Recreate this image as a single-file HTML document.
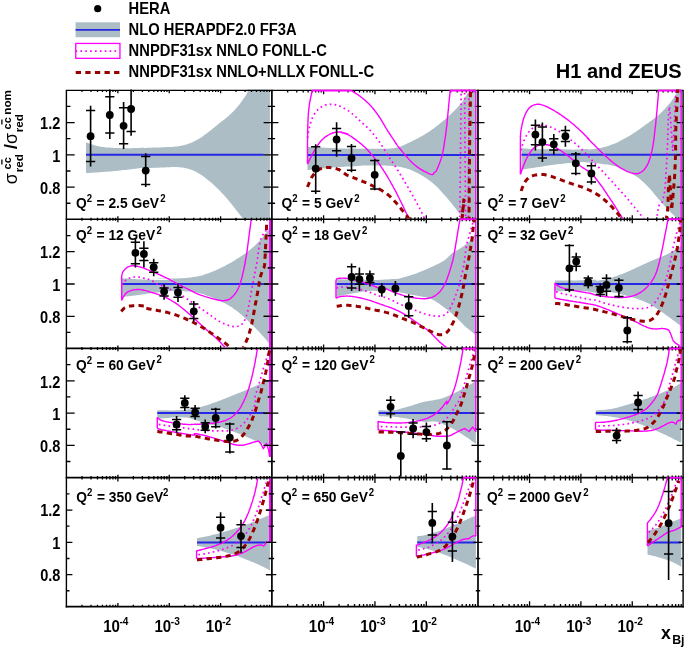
<!DOCTYPE html>
<html><head><meta charset="utf-8"><title>H1 and ZEUS</title>
<style>html,body{margin:0;padding:0;background:#fff;}svg{display:block;will-change:transform;}text{font-family:"Liberation Sans",sans-serif;font-weight:bold;fill:#000;}</style></head><body>
<svg width="685" height="649" viewBox="0 0 685 649">
<rect x="0" y="0" width="685" height="649" fill="#fff"/>
<defs>
<clipPath id="cp00"><rect x="66.4" y="89.50" width="205.5" height="128.90"/></clipPath>
<clipPath id="cp01"><rect x="271.9" y="89.50" width="206.1" height="128.90"/></clipPath>
<clipPath id="cp02"><rect x="478.0" y="89.50" width="205.1" height="128.90"/></clipPath>
<clipPath id="cp10"><rect x="66.4" y="220.10" width="205.5" height="127.45"/></clipPath>
<clipPath id="cp11"><rect x="271.9" y="218.35" width="206.1" height="129.20"/></clipPath>
<clipPath id="cp12"><rect x="478.0" y="218.35" width="205.1" height="129.20"/></clipPath>
<clipPath id="cp20"><rect x="66.4" y="349.25" width="205.5" height="127.50"/></clipPath>
<clipPath id="cp21"><rect x="271.9" y="347.50" width="206.1" height="129.25"/></clipPath>
<clipPath id="cp22"><rect x="478.0" y="347.50" width="205.1" height="129.25"/></clipPath>
<clipPath id="cp30"><rect x="66.4" y="478.45" width="205.5" height="129.15"/></clipPath>
<clipPath id="cp31"><rect x="271.9" y="476.70" width="206.1" height="130.90"/></clipPath>
<clipPath id="cp32"><rect x="478.0" y="476.70" width="205.1" height="130.90"/></clipPath>
</defs>
<g clip-path="url(#cp00)">
<path d="M86.0 142.4 L86.4 142.5 L87.0 142.8 L87.7 143.0 L88.5 143.3 L89.3 143.6 L90.2 144.0 L91.2 144.3 L92.1 144.6 L93.1 144.8 L94.0 145.1 L95.1 145.4 L96.2 145.7 L97.3 146.0 L98.4 146.3 L99.6 146.5 L100.9 146.8 L102.2 146.9 L103.5 147.1 L104.9 147.3 L106.4 147.4 L107.9 147.5 L109.4 147.6 L111.0 147.7 L112.6 147.8 L114.3 147.9 L116.1 148.0 L117.9 148.0 L119.7 148.1 L121.6 148.2 L123.5 148.2 L125.4 148.2 L127.2 148.2 L129.1 148.2 L131.2 148.2 L133.2 148.1 L135.2 148.0 L137.2 148.0 L139.0 147.9 L140.6 147.8 L141.9 147.8 L142.8 147.8 L143.4 147.8 L143.7 147.8 L143.8 147.8 L144.0 147.9 L144.3 147.9 L145.0 147.9 L146.0 147.9 L147.5 147.8 L149.3 147.8 L151.4 147.7 L153.6 147.6 L155.9 147.5 L158.2 147.4 L160.5 147.4 L162.5 147.3 L164.5 147.2 L166.4 147.1 L168.3 147.0 L170.1 147.0 L171.9 146.9 L173.7 146.7 L175.4 146.6 L177.0 146.4 L178.5 146.2 L179.8 146.0 L181.1 145.8 L182.4 145.5 L183.6 145.2 L184.8 144.9 L186.0 144.6 L187.3 144.2 L188.6 143.7 L189.9 143.3 L191.2 142.7 L192.5 142.2 L193.7 141.6 L195.0 141.0 L196.3 140.3 L197.6 139.6 L198.9 138.9 L200.2 138.0 L201.5 137.2 L202.8 136.2 L204.1 135.3 L205.4 134.3 L206.7 133.4 L207.9 132.4 L209.2 131.4 L210.5 130.4 L211.8 129.4 L213.1 128.3 L214.4 127.3 L215.7 126.2 L217.0 125.2 L218.3 124.1 L219.6 123.1 L220.9 122.1 L222.2 121.0 L223.6 120.0 L224.9 119.0 L226.2 117.9 L227.4 116.9 L228.6 115.9 L229.7 114.8 L230.9 113.8 L231.9 112.8 L233.0 111.7 L234.0 110.7 L235.0 109.7 L235.9 108.6 L236.9 107.6 L237.7 106.6 L238.6 105.5 L239.4 104.4 L240.2 103.4 L241.0 102.3 L241.7 101.3 L242.4 100.3 L243.0 99.4 L243.7 98.5 L244.2 97.7 L244.8 96.9 L245.3 96.2 L245.8 95.5 L246.3 94.7 L246.7 94.0 L247.2 93.2 L247.5 92.3 L247.5 91.3 L247.5 90.2 L247.5 89.2 L247.6 88.2 L248.1 87.3 L248.9 86.5 L250.3 85.9 L252.4 85.6 L255.3 85.4 L258.7 85.4 L262.3 85.5 L265.9 85.6 L269.3 85.8 L269.9 85.9 L269.9 85.9 L269.9 224.3 L269.9 224.3 L268.2 224.4 L264.1 224.5 L259.7 224.6 L255.3 224.7 L251.1 224.6 L247.6 224.5 L245.1 224.3 L243.6 223.9 L242.8 223.4 L242.6 222.9 L242.7 222.2 L242.9 221.5 L243.2 220.7 L243.3 219.9 L243.0 219.1 L242.5 218.2 L241.8 217.3 L241.1 216.3 L240.3 215.3 L239.5 214.2 L238.6 213.1 L237.8 212.0 L236.9 210.9 L235.9 209.7 L235.0 208.4 L234.0 207.2 L233.0 205.9 L231.9 204.6 L230.9 203.2 L229.7 201.9 L228.6 200.5 L227.4 199.1 L226.2 197.7 L224.9 196.3 L223.6 194.8 L222.2 193.3 L220.9 191.9 L219.6 190.5 L218.3 189.2 L217.0 187.9 L215.7 186.7 L214.4 185.5 L213.1 184.3 L211.8 183.1 L210.5 182.0 L209.2 180.9 L207.9 179.9 L206.7 178.9 L205.4 177.9 L204.1 176.9 L202.8 175.9 L201.5 175.1 L200.2 174.2 L198.9 173.4 L197.6 172.7 L196.3 172.0 L195.0 171.3 L193.7 170.8 L192.5 170.2 L191.2 169.7 L189.9 169.3 L188.6 168.9 L187.3 168.5 L186.0 168.2 L184.8 167.9 L183.6 167.7 L182.4 167.5 L181.1 167.4 L179.8 167.3 L178.5 167.2 L177.0 167.1 L175.4 167.0 L173.7 167.1 L171.9 167.1 L170.1 167.2 L168.3 167.2 L166.4 167.3 L164.5 167.4 L162.5 167.5 L160.5 167.6 L158.2 167.7 L155.9 167.7 L153.6 167.8 L151.4 167.9 L149.3 168.0 L147.5 168.1 L146.0 168.1 L145.0 168.1 L144.3 168.1 L144.0 168.0 L143.8 168.0 L143.7 167.9 L143.4 167.9 L142.8 167.9 L141.9 168.0 L140.6 168.1 L139.0 168.3 L137.2 168.5 L135.2 168.8 L133.2 169.0 L131.2 169.3 L129.1 169.5 L127.2 169.7 L125.4 169.9 L123.6 170.1 L121.8 170.3 L119.9 170.5 L118.1 170.7 L116.3 170.9 L114.4 171.0 L112.6 171.2 L110.8 171.4 L108.9 171.5 L107.0 171.7 L105.1 171.8 L103.3 172.0 L101.4 172.1 L99.7 172.3 L98.0 172.4 L96.3 172.5 L94.5 172.6 L92.7 172.7 L91.0 172.8 L89.5 172.9 L88.1 173.0 L86.9 173.1 L86.0 173.1 Z" fill="#acbdc6"/>
<path d="M86.0 154.8 L263.7 154.8" stroke="#2727e6" stroke-width="2.0" fill="none"/>
</g>
<g clip-path="url(#cp01)">
<path d="M307.5 146.8 L309.4 146.9 L311.8 147.1 L314.8 147.3 L318.1 147.4 L321.6 147.6 L325.3 147.8 L329.0 148.0 L332.7 148.1 L336.5 148.2 L340.5 148.4 L344.7 148.5 L348.9 148.5 L353.2 148.6 L357.4 148.7 L361.4 148.7 L365.1 148.8 L368.6 148.8 L372.1 148.8 L375.4 148.8 L378.7 148.8 L381.7 148.8 L384.6 148.8 L387.2 148.7 L389.6 148.6 L391.6 148.4 L393.2 148.2 L394.6 148.0 L395.8 147.8 L396.9 147.5 L398.0 147.2 L399.1 146.8 L400.4 146.4 L401.7 145.9 L403.1 145.4 L404.4 144.8 L405.8 144.2 L407.1 143.6 L408.4 143.0 L409.8 142.3 L411.1 141.7 L412.5 141.0 L413.8 140.3 L415.2 139.7 L416.5 139.0 L417.9 138.3 L419.2 137.6 L420.6 136.8 L421.9 136.0 L423.3 135.3 L424.6 134.5 L426.0 133.6 L427.3 132.8 L428.7 131.9 L430.0 131.0 L431.4 130.1 L432.7 129.1 L434.1 128.2 L435.4 127.1 L436.8 126.1 L438.1 125.0 L439.5 123.9 L440.8 122.8 L442.2 121.7 L443.5 120.5 L444.9 119.4 L446.2 118.2 L447.6 117.0 L449.0 115.7 L450.4 114.5 L451.7 113.3 L453.0 112.0 L454.3 110.8 L455.5 109.6 L456.6 108.4 L457.7 107.2 L458.8 106.0 L459.9 104.9 L460.9 103.6 L461.9 102.4 L462.9 101.1 L463.9 99.7 L464.8 98.1 L465.7 96.5 L466.6 94.9 L467.5 93.3 L468.5 91.9 L469.4 90.8 L470.5 89.9 L471.6 89.3 L473.0 89.1 L474.4 89.1 L475.8 89.2 L475.9 89.4 L475.9 89.6 L475.9 89.8 L475.9 89.9 L475.9 219.7 L475.9 219.8 L475.9 219.8 L474.5 219.9 L471.9 220.0 L469.4 220.1 L466.9 220.0 L464.9 220.0 L463.3 219.7 L462.4 219.4 L461.8 219.1 L461.5 218.6 L461.4 218.1 L461.4 217.6 L461.3 216.9 L461.2 216.2 L460.8 215.4 L460.2 214.6 L459.5 213.7 L458.8 212.7 L458.0 211.7 L457.2 210.5 L456.3 209.4 L455.3 208.1 L454.3 206.8 L453.1 205.4 L451.9 203.8 L450.6 202.2 L449.2 200.5 L447.7 198.7 L446.3 197.0 L444.9 195.4 L443.5 193.9 L442.2 192.4 L440.8 190.9 L439.5 189.5 L438.1 188.1 L436.8 186.8 L435.4 185.5 L434.1 184.3 L432.7 183.1 L431.4 182.0 L430.0 180.9 L428.7 179.9 L427.3 179.0 L426.0 178.1 L424.6 177.2 L423.3 176.3 L421.9 175.5 L420.6 174.7 L419.2 174.0 L417.9 173.2 L416.5 172.6 L415.2 171.9 L413.8 171.3 L412.5 170.7 L411.1 170.1 L409.8 169.6 L408.4 169.1 L407.1 168.7 L405.8 168.2 L404.4 167.9 L403.1 167.5 L401.7 167.2 L400.4 166.9 L399.1 166.7 L397.9 166.5 L396.8 166.3 L395.6 166.2 L394.4 166.1 L393.0 166.0 L391.4 165.9 L389.6 165.8 L387.3 165.7 L384.8 165.6 L381.9 165.5 L379.0 165.5 L376.0 165.4 L373.1 165.4 L370.4 165.4 L368.0 165.4 L366.0 165.4 L364.2 165.5 L362.6 165.6 L361.1 165.7 L359.7 165.8 L358.1 166.0 L356.3 166.1 L354.3 166.2 L352.0 166.4 L349.5 166.5 L346.9 166.6 L344.2 166.8 L341.4 166.9 L338.5 167.1 L335.6 167.3 L332.7 167.5 L329.6 167.8 L326.1 168.2 L322.4 168.5 L318.7 168.9 L315.3 169.3 L312.1 169.6 L309.4 169.9 L307.5 170.1 Z" fill="#acbdc6"/>
<path d="M307.5 154.9 L476.0 154.9" stroke="#2727e6" stroke-width="2.0" fill="none"/>
</g>
<g clip-path="url(#cp02)">
<path d="M521.5 148.2 L522.6 148.3 L524.2 148.4 L526.0 148.6 L528.0 148.7 L530.2 148.9 L532.5 149.0 L534.9 149.1 L537.3 149.2 L539.8 149.3 L542.5 149.3 L545.4 149.3 L548.3 149.3 L551.3 149.2 L554.1 149.2 L556.8 149.2 L559.2 149.2 L561.4 149.3 L563.4 149.3 L565.3 149.4 L567.0 149.5 L568.7 149.6 L570.4 149.6 L572.1 149.7 L573.9 149.7 L575.8 149.6 L577.9 149.5 L580.0 149.4 L582.1 149.3 L584.1 149.2 L585.9 149.0 L587.4 149.0 L588.5 148.9 L589.1 149.0 L589.1 149.1 L588.8 149.2 L588.3 149.4 L587.7 149.5 L587.4 149.7 L587.4 149.7 L588.0 149.7 L589.1 149.6 L590.6 149.4 L592.4 149.2 L594.4 148.9 L596.5 148.6 L598.6 148.3 L600.7 147.9 L602.6 147.5 L604.5 147.0 L606.3 146.5 L608.1 145.9 L610.0 145.3 L611.8 144.6 L613.6 143.9 L615.4 143.2 L617.3 142.4 L619.1 141.5 L620.9 140.6 L622.8 139.6 L624.6 138.6 L626.4 137.6 L628.3 136.5 L630.1 135.4 L631.9 134.3 L633.8 133.1 L635.6 131.9 L637.5 130.6 L639.4 129.2 L641.3 127.9 L643.1 126.6 L644.9 125.3 L646.5 124.1 L648.2 122.9 L649.7 121.8 L651.3 120.7 L652.8 119.6 L654.2 118.5 L655.6 117.4 L657.0 116.4 L658.3 115.3 L659.5 114.2 L660.7 113.0 L661.9 111.9 L663.0 110.8 L664.1 109.7 L665.1 108.6 L666.1 107.5 L667.0 106.5 L667.9 105.5 L668.7 104.6 L669.5 103.7 L670.2 102.8 L670.9 102.0 L671.6 101.1 L672.2 100.1 L672.9 99.2 L673.6 98.1 L674.2 97.0 L674.9 95.9 L675.5 94.8 L676.1 93.6 L676.6 92.5 L677.1 91.4 L677.6 90.4 L677.9 89.4 L678.0 88.3 L678.1 87.2 L678.1 86.2 L678.2 85.2 L678.4 84.4 L678.8 83.6 L679.5 83.1 L680.5 82.7 L681.3 82.6 L681.3 82.5 L681.3 82.6 L681.3 82.8 L681.3 82.9 L681.3 83.0 L681.3 83.1 L681.3 220.3 L681.3 220.3 L681.3 220.4 L681.3 220.4 L681.3 220.5 L681.3 220.5 L681.1 220.5 L679.6 220.4 L678.5 220.3 L677.7 220.1 L677.3 219.9 L677.1 219.7 L676.9 219.4 L676.8 219.0 L676.7 218.6 L676.4 218.0 L675.8 217.4 L675.0 216.6 L674.1 215.6 L673.0 214.6 L671.9 213.5 L670.7 212.3 L669.5 211.1 L668.2 209.9 L667.0 208.6 L665.8 207.3 L664.6 205.9 L663.3 204.4 L662.0 202.9 L660.7 201.4 L659.4 199.9 L658.1 198.4 L656.8 196.9 L655.5 195.4 L654.2 193.9 L653.0 192.3 L651.7 190.8 L650.4 189.3 L649.1 187.9 L647.8 186.5 L646.5 185.2 L645.3 183.9 L644.0 182.7 L642.7 181.5 L641.4 180.4 L640.1 179.3 L638.9 178.3 L637.6 177.3 L636.3 176.4 L635.0 175.5 L633.8 174.7 L632.5 173.9 L631.3 173.2 L630.0 172.5 L628.7 171.8 L627.4 171.2 L626.1 170.5 L624.7 169.9 L623.2 169.3 L621.8 168.7 L620.3 168.1 L618.8 167.6 L617.3 167.0 L615.8 166.6 L614.3 166.1 L612.9 165.7 L611.5 165.4 L610.1 165.1 L608.7 164.8 L607.2 164.6 L605.8 164.4 L604.2 164.2 L602.6 163.9 L600.9 163.7 L599.0 163.5 L597.0 163.3 L595.0 163.1 L593.0 162.9 L591.2 162.7 L589.5 162.6 L588.0 162.5 L586.8 162.4 L585.9 162.3 L585.2 162.2 L584.6 162.1 L584.0 162.1 L583.3 162.1 L582.4 162.1 L581.2 162.1 L579.7 162.2 L578.1 162.3 L576.3 162.4 L574.4 162.6 L572.4 162.7 L570.4 162.9 L568.4 163.1 L566.5 163.3 L564.7 163.5 L562.9 163.7 L561.1 163.9 L559.2 164.1 L557.4 164.3 L555.6 164.6 L553.7 164.8 L551.9 165.0 L550.1 165.3 L548.3 165.6 L546.5 165.8 L544.7 166.1 L542.8 166.4 L541.0 166.7 L539.2 166.9 L537.3 167.2 L535.2 167.5 L533.0 167.9 L530.7 168.3 L528.5 168.6 L526.3 169.0 L524.3 169.3 L522.7 169.5 L521.5 169.7 Z" fill="#acbdc6"/>
<path d="M521.5 154.8 L682.0 154.8" stroke="#2727e6" stroke-width="2.0" fill="none"/>
</g>
<g clip-path="url(#cp10)">
<path d="M121.7 278.2 L122.8 278.3 L124.2 278.4 L125.9 278.5 L127.8 278.6 L129.8 278.8 L132.0 278.9 L134.3 279.1 L136.6 279.2 L139.1 279.3 L141.8 279.4 L144.6 279.5 L147.6 279.7 L150.5 279.8 L153.4 279.8 L156.1 279.9 L158.5 279.9 L160.9 280.0 L163.5 280.0 L165.9 280.0 L168.3 279.9 L170.3 279.9 L171.9 279.8 L172.9 279.8 L173.2 279.6 L172.3 279.5 L170.3 279.3 L167.6 279.1 L164.5 278.8 L161.4 278.6 L158.8 278.4 L157.0 278.2 L156.5 278.1 L157.3 278.0 L159.0 278.1 L161.5 278.2 L164.4 278.3 L167.7 278.4 L171.0 278.5 L174.2 278.5 L177.0 278.5 L179.6 278.3 L182.3 278.2 L185.1 277.9 L187.9 277.7 L190.5 277.4 L193.1 277.1 L195.4 276.7 L197.5 276.4 L199.2 276.1 L200.8 275.8 L202.1 275.4 L203.2 275.0 L204.3 274.6 L205.4 274.2 L206.5 273.8 L207.7 273.4 L209.0 272.9 L210.3 272.4 L211.6 271.9 L212.8 271.4 L214.1 270.9 L215.4 270.4 L216.7 269.8 L218.0 269.3 L219.2 268.7 L220.5 268.1 L221.8 267.5 L223.1 266.8 L224.4 266.2 L225.7 265.5 L226.9 264.8 L228.2 264.1 L229.5 263.4 L230.8 262.7 L232.1 261.9 L233.3 261.2 L234.6 260.4 L235.9 259.6 L237.2 258.8 L238.5 258.0 L239.7 257.2 L241.0 256.3 L242.3 255.5 L243.6 254.6 L244.9 253.7 L246.1 252.8 L247.4 251.8 L248.7 250.8 L250.0 249.8 L251.3 248.7 L252.6 247.5 L254.0 246.4 L255.3 245.2 L256.5 244.0 L257.8 242.8 L259.0 241.6 L260.1 240.3 L261.3 239.0 L262.4 237.6 L263.5 236.3 L264.5 234.9 L265.5 233.6 L266.4 232.4 L267.1 231.3 L267.8 230.4 L268.3 229.5 L268.7 228.7 L269.1 228.0 L269.4 227.3 L269.6 226.6 L269.9 225.9 L269.9 225.2 L269.9 224.4 L269.9 223.5 L269.9 222.6 L269.9 221.7 L269.9 220.9 L269.9 220.2 L269.9 219.5 L269.9 219.0 L269.9 218.8 L269.9 218.6 L269.9 218.6 L269.9 218.7 L269.9 218.8 L269.9 218.9 L269.9 219.0 L269.9 219.0 L269.9 348.1 L269.9 348.2 L269.9 348.3 L269.9 348.5 L269.9 348.6 L269.9 348.7 L269.9 348.7 L269.9 348.5 L269.9 348.1 L269.9 347.6 L269.9 346.9 L269.9 346.1 L269.8 345.1 L269.2 344.1 L268.6 343.1 L267.9 342.0 L267.1 341.0 L266.3 339.9 L265.4 338.8 L264.4 337.7 L263.4 336.6 L262.3 335.4 L261.2 334.2 L260.1 333.0 L259.0 331.8 L257.8 330.5 L256.5 329.2 L255.3 327.9 L254.0 326.6 L252.6 325.3 L251.3 324.0 L250.0 322.7 L248.7 321.5 L247.4 320.3 L246.1 319.1 L244.9 317.9 L243.6 316.7 L242.3 315.5 L241.0 314.4 L239.7 313.3 L238.5 312.3 L237.2 311.3 L235.9 310.3 L234.6 309.4 L233.3 308.4 L232.1 307.6 L230.8 306.7 L229.5 305.9 L228.2 305.1 L226.9 304.4 L225.7 303.7 L224.4 303.0 L223.1 302.4 L221.8 301.7 L220.5 301.2 L219.2 300.6 L218.0 300.0 L216.7 299.4 L215.4 298.9 L214.1 298.3 L212.8 297.8 L211.6 297.3 L210.3 296.8 L209.0 296.3 L207.7 295.9 L206.5 295.5 L205.4 295.0 L204.3 294.6 L203.2 294.2 L202.1 293.9 L200.8 293.5 L199.2 293.1 L197.5 292.8 L195.4 292.5 L193.1 292.1 L190.5 291.8 L187.9 291.5 L185.1 291.2 L182.3 291.0 L179.6 290.8 L177.0 290.8 L174.2 290.9 L171.2 291.1 L168.0 291.4 L164.9 291.7 L162.0 292.1 L159.5 292.4 L157.6 292.7 L156.5 292.8 L156.4 292.8 L157.3 292.7 L158.9 292.5 L160.8 292.3 L162.8 292.0 L164.5 291.8 L165.6 291.7 L165.9 291.6 L165.2 291.7 L163.9 291.8 L162.1 292.0 L160.0 292.2 L157.8 292.4 L155.5 292.6 L153.2 292.9 L151.2 293.1 L149.4 293.4 L147.6 293.6 L145.8 293.9 L143.9 294.2 L142.1 294.5 L140.3 294.8 L138.4 295.1 L136.6 295.3 L134.6 295.5 L132.5 295.8 L130.4 296.0 L128.2 296.2 L126.2 296.4 L124.4 296.5 L122.8 296.7 L121.7 296.8 Z" fill="#acbdc6"/>
<path d="M121.7 284.1 L263.5 284.1" stroke="#2727e6" stroke-width="2.0" fill="none"/>
</g>
<g clip-path="url(#cp11)">
<path d="M336.4 279.2 L337.8 279.2 L339.5 279.3 L341.6 279.3 L344.0 279.4 L346.5 279.5 L349.1 279.5 L351.7 279.6 L354.3 279.6 L356.9 279.7 L359.6 279.8 L362.5 279.8 L365.5 279.9 L368.4 279.9 L371.2 279.9 L373.8 280.0 L376.2 279.9 L378.4 279.9 L380.5 279.8 L382.5 279.7 L384.4 279.6 L386.1 279.5 L387.8 279.4 L389.4 279.3 L390.9 279.2 L392.2 279.1 L393.3 279.1 L394.3 279.1 L395.3 279.0 L396.2 279.0 L397.2 278.9 L398.3 278.7 L399.6 278.4 L401.2 278.1 L402.9 277.6 L404.7 277.1 L406.6 276.5 L408.5 275.9 L410.5 275.3 L412.4 274.7 L414.3 274.0 L416.1 273.4 L417.9 272.7 L419.8 272.0 L421.6 271.3 L423.4 270.5 L425.3 269.8 L427.1 269.0 L428.9 268.2 L430.8 267.3 L432.7 266.4 L434.7 265.5 L436.6 264.6 L438.5 263.7 L440.3 262.7 L442.0 261.8 L443.5 260.9 L444.9 259.9 L446.0 259.0 L447.1 258.1 L448.0 257.2 L448.9 256.2 L449.8 255.3 L450.8 254.5 L451.8 253.6 L453.0 252.8 L454.2 252.1 L455.4 251.3 L456.6 250.6 L457.8 249.9 L459.0 249.2 L460.1 248.5 L461.2 247.8 L462.2 247.1 L463.2 246.4 L464.1 245.8 L465.0 245.1 L465.9 244.5 L466.7 243.8 L467.5 243.2 L468.2 242.5 L468.9 241.9 L469.6 241.2 L470.2 240.5 L470.8 239.8 L471.4 239.2 L471.9 238.5 L472.4 237.9 L472.9 237.2 L473.4 236.6 L473.7 236.1 L474.1 235.5 L474.4 234.9 L474.7 234.4 L475.1 233.8 L475.4 233.2 L475.8 232.6 L475.9 231.8 L475.9 231.0 L475.9 230.2 L475.9 229.3 L475.9 228.5 L475.9 227.8 L475.9 227.2 L475.9 226.7 L475.9 337.0 L475.9 336.6 L475.9 336.2 L475.9 335.7 L475.9 335.1 L475.4 334.5 L474.5 333.9 L473.7 333.2 L472.8 332.6 L472.0 331.9 L471.1 331.2 L470.2 330.6 L469.3 329.8 L468.3 329.1 L467.4 328.3 L466.4 327.5 L465.5 326.7 L464.6 325.9 L463.7 325.0 L462.8 324.1 L461.8 323.1 L460.9 322.2 L460.0 321.2 L459.1 320.3 L458.2 319.4 L457.3 318.5 L456.4 317.7 L455.4 316.8 L454.5 316.0 L453.6 315.2 L452.7 314.4 L451.8 313.6 L450.9 312.8 L450.0 312.0 L449.0 311.3 L448.1 310.5 L447.2 309.8 L446.3 309.1 L445.4 308.4 L444.5 307.7 L443.5 307.0 L442.6 306.3 L441.7 305.6 L440.8 304.9 L439.9 304.3 L439.0 303.6 L438.1 303.0 L437.1 302.4 L436.2 301.8 L435.4 301.3 L434.6 300.8 L433.8 300.3 L433.0 299.9 L432.2 299.4 L431.3 299.0 L430.2 298.6 L428.9 298.2 L427.4 297.8 L425.8 297.4 L424.0 297.0 L422.0 296.7 L420.1 296.3 L418.1 296.0 L416.2 295.6 L414.3 295.3 L412.4 294.9 L410.6 294.5 L408.8 294.2 L407.0 293.8 L405.1 293.4 L403.3 293.1 L401.5 292.7 L399.6 292.3 L397.7 291.9 L395.7 291.5 L393.6 291.0 L391.5 290.6 L389.5 290.2 L387.7 289.8 L386.2 289.6 L385.0 289.4 L384.3 289.4 L384.0 289.5 L384.1 289.7 L384.3 290.0 L384.5 290.3 L384.5 290.5 L384.3 290.8 L383.5 290.9 L382.3 291.0 L380.8 291.0 L379.0 290.9 L377.1 290.9 L375.0 290.8 L372.9 290.8 L370.8 290.8 L368.9 290.9 L367.1 291.1 L365.3 291.3 L363.6 291.5 L361.8 291.8 L360.0 292.1 L358.2 292.4 L356.3 292.8 L354.3 293.1 L352.1 293.5 L349.6 294.0 L347.0 294.5 L344.4 295.1 L341.9 295.6 L339.7 296.1 L337.8 296.5 L336.4 296.8 Z" fill="#acbdc6"/>
<path d="M336.4 284.0 L475.0 284.0" stroke="#2727e6" stroke-width="2.0" fill="none"/>
</g>
<g clip-path="url(#cp12)">
<path d="M555.0 280.5 L556.4 280.5 L558.4 280.5 L560.7 280.5 L563.2 280.5 L566.0 280.6 L568.8 280.5 L571.6 280.5 L574.3 280.5 L577.1 280.4 L580.1 280.3 L583.3 280.2 L586.5 280.0 L589.6 279.9 L592.3 279.8 L594.6 279.8 L596.2 279.8 L597.1 279.9 L597.2 280.1 L596.8 280.3 L596.1 280.6 L595.3 280.9 L594.7 281.1 L594.6 281.2 L595.0 281.2 L596.1 281.0 L597.5 280.8 L599.3 280.5 L601.3 280.1 L603.4 279.7 L605.5 279.3 L607.6 278.8 L609.5 278.3 L611.3 277.8 L613.1 277.2 L614.9 276.6 L616.7 276.0 L618.5 275.3 L620.3 274.6 L622.2 273.9 L624.0 273.2 L625.8 272.5 L627.6 271.7 L629.4 270.9 L631.2 270.0 L633.0 269.2 L634.8 268.4 L636.6 267.5 L638.5 266.7 L640.3 265.9 L642.1 265.0 L643.9 264.2 L645.7 263.4 L647.5 262.6 L649.3 261.8 L651.1 261.0 L652.9 260.2 L654.8 259.4 L656.6 258.7 L658.5 257.9 L660.3 257.2 L662.1 256.5 L663.9 255.8 L665.6 255.0 L667.2 254.3 L668.7 253.6 L670.1 252.8 L671.5 252.0 L672.8 251.3 L674.1 250.5 L675.3 249.8 L676.5 249.0 L677.7 248.3 L678.9 247.6 L680.1 246.8 L681.3 246.0 L681.3 245.3 L681.3 244.6 L681.3 243.9 L681.3 243.4 L681.3 243.0 L681.3 333.3 L681.3 332.9 L681.3 332.4 L681.3 331.7 L681.3 331.0 L681.3 330.3 L681.3 329.5 L681.3 328.8 L681.3 328.2 L681.3 327.7 L681.3 327.3 L681.3 326.9 L681.3 326.5 L680.8 326.1 L680.3 325.7 L679.7 325.2 L679.0 324.6 L678.1 324.0 L677.2 323.2 L676.1 322.4 L675.0 321.6 L673.9 320.7 L672.7 319.9 L671.5 319.0 L670.3 318.1 L669.1 317.2 L667.9 316.3 L666.6 315.4 L665.3 314.5 L664.0 313.6 L662.7 312.6 L661.5 311.7 L660.2 310.9 L658.9 310.0 L657.7 309.2 L656.4 308.3 L655.2 307.5 L653.9 306.7 L652.7 305.9 L651.4 305.1 L650.0 304.3 L648.7 303.6 L647.3 303.0 L645.9 302.3 L644.5 301.7 L643.1 301.1 L641.6 300.5 L640.1 299.9 L638.5 299.3 L636.8 298.7 L635.0 298.1 L633.2 297.5 L631.4 297.0 L629.5 296.4 L627.7 295.9 L625.8 295.4 L624.0 294.9 L622.1 294.5 L620.2 294.0 L618.3 293.5 L616.3 293.1 L614.5 292.7 L612.7 292.4 L611.0 292.2 L609.5 292.0 L608.2 292.0 L607.1 292.2 L606.2 292.4 L605.3 292.8 L604.5 293.1 L603.5 293.3 L602.4 293.5 L601.1 293.5 L599.5 293.4 L597.7 293.2 L595.9 292.9 L593.9 292.5 L591.8 292.2 L589.8 291.8 L587.7 291.5 L585.8 291.3 L583.8 291.2 L581.9 291.0 L580.0 291.0 L578.1 290.9 L576.2 290.9 L574.3 290.9 L572.4 290.9 L570.4 290.9 L568.4 290.9 L566.2 291.0 L564.0 291.1 L561.8 291.2 L559.7 291.3 L557.9 291.4 L556.3 291.4 L555.1 291.5 Z" fill="#acbdc6"/>
<path d="M555.0 284.0 L681.0 284.0" stroke="#2727e6" stroke-width="2.0" fill="none"/>
</g>
<g clip-path="url(#cp20)">
<path d="M157.3 410.3 L159.1 410.3 L161.4 410.3 L164.3 410.3 L167.4 410.3 L170.6 410.4 L173.8 410.4 L176.7 410.3 L179.3 410.3 L181.5 410.1 L183.8 410.0 L185.9 409.8 L187.9 409.5 L189.7 409.3 L191.4 409.1 L192.8 408.9 L193.9 408.8 L194.6 408.7 L194.9 408.7 L194.8 408.8 L194.6 408.9 L194.4 408.9 L194.2 408.9 L194.4 408.8 L195.0 408.7 L196.0 408.4 L197.3 408.0 L198.8 407.5 L200.5 407.0 L202.3 406.5 L204.1 406.0 L205.8 405.4 L207.5 404.9 L209.0 404.4 L210.6 403.9 L212.2 403.3 L213.7 402.8 L215.3 402.3 L216.8 401.7 L218.4 401.1 L220.0 400.5 L221.5 399.9 L223.1 399.3 L224.6 398.7 L226.2 398.1 L227.8 397.4 L229.3 396.8 L230.9 396.2 L232.4 395.5 L234.0 394.9 L235.6 394.3 L237.2 393.6 L238.8 393.0 L240.4 392.4 L242.0 391.8 L243.5 391.2 L244.9 390.6 L246.3 390.0 L247.7 389.4 L249.0 388.8 L250.2 388.3 L251.5 387.7 L252.6 387.2 L253.8 386.7 L254.9 386.2 L256.0 385.7 L257.0 385.3 L258.0 384.9 L258.9 384.5 L259.8 384.1 L260.7 383.8 L261.5 383.4 L262.4 383.1 L263.2 382.7 L264.0 382.4 L264.8 382.1 L265.6 381.8 L266.4 381.5 L267.1 381.2 L267.9 380.9 L268.6 380.6 L269.5 380.2 L269.9 379.8 L269.9 379.4 L269.9 379.0 L269.9 378.6 L269.9 378.2 L269.9 377.9 L269.9 377.7 L269.9 448.9 L269.9 448.8 L269.9 448.6 L269.9 448.4 L269.9 448.1 L269.9 447.9 L269.9 447.6 L269.9 447.3 L269.9 446.9 L269.1 446.6 L268.2 446.2 L267.3 445.8 L266.3 445.4 L265.3 444.9 L264.3 444.5 L263.4 444.1 L262.4 443.7 L261.5 443.3 L260.6 442.9 L259.7 442.6 L258.8 442.2 L257.9 441.8 L257.0 441.4 L256.0 441.0 L254.9 440.6 L253.8 440.1 L252.6 439.6 L251.5 439.0 L250.2 438.5 L249.0 437.9 L247.7 437.4 L246.3 436.8 L244.9 436.2 L243.5 435.6 L242.0 435.0 L240.4 434.3 L238.8 433.7 L237.2 433.1 L235.6 432.4 L234.0 431.8 L232.4 431.2 L230.9 430.6 L229.3 430.0 L227.8 429.5 L226.2 428.9 L224.6 428.4 L223.1 427.8 L221.5 427.3 L220.0 426.8 L218.4 426.4 L216.8 426.0 L215.3 425.6 L213.7 425.2 L212.2 424.9 L210.6 424.5 L209.0 424.1 L207.5 423.7 L205.9 423.3 L204.3 422.8 L202.6 422.3 L201.0 421.8 L199.4 421.3 L197.8 420.8 L196.4 420.4 L195.0 420.0 L193.8 419.6 L192.8 419.2 L191.8 418.9 L190.9 418.5 L190.0 418.2 L189.0 418.0 L187.9 417.7 L186.6 417.6 L185.1 417.4 L183.4 417.4 L181.6 417.3 L179.7 417.3 L177.7 417.4 L175.8 417.4 L173.8 417.5 L172.0 417.6 L170.0 417.7 L168.0 417.9 L165.8 418.1 L163.7 418.3 L161.7 418.5 L159.9 418.7 L158.4 418.9 L157.3 419.0 Z" fill="#acbdc6"/>
<path d="M157.3 413.1 L264.3 413.1" stroke="#2727e6" stroke-width="2.0" fill="none"/>
</g>
<g clip-path="url(#cp21)">
<path d="M378.6 410.1 L379.8 410.2 L381.4 410.2 L383.3 410.3 L385.4 410.4 L387.6 410.4 L389.8 410.4 L392.0 410.3 L394.0 410.1 L395.8 409.9 L397.7 409.5 L399.5 409.1 L401.3 408.6 L403.1 408.1 L405.0 407.5 L406.8 407.0 L408.6 406.5 L410.4 405.9 L412.2 405.4 L414.0 404.8 L415.7 404.3 L417.5 403.7 L419.4 403.1 L421.3 402.6 L423.2 402.1 L425.3 401.6 L427.6 401.2 L429.9 400.8 L432.3 400.4 L434.6 400.0 L436.9 399.6 L438.9 399.2 L440.8 398.8 L442.4 398.3 L443.9 397.8 L445.2 397.3 L446.4 396.8 L447.6 396.3 L448.7 395.7 L449.9 395.2 L451.1 394.6 L452.4 394.0 L453.8 393.4 L455.1 392.7 L456.5 392.0 L457.8 391.4 L459.1 390.7 L460.3 390.1 L461.5 389.5 L462.5 388.9 L463.5 388.3 L464.5 387.8 L465.4 387.3 L466.3 386.8 L467.1 386.3 L467.9 385.8 L468.7 385.3 L469.4 384.9 L470.2 384.5 L470.9 384.0 L471.5 383.7 L472.2 383.3 L472.8 382.9 L473.3 382.6 L473.8 382.2 L474.3 381.9 L474.7 381.7 L475.1 381.4 L475.4 381.2 L475.7 381.0 L475.9 380.7 L475.9 380.5 L475.9 380.2 L475.9 379.8 L475.9 379.4 L475.9 378.9 L475.9 378.5 L475.9 378.0 L475.9 377.7 L475.9 377.3 L475.9 377.1 L475.9 449.0 L475.9 448.7 L475.9 448.2 L475.9 447.6 L475.9 447.0 L475.9 446.3 L475.9 445.6 L475.9 445.0 L475.9 444.4 L475.7 443.8 L474.9 443.2 L474.1 442.6 L473.3 442.0 L472.5 441.4 L471.7 440.8 L470.8 440.2 L469.9 439.5 L468.9 438.8 L467.9 438.1 L466.8 437.4 L465.7 436.7 L464.6 435.9 L463.5 435.2 L462.3 434.4 L461.1 433.7 L459.9 432.9 L458.8 432.2 L457.6 431.5 L456.4 430.8 L455.1 430.0 L453.8 429.3 L452.4 428.6 L450.9 427.8 L449.2 427.0 L447.5 426.1 L445.6 425.2 L443.7 424.4 L441.8 423.5 L439.9 422.8 L438.0 422.1 L436.2 421.7 L434.5 421.4 L432.9 421.3 L431.3 421.4 L429.7 421.5 L428.2 421.7 L426.6 421.9 L424.9 421.9 L423.2 421.8 L421.5 421.6 L419.7 421.3 L417.9 420.9 L416.0 420.5 L414.2 420.1 L412.3 419.7 L410.4 419.3 L408.6 418.9 L406.8 418.6 L405.0 418.3 L403.1 418.0 L401.3 417.7 L399.5 417.4 L397.7 417.1 L395.8 416.9 L394.0 416.7 L392.0 416.6 L389.8 416.5 L387.6 416.4 L385.4 416.4 L383.3 416.3 L381.4 416.3 L379.8 416.3 L378.6 416.3 Z" fill="#acbdc6"/>
<path d="M378.6 413.1 L476.0 413.1" stroke="#2727e6" stroke-width="2.0" fill="none"/>
</g>
<g clip-path="url(#cp22)">
<path d="M595.8 410.4 L597.0 410.3 L598.5 410.2 L600.4 410.0 L602.4 409.9 L604.6 409.7 L606.8 409.5 L608.9 409.3 L610.8 409.0 L612.6 408.7 L614.3 408.3 L616.1 407.9 L617.8 407.4 L619.5 407.0 L621.2 406.5 L622.9 406.0 L624.7 405.5 L626.4 405.0 L628.1 404.5 L629.9 404.0 L631.6 403.5 L633.3 403.0 L635.1 402.5 L636.8 401.9 L638.5 401.4 L640.3 400.8 L642.0 400.2 L643.7 399.6 L645.5 399.0 L647.2 398.4 L648.9 397.8 L650.7 397.1 L652.4 396.5 L654.2 395.8 L656.0 395.1 L657.8 394.4 L659.6 393.7 L661.4 393.0 L663.1 392.3 L664.7 391.6 L666.3 391.0 L667.7 390.3 L669.1 389.7 L670.4 389.0 L671.7 388.4 L672.8 387.8 L674.0 387.2 L675.0 386.6 L676.0 386.1 L676.9 385.6 L677.7 385.1 L678.4 384.7 L679.0 384.3 L679.6 383.9 L680.3 383.5 L680.9 383.1 L681.3 382.6 L681.3 382.2 L681.3 381.7 L681.3 381.2 L681.3 380.7 L681.3 380.2 L681.3 379.8 L681.3 379.4 L681.3 379.2 L681.3 445.7 L681.3 445.5 L681.3 445.2 L681.3 444.9 L681.3 444.5 L681.3 444.1 L681.3 443.7 L681.3 443.3 L681.3 443.0 L680.9 442.6 L680.3 442.3 L679.6 442.0 L679.0 441.7 L678.4 441.4 L677.7 441.0 L676.9 440.6 L676.0 440.2 L675.0 439.7 L674.0 439.2 L672.8 438.6 L671.7 438.0 L670.4 437.3 L669.1 436.7 L667.7 436.0 L666.3 435.3 L664.7 434.6 L663.1 433.9 L661.4 433.1 L659.6 432.3 L657.8 431.4 L656.0 430.6 L654.2 429.8 L652.4 429.1 L650.7 428.4 L648.9 427.6 L647.2 426.9 L645.5 426.2 L643.7 425.5 L642.0 424.8 L640.3 424.2 L638.5 423.5 L636.8 422.9 L635.1 422.4 L633.3 421.8 L631.6 421.3 L629.9 420.8 L628.1 420.3 L626.4 419.8 L624.7 419.4 L622.9 419.0 L621.2 418.6 L619.5 418.2 L617.8 417.8 L616.1 417.5 L614.3 417.2 L612.6 416.9 L610.8 416.6 L608.9 416.4 L606.8 416.1 L604.6 415.9 L602.4 415.7 L600.4 415.6 L598.5 415.4 L597.0 415.3 L595.8 415.2 Z" fill="#acbdc6"/>
<path d="M595.8 413.0 L681.3 413.0" stroke="#2727e6" stroke-width="2.0" fill="none"/>
</g>
<g clip-path="url(#cp30)">
<path d="M197.0 538.1 L197.9 538.0 L199.1 537.8 L200.5 537.5 L202.0 537.3 L203.7 537.0 L205.4 536.6 L207.2 536.3 L208.8 535.9 L210.4 535.5 L212.1 535.1 L213.9 534.6 L215.6 534.2 L217.4 533.7 L219.2 533.2 L220.9 532.7 L222.7 532.2 L224.4 531.7 L226.1 531.2 L227.9 530.7 L229.6 530.2 L231.3 529.6 L233.1 529.1 L234.8 528.6 L236.5 528.0 L238.3 527.4 L240.1 526.8 L241.9 526.2 L243.7 525.6 L245.5 525.0 L247.2 524.3 L248.9 523.7 L250.4 523.2 L251.8 522.6 L253.2 522.1 L254.4 521.5 L255.6 521.0 L256.8 520.5 L257.9 520.0 L259.0 519.5 L260.1 519.0 L261.3 518.5 L262.4 518.0 L263.6 517.6 L264.7 517.1 L265.7 516.6 L266.7 516.2 L267.6 515.9 L268.4 515.5 L269.1 515.3 L269.6 515.1 L269.9 514.9 L269.9 514.7 L269.9 514.6 L269.9 514.5 L269.9 514.3 L269.9 514.1 L269.9 513.9 L269.9 513.6 L269.9 513.3 L269.9 513.0 L269.9 512.7 L269.9 512.5 L269.9 512.2 L269.9 512.1 L269.9 573.7 L269.9 573.4 L269.9 573.1 L269.9 572.7 L269.9 572.3 L269.9 571.8 L269.9 571.3 L269.9 570.7 L269.8 570.2 L268.7 569.7 L267.6 569.1 L266.4 568.5 L265.1 567.8 L263.9 567.2 L262.6 566.6 L261.4 566.0 L260.1 565.4 L258.9 564.8 L257.8 564.3 L256.7 563.8 L255.5 563.3 L254.4 562.8 L253.1 562.3 L251.8 561.8 L250.4 561.2 L248.9 560.6 L247.2 559.9 L245.5 559.2 L243.7 558.4 L241.9 557.7 L240.1 557.0 L238.3 556.3 L236.5 555.7 L234.8 555.1 L233.1 554.5 L231.3 554.0 L229.6 553.4 L227.9 552.9 L226.1 552.5 L224.4 552.0 L222.7 551.5 L220.9 551.0 L219.2 550.5 L217.4 550.1 L215.6 549.6 L213.9 549.2 L212.1 548.8 L210.4 548.4 L208.8 548.0 L207.2 547.7 L205.4 547.4 L203.7 547.1 L202.0 546.8 L200.5 546.5 L199.1 546.3 L197.9 546.1 L197.0 546.0 Z" fill="#acbdc6"/>
<path d="M197.0 542.5 L265.7 542.5" stroke="#2727e6" stroke-width="2.0" fill="none"/>
</g>
<g clip-path="url(#cp31)">
<path d="M417.2 536.3 L417.8 536.2 L418.6 536.1 L419.6 536.0 L420.6 535.9 L421.8 535.7 L423.1 535.5 L424.4 535.3 L425.8 534.9 L427.3 534.6 L428.9 534.1 L430.6 533.6 L432.4 533.1 L434.2 532.6 L436.1 532.0 L437.9 531.4 L439.7 530.8 L441.4 530.2 L443.2 529.5 L445.0 528.8 L446.8 528.1 L448.5 527.3 L450.3 526.6 L451.9 525.9 L453.5 525.2 L455.1 524.6 L456.6 523.9 L458.1 523.3 L459.5 522.7 L460.9 522.0 L462.2 521.5 L463.5 520.9 L464.6 520.4 L465.7 519.9 L466.7 519.5 L467.7 519.1 L468.5 518.7 L469.4 518.3 L470.1 518.0 L470.9 517.6 L471.6 517.3 L472.2 517.1 L472.7 516.8 L473.2 516.6 L473.7 516.4 L474.1 516.2 L474.6 516.0 L475.1 515.8 L475.7 515.5 L475.9 515.2 L475.9 514.8 L475.9 514.4 L475.9 514.0 L475.9 513.6 L475.9 513.3 L475.9 513.0 L475.9 512.8 L475.9 571.6 L475.9 571.4 L475.9 571.1 L475.9 570.8 L475.9 570.4 L475.9 570.0 L475.9 569.5 L475.9 569.1 L475.7 568.6 L474.5 568.0 L473.3 567.4 L471.9 566.7 L470.4 566.0 L469.0 565.3 L467.5 564.6 L466.1 563.9 L464.6 563.3 L463.3 562.7 L461.9 562.1 L460.6 561.5 L459.3 560.9 L457.9 560.3 L456.5 559.7 L455.1 559.1 L453.5 558.4 L451.9 557.8 L450.3 557.1 L448.5 556.3 L446.8 555.6 L445.0 554.9 L443.2 554.2 L441.4 553.5 L439.7 552.9 L437.9 552.3 L436.1 551.7 L434.2 551.1 L432.4 550.6 L430.6 550.1 L428.9 549.6 L427.3 549.1 L425.8 548.7 L424.4 548.4 L423.1 548.0 L421.8 547.7 L420.6 547.4 L419.6 547.2 L418.6 547.0 L417.8 546.8 L417.2 546.6 Z" fill="#acbdc6"/>
<path d="M417.2 542.5 L475.7 542.5" stroke="#2727e6" stroke-width="2.0" fill="none"/>
</g>
<g clip-path="url(#cp32)">
<path d="M647.5 530.8 L648.4 530.5 L649.6 530.2 L650.9 529.8 L652.5 529.4 L654.1 528.9 L655.8 528.4 L657.4 527.9 L658.9 527.4 L660.4 526.8 L661.9 526.2 L663.4 525.6 L664.9 524.9 L666.4 524.2 L667.9 523.5 L669.4 522.9 L670.8 522.3 L672.1 521.7 L673.5 521.2 L674.9 520.7 L676.3 520.2 L677.6 519.7 L678.8 519.2 L679.9 518.8 L680.9 518.4 L681.3 518.0 L681.3 517.7 L681.3 517.4 L681.3 517.1 L681.3 516.9 L681.3 516.7 L681.3 516.5 L681.3 516.4 L681.3 568.9 L681.3 568.7 L681.3 568.5 L681.3 568.3 L681.3 568.0 L681.3 567.6 L681.3 567.2 L681.3 566.8 L680.9 566.4 L679.9 565.9 L678.8 565.3 L677.6 564.6 L676.3 563.9 L674.9 563.2 L673.5 562.5 L672.1 561.9 L670.8 561.3 L669.4 560.7 L667.9 560.2 L666.4 559.7 L664.9 559.2 L663.4 558.7 L661.9 558.3 L660.4 557.8 L658.9 557.4 L657.4 557.0 L655.8 556.5 L654.1 556.1 L652.5 555.7 L650.9 555.3 L649.6 555.0 L648.4 554.7 L647.5 554.5 Z" fill="#acbdc6"/>
<path d="M647.5 542.4 L680.9 542.4" stroke="#2727e6" stroke-width="2.0" fill="none"/>
</g>
<path d="M66.40 203.27 h4.10 M271.90 203.27 h-4.10 M66.40 187.13 h8.30 M271.90 187.13 h-8.30 M66.40 170.99 h4.10 M271.90 170.99 h-4.10 M66.40 154.85 h8.30 M271.90 154.85 h-8.30 M66.40 138.71 h4.10 M271.90 138.71 h-4.10 M66.40 122.57 h8.30 M271.90 122.57 h-8.30 M66.40 106.43 h4.10 M271.90 106.43 h-4.10 M82.01 90.40 v1.50 M82.01 219.25 v-1.50 M91.05 90.40 v1.50 M91.05 219.25 v-1.50 M97.47 90.40 v1.50 M97.47 219.25 v-1.50 M102.44 90.40 v1.50 M102.44 219.25 v-1.50 M106.51 90.40 v1.50 M106.51 219.25 v-1.50 M109.95 90.40 v1.50 M109.95 219.25 v-1.50 M112.92 90.40 v1.50 M112.92 219.25 v-1.50 M115.55 90.40 v1.50 M115.55 219.25 v-1.50 M117.90 90.40 v2.90 M117.90 219.25 v-2.90 M133.36 90.40 v1.50 M133.36 219.25 v-1.50 M142.40 90.40 v1.50 M142.40 219.25 v-1.50 M148.82 90.40 v1.50 M148.82 219.25 v-1.50 M153.79 90.40 v1.50 M153.79 219.25 v-1.50 M157.86 90.40 v1.50 M157.86 219.25 v-1.50 M161.30 90.40 v1.50 M161.30 219.25 v-1.50 M164.27 90.40 v1.50 M164.27 219.25 v-1.50 M166.90 90.40 v1.50 M166.90 219.25 v-1.50 M169.25 90.40 v2.90 M169.25 219.25 v-2.90 M184.71 90.40 v1.50 M184.71 219.25 v-1.50 M193.75 90.40 v1.50 M193.75 219.25 v-1.50 M200.17 90.40 v1.50 M200.17 219.25 v-1.50 M205.14 90.40 v1.50 M205.14 219.25 v-1.50 M209.21 90.40 v1.50 M209.21 219.25 v-1.50 M212.65 90.40 v1.50 M212.65 219.25 v-1.50 M215.62 90.40 v1.50 M215.62 219.25 v-1.50 M218.25 90.40 v1.50 M218.25 219.25 v-1.50 M220.60 90.40 v2.90 M220.60 219.25 v-2.90 M236.06 90.40 v1.50 M236.06 219.25 v-1.50 M245.10 90.40 v1.50 M245.10 219.25 v-1.50 M251.52 90.40 v1.50 M251.52 219.25 v-1.50 M256.49 90.40 v1.50 M256.49 219.25 v-1.50 M260.56 90.40 v1.50 M260.56 219.25 v-1.50 M264.00 90.40 v1.50 M264.00 219.25 v-1.50 M266.97 90.40 v1.50 M266.97 219.25 v-1.50 M269.60 90.40 v1.50 M269.60 219.25 v-1.50 M271.90 203.27 h3.20 M478.00 203.27 h-3.20 M271.90 187.13 h6.50 M478.00 187.13 h-6.50 M271.90 170.99 h3.20 M478.00 170.99 h-3.20 M271.90 154.85 h6.50 M478.00 154.85 h-6.50 M271.90 138.71 h3.20 M478.00 138.71 h-3.20 M271.90 122.57 h6.50 M478.00 122.57 h-6.50 M271.90 106.43 h3.20 M478.00 106.43 h-3.20 M287.71 90.40 v2.10 M287.71 219.25 v-2.10 M296.75 90.40 v2.10 M296.75 219.25 v-2.10 M303.17 90.40 v2.10 M303.17 219.25 v-2.10 M308.14 90.40 v2.10 M308.14 219.25 v-2.10 M312.21 90.40 v2.10 M312.21 219.25 v-2.10 M315.65 90.40 v2.10 M315.65 219.25 v-2.10 M318.62 90.40 v2.10 M318.62 219.25 v-2.10 M321.25 90.40 v2.10 M321.25 219.25 v-2.10 M323.60 90.40 v3.90 M323.60 219.25 v-3.90 M339.06 90.40 v2.10 M339.06 219.25 v-2.10 M348.10 90.40 v2.10 M348.10 219.25 v-2.10 M354.52 90.40 v2.10 M354.52 219.25 v-2.10 M359.49 90.40 v2.10 M359.49 219.25 v-2.10 M363.56 90.40 v2.10 M363.56 219.25 v-2.10 M367.00 90.40 v2.10 M367.00 219.25 v-2.10 M369.97 90.40 v2.10 M369.97 219.25 v-2.10 M372.60 90.40 v2.10 M372.60 219.25 v-2.10 M374.95 90.40 v3.90 M374.95 219.25 v-3.90 M390.41 90.40 v2.10 M390.41 219.25 v-2.10 M399.45 90.40 v2.10 M399.45 219.25 v-2.10 M405.87 90.40 v2.10 M405.87 219.25 v-2.10 M410.84 90.40 v2.10 M410.84 219.25 v-2.10 M414.91 90.40 v2.10 M414.91 219.25 v-2.10 M418.35 90.40 v2.10 M418.35 219.25 v-2.10 M421.32 90.40 v2.10 M421.32 219.25 v-2.10 M423.95 90.40 v2.10 M423.95 219.25 v-2.10 M426.30 90.40 v3.90 M426.30 219.25 v-3.90 M441.76 90.40 v2.10 M441.76 219.25 v-2.10 M450.80 90.40 v2.10 M450.80 219.25 v-2.10 M457.22 90.40 v2.10 M457.22 219.25 v-2.10 M462.19 90.40 v2.10 M462.19 219.25 v-2.10 M466.26 90.40 v2.10 M466.26 219.25 v-2.10 M469.70 90.40 v2.10 M469.70 219.25 v-2.10 M472.67 90.40 v2.10 M472.67 219.25 v-2.10 M475.30 90.40 v2.10 M475.30 219.25 v-2.10 M478.00 203.27 h3.20 M683.10 203.27 h-3.20 M478.00 187.13 h6.50 M683.10 187.13 h-6.50 M478.00 170.99 h3.20 M683.10 170.99 h-3.20 M478.00 154.85 h6.50 M683.10 154.85 h-6.50 M478.00 138.71 h3.20 M683.10 138.71 h-3.20 M478.00 122.57 h6.50 M683.10 122.57 h-6.50 M478.00 106.43 h3.20 M683.10 106.43 h-3.20 M493.66 90.40 v2.10 M493.66 219.25 v-2.10 M502.70 90.40 v2.10 M502.70 219.25 v-2.10 M509.12 90.40 v2.10 M509.12 219.25 v-2.10 M514.09 90.40 v2.10 M514.09 219.25 v-2.10 M518.16 90.40 v2.10 M518.16 219.25 v-2.10 M521.60 90.40 v2.10 M521.60 219.25 v-2.10 M524.57 90.40 v2.10 M524.57 219.25 v-2.10 M527.20 90.40 v2.10 M527.20 219.25 v-2.10 M529.55 90.40 v3.90 M529.55 219.25 v-3.90 M545.01 90.40 v2.10 M545.01 219.25 v-2.10 M554.05 90.40 v2.10 M554.05 219.25 v-2.10 M560.47 90.40 v2.10 M560.47 219.25 v-2.10 M565.44 90.40 v2.10 M565.44 219.25 v-2.10 M569.51 90.40 v2.10 M569.51 219.25 v-2.10 M572.95 90.40 v2.10 M572.95 219.25 v-2.10 M575.92 90.40 v2.10 M575.92 219.25 v-2.10 M578.55 90.40 v2.10 M578.55 219.25 v-2.10 M580.90 90.40 v3.90 M580.90 219.25 v-3.90 M596.36 90.40 v2.10 M596.36 219.25 v-2.10 M605.40 90.40 v2.10 M605.40 219.25 v-2.10 M611.82 90.40 v2.10 M611.82 219.25 v-2.10 M616.79 90.40 v2.10 M616.79 219.25 v-2.10 M620.86 90.40 v2.10 M620.86 219.25 v-2.10 M624.30 90.40 v2.10 M624.30 219.25 v-2.10 M627.27 90.40 v2.10 M627.27 219.25 v-2.10 M629.90 90.40 v2.10 M629.90 219.25 v-2.10 M632.25 90.40 v3.90 M632.25 219.25 v-3.90 M647.71 90.40 v2.10 M647.71 219.25 v-2.10 M656.75 90.40 v2.10 M656.75 219.25 v-2.10 M663.17 90.40 v2.10 M663.17 219.25 v-2.10 M668.14 90.40 v2.10 M668.14 219.25 v-2.10 M672.21 90.40 v2.10 M672.21 219.25 v-2.10 M675.65 90.40 v2.10 M675.65 219.25 v-2.10 M678.62 90.40 v2.10 M678.62 219.25 v-2.10 M681.25 90.40 v2.10 M681.25 219.25 v-2.10 M66.40 332.42 h4.10 M271.90 332.42 h-4.10 M66.40 316.28 h8.30 M271.90 316.28 h-8.30 M66.40 300.14 h4.10 M271.90 300.14 h-4.10 M66.40 284.00 h8.30 M271.90 284.00 h-8.30 M66.40 267.86 h4.10 M271.90 267.86 h-4.10 M66.40 251.72 h8.30 M271.90 251.72 h-8.30 M66.40 235.58 h4.10 M271.90 235.58 h-4.10 M82.01 219.25 v1.50 M82.01 348.40 v-1.50 M91.05 219.25 v1.50 M91.05 348.40 v-1.50 M97.47 219.25 v1.50 M97.47 348.40 v-1.50 M102.44 219.25 v1.50 M102.44 348.40 v-1.50 M106.51 219.25 v1.50 M106.51 348.40 v-1.50 M109.95 219.25 v1.50 M109.95 348.40 v-1.50 M112.92 219.25 v1.50 M112.92 348.40 v-1.50 M115.55 219.25 v1.50 M115.55 348.40 v-1.50 M117.90 219.25 v2.90 M117.90 348.40 v-2.90 M133.36 219.25 v1.50 M133.36 348.40 v-1.50 M142.40 219.25 v1.50 M142.40 348.40 v-1.50 M148.82 219.25 v1.50 M148.82 348.40 v-1.50 M153.79 219.25 v1.50 M153.79 348.40 v-1.50 M157.86 219.25 v1.50 M157.86 348.40 v-1.50 M161.30 219.25 v1.50 M161.30 348.40 v-1.50 M164.27 219.25 v1.50 M164.27 348.40 v-1.50 M166.90 219.25 v1.50 M166.90 348.40 v-1.50 M169.25 219.25 v2.90 M169.25 348.40 v-2.90 M184.71 219.25 v1.50 M184.71 348.40 v-1.50 M193.75 219.25 v1.50 M193.75 348.40 v-1.50 M200.17 219.25 v1.50 M200.17 348.40 v-1.50 M205.14 219.25 v1.50 M205.14 348.40 v-1.50 M209.21 219.25 v1.50 M209.21 348.40 v-1.50 M212.65 219.25 v1.50 M212.65 348.40 v-1.50 M215.62 219.25 v1.50 M215.62 348.40 v-1.50 M218.25 219.25 v1.50 M218.25 348.40 v-1.50 M220.60 219.25 v2.90 M220.60 348.40 v-2.90 M236.06 219.25 v1.50 M236.06 348.40 v-1.50 M245.10 219.25 v1.50 M245.10 348.40 v-1.50 M251.52 219.25 v1.50 M251.52 348.40 v-1.50 M256.49 219.25 v1.50 M256.49 348.40 v-1.50 M260.56 219.25 v1.50 M260.56 348.40 v-1.50 M264.00 219.25 v1.50 M264.00 348.40 v-1.50 M266.97 219.25 v1.50 M266.97 348.40 v-1.50 M269.60 219.25 v1.50 M269.60 348.40 v-1.50 M271.90 332.42 h3.20 M478.00 332.42 h-3.20 M271.90 316.28 h6.50 M478.00 316.28 h-6.50 M271.90 300.14 h3.20 M478.00 300.14 h-3.20 M271.90 284.00 h6.50 M478.00 284.00 h-6.50 M271.90 267.86 h3.20 M478.00 267.86 h-3.20 M271.90 251.72 h6.50 M478.00 251.72 h-6.50 M271.90 235.58 h3.20 M478.00 235.58 h-3.20 M287.71 219.25 v2.10 M287.71 348.40 v-2.10 M296.75 219.25 v2.10 M296.75 348.40 v-2.10 M303.17 219.25 v2.10 M303.17 348.40 v-2.10 M308.14 219.25 v2.10 M308.14 348.40 v-2.10 M312.21 219.25 v2.10 M312.21 348.40 v-2.10 M315.65 219.25 v2.10 M315.65 348.40 v-2.10 M318.62 219.25 v2.10 M318.62 348.40 v-2.10 M321.25 219.25 v2.10 M321.25 348.40 v-2.10 M323.60 219.25 v3.90 M323.60 348.40 v-3.90 M339.06 219.25 v2.10 M339.06 348.40 v-2.10 M348.10 219.25 v2.10 M348.10 348.40 v-2.10 M354.52 219.25 v2.10 M354.52 348.40 v-2.10 M359.49 219.25 v2.10 M359.49 348.40 v-2.10 M363.56 219.25 v2.10 M363.56 348.40 v-2.10 M367.00 219.25 v2.10 M367.00 348.40 v-2.10 M369.97 219.25 v2.10 M369.97 348.40 v-2.10 M372.60 219.25 v2.10 M372.60 348.40 v-2.10 M374.95 219.25 v3.90 M374.95 348.40 v-3.90 M390.41 219.25 v2.10 M390.41 348.40 v-2.10 M399.45 219.25 v2.10 M399.45 348.40 v-2.10 M405.87 219.25 v2.10 M405.87 348.40 v-2.10 M410.84 219.25 v2.10 M410.84 348.40 v-2.10 M414.91 219.25 v2.10 M414.91 348.40 v-2.10 M418.35 219.25 v2.10 M418.35 348.40 v-2.10 M421.32 219.25 v2.10 M421.32 348.40 v-2.10 M423.95 219.25 v2.10 M423.95 348.40 v-2.10 M426.30 219.25 v3.90 M426.30 348.40 v-3.90 M441.76 219.25 v2.10 M441.76 348.40 v-2.10 M450.80 219.25 v2.10 M450.80 348.40 v-2.10 M457.22 219.25 v2.10 M457.22 348.40 v-2.10 M462.19 219.25 v2.10 M462.19 348.40 v-2.10 M466.26 219.25 v2.10 M466.26 348.40 v-2.10 M469.70 219.25 v2.10 M469.70 348.40 v-2.10 M472.67 219.25 v2.10 M472.67 348.40 v-2.10 M475.30 219.25 v2.10 M475.30 348.40 v-2.10 M478.00 332.42 h3.20 M683.10 332.42 h-3.20 M478.00 316.28 h6.50 M683.10 316.28 h-6.50 M478.00 300.14 h3.20 M683.10 300.14 h-3.20 M478.00 284.00 h6.50 M683.10 284.00 h-6.50 M478.00 267.86 h3.20 M683.10 267.86 h-3.20 M478.00 251.72 h6.50 M683.10 251.72 h-6.50 M478.00 235.58 h3.20 M683.10 235.58 h-3.20 M493.66 219.25 v2.10 M493.66 348.40 v-2.10 M502.70 219.25 v2.10 M502.70 348.40 v-2.10 M509.12 219.25 v2.10 M509.12 348.40 v-2.10 M514.09 219.25 v2.10 M514.09 348.40 v-2.10 M518.16 219.25 v2.10 M518.16 348.40 v-2.10 M521.60 219.25 v2.10 M521.60 348.40 v-2.10 M524.57 219.25 v2.10 M524.57 348.40 v-2.10 M527.20 219.25 v2.10 M527.20 348.40 v-2.10 M529.55 219.25 v3.90 M529.55 348.40 v-3.90 M545.01 219.25 v2.10 M545.01 348.40 v-2.10 M554.05 219.25 v2.10 M554.05 348.40 v-2.10 M560.47 219.25 v2.10 M560.47 348.40 v-2.10 M565.44 219.25 v2.10 M565.44 348.40 v-2.10 M569.51 219.25 v2.10 M569.51 348.40 v-2.10 M572.95 219.25 v2.10 M572.95 348.40 v-2.10 M575.92 219.25 v2.10 M575.92 348.40 v-2.10 M578.55 219.25 v2.10 M578.55 348.40 v-2.10 M580.90 219.25 v3.90 M580.90 348.40 v-3.90 M596.36 219.25 v2.10 M596.36 348.40 v-2.10 M605.40 219.25 v2.10 M605.40 348.40 v-2.10 M611.82 219.25 v2.10 M611.82 348.40 v-2.10 M616.79 219.25 v2.10 M616.79 348.40 v-2.10 M620.86 219.25 v2.10 M620.86 348.40 v-2.10 M624.30 219.25 v2.10 M624.30 348.40 v-2.10 M627.27 219.25 v2.10 M627.27 348.40 v-2.10 M629.90 219.25 v2.10 M629.90 348.40 v-2.10 M632.25 219.25 v3.90 M632.25 348.40 v-3.90 M647.71 219.25 v2.10 M647.71 348.40 v-2.10 M656.75 219.25 v2.10 M656.75 348.40 v-2.10 M663.17 219.25 v2.10 M663.17 348.40 v-2.10 M668.14 219.25 v2.10 M668.14 348.40 v-2.10 M672.21 219.25 v2.10 M672.21 348.40 v-2.10 M675.65 219.25 v2.10 M675.65 348.40 v-2.10 M678.62 219.25 v2.10 M678.62 348.40 v-2.10 M681.25 219.25 v2.10 M681.25 348.40 v-2.10 M66.40 461.52 h4.10 M271.90 461.52 h-4.10 M66.40 445.38 h8.30 M271.90 445.38 h-8.30 M66.40 429.24 h4.10 M271.90 429.24 h-4.10 M66.40 413.10 h8.30 M271.90 413.10 h-8.30 M66.40 396.96 h4.10 M271.90 396.96 h-4.10 M66.40 380.82 h8.30 M271.90 380.82 h-8.30 M66.40 364.68 h4.10 M271.90 364.68 h-4.10 M82.01 348.40 v1.50 M82.01 477.60 v-1.50 M91.05 348.40 v1.50 M91.05 477.60 v-1.50 M97.47 348.40 v1.50 M97.47 477.60 v-1.50 M102.44 348.40 v1.50 M102.44 477.60 v-1.50 M106.51 348.40 v1.50 M106.51 477.60 v-1.50 M109.95 348.40 v1.50 M109.95 477.60 v-1.50 M112.92 348.40 v1.50 M112.92 477.60 v-1.50 M115.55 348.40 v1.50 M115.55 477.60 v-1.50 M117.90 348.40 v2.90 M117.90 477.60 v-2.90 M133.36 348.40 v1.50 M133.36 477.60 v-1.50 M142.40 348.40 v1.50 M142.40 477.60 v-1.50 M148.82 348.40 v1.50 M148.82 477.60 v-1.50 M153.79 348.40 v1.50 M153.79 477.60 v-1.50 M157.86 348.40 v1.50 M157.86 477.60 v-1.50 M161.30 348.40 v1.50 M161.30 477.60 v-1.50 M164.27 348.40 v1.50 M164.27 477.60 v-1.50 M166.90 348.40 v1.50 M166.90 477.60 v-1.50 M169.25 348.40 v2.90 M169.25 477.60 v-2.90 M184.71 348.40 v1.50 M184.71 477.60 v-1.50 M193.75 348.40 v1.50 M193.75 477.60 v-1.50 M200.17 348.40 v1.50 M200.17 477.60 v-1.50 M205.14 348.40 v1.50 M205.14 477.60 v-1.50 M209.21 348.40 v1.50 M209.21 477.60 v-1.50 M212.65 348.40 v1.50 M212.65 477.60 v-1.50 M215.62 348.40 v1.50 M215.62 477.60 v-1.50 M218.25 348.40 v1.50 M218.25 477.60 v-1.50 M220.60 348.40 v2.90 M220.60 477.60 v-2.90 M236.06 348.40 v1.50 M236.06 477.60 v-1.50 M245.10 348.40 v1.50 M245.10 477.60 v-1.50 M251.52 348.40 v1.50 M251.52 477.60 v-1.50 M256.49 348.40 v1.50 M256.49 477.60 v-1.50 M260.56 348.40 v1.50 M260.56 477.60 v-1.50 M264.00 348.40 v1.50 M264.00 477.60 v-1.50 M266.97 348.40 v1.50 M266.97 477.60 v-1.50 M269.60 348.40 v1.50 M269.60 477.60 v-1.50 M271.90 461.52 h3.20 M478.00 461.52 h-3.20 M271.90 445.38 h6.50 M478.00 445.38 h-6.50 M271.90 429.24 h3.20 M478.00 429.24 h-3.20 M271.90 413.10 h6.50 M478.00 413.10 h-6.50 M271.90 396.96 h3.20 M478.00 396.96 h-3.20 M271.90 380.82 h6.50 M478.00 380.82 h-6.50 M271.90 364.68 h3.20 M478.00 364.68 h-3.20 M287.71 348.40 v2.10 M287.71 477.60 v-2.10 M296.75 348.40 v2.10 M296.75 477.60 v-2.10 M303.17 348.40 v2.10 M303.17 477.60 v-2.10 M308.14 348.40 v2.10 M308.14 477.60 v-2.10 M312.21 348.40 v2.10 M312.21 477.60 v-2.10 M315.65 348.40 v2.10 M315.65 477.60 v-2.10 M318.62 348.40 v2.10 M318.62 477.60 v-2.10 M321.25 348.40 v2.10 M321.25 477.60 v-2.10 M323.60 348.40 v3.90 M323.60 477.60 v-3.90 M339.06 348.40 v2.10 M339.06 477.60 v-2.10 M348.10 348.40 v2.10 M348.10 477.60 v-2.10 M354.52 348.40 v2.10 M354.52 477.60 v-2.10 M359.49 348.40 v2.10 M359.49 477.60 v-2.10 M363.56 348.40 v2.10 M363.56 477.60 v-2.10 M367.00 348.40 v2.10 M367.00 477.60 v-2.10 M369.97 348.40 v2.10 M369.97 477.60 v-2.10 M372.60 348.40 v2.10 M372.60 477.60 v-2.10 M374.95 348.40 v3.90 M374.95 477.60 v-3.90 M390.41 348.40 v2.10 M390.41 477.60 v-2.10 M399.45 348.40 v2.10 M399.45 477.60 v-2.10 M405.87 348.40 v2.10 M405.87 477.60 v-2.10 M410.84 348.40 v2.10 M410.84 477.60 v-2.10 M414.91 348.40 v2.10 M414.91 477.60 v-2.10 M418.35 348.40 v2.10 M418.35 477.60 v-2.10 M421.32 348.40 v2.10 M421.32 477.60 v-2.10 M423.95 348.40 v2.10 M423.95 477.60 v-2.10 M426.30 348.40 v3.90 M426.30 477.60 v-3.90 M441.76 348.40 v2.10 M441.76 477.60 v-2.10 M450.80 348.40 v2.10 M450.80 477.60 v-2.10 M457.22 348.40 v2.10 M457.22 477.60 v-2.10 M462.19 348.40 v2.10 M462.19 477.60 v-2.10 M466.26 348.40 v2.10 M466.26 477.60 v-2.10 M469.70 348.40 v2.10 M469.70 477.60 v-2.10 M472.67 348.40 v2.10 M472.67 477.60 v-2.10 M475.30 348.40 v2.10 M475.30 477.60 v-2.10 M478.00 461.52 h3.20 M683.10 461.52 h-3.20 M478.00 445.38 h6.50 M683.10 445.38 h-6.50 M478.00 429.24 h3.20 M683.10 429.24 h-3.20 M478.00 413.10 h6.50 M683.10 413.10 h-6.50 M478.00 396.96 h3.20 M683.10 396.96 h-3.20 M478.00 380.82 h6.50 M683.10 380.82 h-6.50 M478.00 364.68 h3.20 M683.10 364.68 h-3.20 M493.66 348.40 v2.10 M493.66 477.60 v-2.10 M502.70 348.40 v2.10 M502.70 477.60 v-2.10 M509.12 348.40 v2.10 M509.12 477.60 v-2.10 M514.09 348.40 v2.10 M514.09 477.60 v-2.10 M518.16 348.40 v2.10 M518.16 477.60 v-2.10 M521.60 348.40 v2.10 M521.60 477.60 v-2.10 M524.57 348.40 v2.10 M524.57 477.60 v-2.10 M527.20 348.40 v2.10 M527.20 477.60 v-2.10 M529.55 348.40 v3.90 M529.55 477.60 v-3.90 M545.01 348.40 v2.10 M545.01 477.60 v-2.10 M554.05 348.40 v2.10 M554.05 477.60 v-2.10 M560.47 348.40 v2.10 M560.47 477.60 v-2.10 M565.44 348.40 v2.10 M565.44 477.60 v-2.10 M569.51 348.40 v2.10 M569.51 477.60 v-2.10 M572.95 348.40 v2.10 M572.95 477.60 v-2.10 M575.92 348.40 v2.10 M575.92 477.60 v-2.10 M578.55 348.40 v2.10 M578.55 477.60 v-2.10 M580.90 348.40 v3.90 M580.90 477.60 v-3.90 M596.36 348.40 v2.10 M596.36 477.60 v-2.10 M605.40 348.40 v2.10 M605.40 477.60 v-2.10 M611.82 348.40 v2.10 M611.82 477.60 v-2.10 M616.79 348.40 v2.10 M616.79 477.60 v-2.10 M620.86 348.40 v2.10 M620.86 477.60 v-2.10 M624.30 348.40 v2.10 M624.30 477.60 v-2.10 M627.27 348.40 v2.10 M627.27 477.60 v-2.10 M629.90 348.40 v2.10 M629.90 477.60 v-2.10 M632.25 348.40 v3.90 M632.25 477.60 v-3.90 M647.71 348.40 v2.10 M647.71 477.60 v-2.10 M656.75 348.40 v2.10 M656.75 477.60 v-2.10 M663.17 348.40 v2.10 M663.17 477.60 v-2.10 M668.14 348.40 v2.10 M668.14 477.60 v-2.10 M672.21 348.40 v2.10 M672.21 477.60 v-2.10 M675.65 348.40 v2.10 M675.65 477.60 v-2.10 M678.62 348.40 v2.10 M678.62 477.60 v-2.10 M681.25 348.40 v2.10 M681.25 477.60 v-2.10 M66.40 590.77 h3.10 M271.90 590.77 h-3.10 M66.40 574.63 h6.00 M271.90 574.63 h-6.00 M66.40 558.49 h3.10 M271.90 558.49 h-3.10 M66.40 542.35 h6.00 M271.90 542.35 h-6.00 M66.40 526.21 h3.10 M271.90 526.21 h-3.10 M66.40 510.07 h6.00 M271.90 510.07 h-6.00 M66.40 493.93 h3.10 M271.90 493.93 h-3.10 M82.01 477.60 v2.00 M82.01 606.70 v-2.00 M91.05 477.60 v2.00 M91.05 606.70 v-2.00 M97.47 477.60 v2.00 M97.47 606.70 v-2.00 M102.44 477.60 v2.00 M102.44 606.70 v-2.00 M106.51 477.60 v2.00 M106.51 606.70 v-2.00 M109.95 477.60 v2.00 M109.95 606.70 v-2.00 M112.92 477.60 v2.00 M112.92 606.70 v-2.00 M115.55 477.60 v2.00 M115.55 606.70 v-2.00 M117.90 477.60 v3.80 M117.90 606.70 v-3.80 M133.36 477.60 v2.00 M133.36 606.70 v-2.00 M142.40 477.60 v2.00 M142.40 606.70 v-2.00 M148.82 477.60 v2.00 M148.82 606.70 v-2.00 M153.79 477.60 v2.00 M153.79 606.70 v-2.00 M157.86 477.60 v2.00 M157.86 606.70 v-2.00 M161.30 477.60 v2.00 M161.30 606.70 v-2.00 M164.27 477.60 v2.00 M164.27 606.70 v-2.00 M166.90 477.60 v2.00 M166.90 606.70 v-2.00 M169.25 477.60 v3.80 M169.25 606.70 v-3.80 M184.71 477.60 v2.00 M184.71 606.70 v-2.00 M193.75 477.60 v2.00 M193.75 606.70 v-2.00 M200.17 477.60 v2.00 M200.17 606.70 v-2.00 M205.14 477.60 v2.00 M205.14 606.70 v-2.00 M209.21 477.60 v2.00 M209.21 606.70 v-2.00 M212.65 477.60 v2.00 M212.65 606.70 v-2.00 M215.62 477.60 v2.00 M215.62 606.70 v-2.00 M218.25 477.60 v2.00 M218.25 606.70 v-2.00 M220.60 477.60 v3.80 M220.60 606.70 v-3.80 M236.06 477.60 v2.00 M236.06 606.70 v-2.00 M245.10 477.60 v2.00 M245.10 606.70 v-2.00 M251.52 477.60 v2.00 M251.52 606.70 v-2.00 M256.49 477.60 v2.00 M256.49 606.70 v-2.00 M260.56 477.60 v2.00 M260.56 606.70 v-2.00 M264.00 477.60 v2.00 M264.00 606.70 v-2.00 M266.97 477.60 v2.00 M266.97 606.70 v-2.00 M269.60 477.60 v2.00 M269.60 606.70 v-2.00 M271.90 590.77 h2.20 M478.00 590.77 h-2.20 M271.90 574.63 h4.40 M478.00 574.63 h-4.40 M271.90 558.49 h2.20 M478.00 558.49 h-2.20 M271.90 542.35 h4.40 M478.00 542.35 h-4.40 M271.90 526.21 h2.20 M478.00 526.21 h-2.20 M271.90 510.07 h4.40 M478.00 510.07 h-4.40 M271.90 493.93 h2.20 M478.00 493.93 h-2.20 M287.71 477.60 v2.80 M287.71 606.70 v-2.80 M296.75 477.60 v2.80 M296.75 606.70 v-2.80 M303.17 477.60 v2.80 M303.17 606.70 v-2.80 M308.14 477.60 v2.80 M308.14 606.70 v-2.80 M312.21 477.60 v2.80 M312.21 606.70 v-2.80 M315.65 477.60 v2.80 M315.65 606.70 v-2.80 M318.62 477.60 v2.80 M318.62 606.70 v-2.80 M321.25 477.60 v2.80 M321.25 606.70 v-2.80 M323.60 477.60 v5.40 M323.60 606.70 v-5.40 M339.06 477.60 v2.80 M339.06 606.70 v-2.80 M348.10 477.60 v2.80 M348.10 606.70 v-2.80 M354.52 477.60 v2.80 M354.52 606.70 v-2.80 M359.49 477.60 v2.80 M359.49 606.70 v-2.80 M363.56 477.60 v2.80 M363.56 606.70 v-2.80 M367.00 477.60 v2.80 M367.00 606.70 v-2.80 M369.97 477.60 v2.80 M369.97 606.70 v-2.80 M372.60 477.60 v2.80 M372.60 606.70 v-2.80 M374.95 477.60 v5.40 M374.95 606.70 v-5.40 M390.41 477.60 v2.80 M390.41 606.70 v-2.80 M399.45 477.60 v2.80 M399.45 606.70 v-2.80 M405.87 477.60 v2.80 M405.87 606.70 v-2.80 M410.84 477.60 v2.80 M410.84 606.70 v-2.80 M414.91 477.60 v2.80 M414.91 606.70 v-2.80 M418.35 477.60 v2.80 M418.35 606.70 v-2.80 M421.32 477.60 v2.80 M421.32 606.70 v-2.80 M423.95 477.60 v2.80 M423.95 606.70 v-2.80 M426.30 477.60 v5.40 M426.30 606.70 v-5.40 M441.76 477.60 v2.80 M441.76 606.70 v-2.80 M450.80 477.60 v2.80 M450.80 606.70 v-2.80 M457.22 477.60 v2.80 M457.22 606.70 v-2.80 M462.19 477.60 v2.80 M462.19 606.70 v-2.80 M466.26 477.60 v2.80 M466.26 606.70 v-2.80 M469.70 477.60 v2.80 M469.70 606.70 v-2.80 M472.67 477.60 v2.80 M472.67 606.70 v-2.80 M475.30 477.60 v2.80 M475.30 606.70 v-2.80 M478.00 590.77 h2.20 M683.10 590.77 h-2.20 M478.00 574.63 h4.40 M683.10 574.63 h-4.40 M478.00 558.49 h2.20 M683.10 558.49 h-2.20 M478.00 542.35 h4.40 M683.10 542.35 h-4.40 M478.00 526.21 h2.20 M683.10 526.21 h-2.20 M478.00 510.07 h4.40 M683.10 510.07 h-4.40 M478.00 493.93 h2.20 M683.10 493.93 h-2.20 M493.66 477.60 v2.80 M493.66 606.70 v-2.80 M502.70 477.60 v2.80 M502.70 606.70 v-2.80 M509.12 477.60 v2.80 M509.12 606.70 v-2.80 M514.09 477.60 v2.80 M514.09 606.70 v-2.80 M518.16 477.60 v2.80 M518.16 606.70 v-2.80 M521.60 477.60 v2.80 M521.60 606.70 v-2.80 M524.57 477.60 v2.80 M524.57 606.70 v-2.80 M527.20 477.60 v2.80 M527.20 606.70 v-2.80 M529.55 477.60 v5.40 M529.55 606.70 v-5.40 M545.01 477.60 v2.80 M545.01 606.70 v-2.80 M554.05 477.60 v2.80 M554.05 606.70 v-2.80 M560.47 477.60 v2.80 M560.47 606.70 v-2.80 M565.44 477.60 v2.80 M565.44 606.70 v-2.80 M569.51 477.60 v2.80 M569.51 606.70 v-2.80 M572.95 477.60 v2.80 M572.95 606.70 v-2.80 M575.92 477.60 v2.80 M575.92 606.70 v-2.80 M578.55 477.60 v2.80 M578.55 606.70 v-2.80 M580.90 477.60 v5.40 M580.90 606.70 v-5.40 M596.36 477.60 v2.80 M596.36 606.70 v-2.80 M605.40 477.60 v2.80 M605.40 606.70 v-2.80 M611.82 477.60 v2.80 M611.82 606.70 v-2.80 M616.79 477.60 v2.80 M616.79 606.70 v-2.80 M620.86 477.60 v2.80 M620.86 606.70 v-2.80 M624.30 477.60 v2.80 M624.30 606.70 v-2.80 M627.27 477.60 v2.80 M627.27 606.70 v-2.80 M629.90 477.60 v2.80 M629.90 606.70 v-2.80 M632.25 477.60 v5.40 M632.25 606.70 v-5.40 M647.71 477.60 v2.80 M647.71 606.70 v-2.80 M656.75 477.60 v2.80 M656.75 606.70 v-2.80 M663.17 477.60 v2.80 M663.17 606.70 v-2.80 M668.14 477.60 v2.80 M668.14 606.70 v-2.80 M672.21 477.60 v2.80 M672.21 606.70 v-2.80 M675.65 477.60 v2.80 M675.65 606.70 v-2.80 M678.62 477.60 v2.80 M678.62 606.70 v-2.80 M681.25 477.60 v2.80 M681.25 606.70 v-2.80" stroke="#000" stroke-width="1.3" fill="none"/>
<path d="M66.40 89.70 V607.55 M683.10 89.70 V607.55 M65.70 90.40 H683.80" stroke="#000" stroke-width="1.4" fill="none"/>
<path d="M271.90 89.70 V607.55 M478.00 89.70 V607.55 M65.70 219.25 H683.80 M65.70 348.40 H683.80 M65.70 477.60 H683.80 M65.70 606.70 H683.80" stroke="#000" stroke-width="1.7" fill="none"/>
<g clip-path="url(#cp00)">
<path d="M90.6 105.8 L90.6 166.5" stroke="#000" stroke-width="1.6" fill="none"/>
<path d="M86.0 110.6 L95.2 110.6" stroke="#000" stroke-width="1.5" fill="none"/>
<path d="M86.0 161.4 L95.2 161.4" stroke="#000" stroke-width="1.5" fill="none"/>
<circle cx="90.6" cy="136.2" r="3.9" fill="#000"/>
<path d="M109.8 86.0 L109.8 139.0" stroke="#000" stroke-width="1.6" fill="none"/>
<path d="M105.2 96.7 L114.4 96.7" stroke="#000" stroke-width="1.5" fill="none"/>
<path d="M105.2 132.9 L114.4 132.9" stroke="#000" stroke-width="1.5" fill="none"/>
<circle cx="109.8" cy="115.0" r="3.9" fill="#000"/>
<path d="M123.6 102.1 L123.6 149.0" stroke="#000" stroke-width="1.6" fill="none"/>
<path d="M119.0 107.7 L128.2 107.7" stroke="#000" stroke-width="1.5" fill="none"/>
<path d="M119.0 143.8 L128.2 143.8" stroke="#000" stroke-width="1.5" fill="none"/>
<circle cx="123.6" cy="125.8" r="3.9" fill="#000"/>
<path d="M131.1 86.0 L131.1 135.8" stroke="#000" stroke-width="1.6" fill="none"/>
<path d="M126.5 131.4 L135.7 131.4" stroke="#000" stroke-width="1.5" fill="none"/>
<circle cx="131.1" cy="109.0" r="3.9" fill="#000"/>
<path d="M145.7 153.3 L145.7 187.0" stroke="#000" stroke-width="1.6" fill="none"/>
<path d="M141.1 156.6 L150.3 156.6" stroke="#000" stroke-width="1.5" fill="none"/>
<path d="M141.1 184.4 L150.3 184.4" stroke="#000" stroke-width="1.5" fill="none"/>
<circle cx="145.7" cy="170.6" r="3.9" fill="#000"/>
</g>
<g clip-path="url(#cp01)">
<path d="M307.5 164.1 L307.5 161.3 L307.5 157.5 L307.5 153.0 L307.5 148.0 L307.5 142.8 L307.6 137.8 L307.6 133.1 L307.7 129.1 L307.8 125.8 L307.9 122.7 L308.0 119.9 L308.2 117.3 L308.3 114.8 L308.5 112.3 L308.7 110.0 L309.0 107.6 L309.3 105.1 L309.7 102.5 L310.2 100.0 L310.7 97.6 L311.2 95.3 L311.6 93.3 L312.0 91.6 L312.2 90.3 L312.3 90.4 L351.0 90.4 L351.0 90.4 L351.7 90.8 L352.6 91.4 L353.7 92.1 L354.9 92.8 L356.2 93.6 L357.5 94.5 L358.8 95.4 L360.0 96.3 L361.2 97.2 L362.5 98.2 L363.7 99.2 L365.0 100.3 L366.3 101.4 L367.5 102.6 L368.8 103.8 L370.0 105.0 L371.2 106.3 L372.3 107.6 L373.5 109.0 L374.6 110.5 L375.7 111.9 L376.8 113.4 L377.9 114.9 L379.0 116.5 L380.1 118.1 L381.2 119.9 L382.2 121.6 L383.3 123.4 L384.3 125.2 L385.3 126.9 L386.3 128.5 L387.2 130.0 L388.0 131.3 L388.7 132.4 L389.4 133.5 L390.1 134.5 L390.7 135.4 L391.4 136.4 L392.0 137.3 L392.7 138.3 L393.4 139.4 L394.1 140.4 L394.7 141.4 L395.4 142.5 L396.1 143.5 L396.8 144.6 L397.5 145.6 L398.3 146.6 L399.1 147.7 L399.9 148.7 L400.8 149.8 L401.6 150.8 L402.5 151.9 L403.4 152.9 L404.3 154.0 L405.2 155.0 L406.0 156.0 L406.9 157.0 L407.7 157.9 L408.6 158.9 L409.5 159.9 L410.3 160.8 L411.2 161.7 L412.1 162.6 L413.0 163.4 L414.0 164.3 L414.9 165.1 L415.8 165.8 L416.8 166.6 L417.8 167.4 L418.9 168.1 L420.0 168.8 L421.3 169.6 L422.8 170.5 L424.4 171.3 L426.0 172.1 L427.5 172.9 L428.9 173.6 L430.2 174.1 L431.2 174.4 L432.0 174.6 L432.5 174.5 L432.9 174.4 L433.2 174.1 L433.4 173.8 L433.6 173.4 L433.8 173.0 L434.0 172.7 L434.4 172.5 L434.7 172.3 L435.0 172.2 L435.2 172.0 L435.5 171.7 L435.9 171.4 L436.2 170.9 L436.6 170.1 L437.1 169.2 L437.6 168.0 L438.2 166.6 L438.8 165.1 L439.4 163.6 L440.0 162.1 L440.5 160.6 L440.9 159.3 L441.3 158.3 L441.6 157.3 L441.9 156.5 L442.1 155.7 L442.3 154.8 L442.5 153.7 L442.8 152.4 L443.1 150.7 L443.5 148.6 L443.9 146.2 L444.3 143.6 L444.7 140.7 L445.2 137.8 L445.6 134.8 L446.0 131.9 L446.3 129.1 L446.7 126.4 L447.0 123.6 L447.2 120.9 L447.5 118.1 L447.8 115.3 L448.0 112.7 L448.3 110.1 L448.5 107.6 L448.7 105.1 L449.0 102.5 L449.2 100.0 L449.5 97.6 L449.7 95.3 L449.9 93.3 L450.1 91.6 L450.2 90.3 L450.2 90.4 L475.8 90.4 L475.8 224.2 L408.0 224.2 L408.0 216.7 L407.5 215.8 L407.0 214.6 L406.3 213.2 L405.6 211.7 L404.8 210.0 L404.0 208.3 L403.2 206.5 L402.4 204.9 L401.6 203.3 L400.8 201.5 L399.9 199.8 L399.0 198.0 L398.1 196.2 L397.2 194.4 L396.4 192.7 L395.5 191.0 L394.6 189.4 L393.7 187.8 L392.9 186.2 L392.0 184.6 L391.1 183.1 L390.3 181.5 L389.4 180.0 L388.5 178.5 L387.7 177.1 L386.8 175.6 L385.9 174.1 L385.0 172.7 L384.1 171.3 L383.2 169.9 L382.4 168.7 L381.6 167.4 L380.8 166.3 L380.1 165.2 L379.4 164.2 L378.7 163.2 L378.0 162.3 L377.3 161.5 L376.7 160.6 L376.1 159.8 L375.5 159.1 L375.0 158.5 L374.5 157.9 L374.1 157.4 L373.6 156.9 L373.1 156.3 L372.5 155.7 L371.9 155.0 L371.2 154.1 L370.4 153.2 L369.6 152.3 L368.7 151.3 L367.8 150.3 L366.9 149.3 L365.9 148.3 L365.0 147.3 L364.0 146.4 L363.0 145.5 L361.9 144.6 L360.9 143.7 L359.8 142.9 L358.8 142.0 L357.7 141.2 L356.6 140.4 L355.6 139.6 L354.6 138.9 L353.5 138.1 L352.5 137.4 L351.4 136.7 L350.4 136.0 L349.4 135.4 L348.3 134.9 L347.2 134.3 L345.9 133.9 L344.5 133.4 L343.2 133.0 L341.9 132.7 L340.9 132.4 L340.3 132.2 L340.0 132.1 L340.3 132.1 L341.2 132.3 L342.5 132.6 L343.9 132.9 L345.4 133.3 L346.6 133.6 L347.5 133.8 L347.8 133.9 L347.5 133.8 L346.8 133.6 L345.8 133.3 L344.5 132.9 L343.1 132.6 L341.7 132.2 L340.4 132.0 L339.2 131.9 L338.1 132.0 L337.0 132.1 L336.0 132.2 L334.9 132.4 L333.8 132.7 L332.7 133.0 L331.6 133.4 L330.6 133.9 L329.5 134.4 L328.4 135.0 L327.3 135.6 L326.2 136.4 L325.1 137.1 L324.0 138.0 L323.0 138.9 L321.9 139.9 L320.9 141.0 L320.0 142.2 L319.0 143.5 L318.0 144.9 L317.1 146.3 L316.2 147.7 L315.3 149.2 L314.4 150.7 L313.4 152.4 L312.4 154.2 L311.4 156.1 L310.5 158.1 L309.5 159.9 L308.7 161.6 L308.0 163.0 L307.5 164.1" stroke="#ff00ff" stroke-width="1.4" fill="none" stroke-linejoin="round"/>
<path d="M312.3 90.40 H351.0" stroke="#ff00ff" stroke-width="2.0" fill="none"/>
<path d="M450.2 90.40 H475.8" stroke="#ff00ff" stroke-width="2.0" fill="none"/>
<path d="M307.5 137.8 L307.7 136.8 L307.9 135.4 L308.2 133.8 L308.5 132.0 L308.9 130.1 L309.2 128.2 L309.6 126.4 L310.1 124.8 L310.5 123.4 L310.9 121.9 L311.4 120.5 L311.9 119.1 L312.4 117.8 L313.0 116.5 L313.7 115.2 L314.4 114.0 L315.2 112.9 L316.0 111.8 L316.9 110.7 L317.9 109.7 L318.9 108.8 L319.9 107.9 L320.9 107.2 L321.9 106.5 L323.0 105.9 L324.0 105.5 L325.1 105.1 L326.2 104.8 L327.3 104.6 L328.4 104.5 L329.5 104.4 L330.6 104.3 L331.6 104.3 L332.7 104.3 L333.7 104.4 L334.7 104.6 L335.8 104.8 L336.9 105.1 L338.0 105.4 L339.2 105.8 L340.4 106.4 L341.7 107.0 L343.1 107.6 L344.4 108.4 L345.8 109.2 L347.2 110.0 L348.6 110.9 L350.0 111.9 L351.3 112.9 L352.7 114.1 L354.1 115.3 L355.5 116.6 L356.8 117.9 L358.2 119.2 L359.5 120.4 L360.8 121.6 L362.0 122.7 L363.2 123.8 L364.4 124.9 L365.6 125.9 L366.7 127.0 L367.8 128.0 L368.8 129.0 L369.8 130.0 L370.7 131.0 L371.6 132.0 L372.4 132.9 L373.2 133.9 L373.9 134.8 L374.6 135.7 L375.3 136.7 L376.1 137.6 L376.8 138.6 L377.5 139.5 L378.1 140.3 L378.8 141.2 L379.5 142.1 L380.1 143.1 L380.9 144.1 L381.6 145.3 L382.4 146.5 L383.2 147.8 L384.1 149.2 L385.0 150.6 L385.9 152.1 L386.8 153.5 L387.7 155.0 L388.5 156.4 L389.4 157.7 L390.3 159.0 L391.1 160.3 L392.0 161.6 L392.9 162.8 L393.7 164.1 L394.6 165.4 L395.5 166.8 L396.3 168.1 L397.2 169.5 L398.1 170.8 L398.9 172.2 L399.8 173.6 L400.7 175.0 L401.5 176.4 L402.4 177.9 L403.3 179.3 L404.1 180.7 L405.0 182.2 L405.9 183.7 L406.7 185.1 L407.6 186.6 L408.5 188.1 L409.3 189.6 L410.2 191.2 L411.2 192.8 L412.1 194.5 L413.0 196.2 L413.9 197.8 L414.8 199.4 L415.6 200.8 L416.3 202.1 L416.9 203.2 L417.4 204.2 L417.9 205.0 L418.3 205.8 L418.7 206.5 L419.1 207.3 L419.5 208.1 L420.0 209.1 L420.6 210.2 L421.2 211.5 L421.9 212.9 L422.6 214.3 L423.2 215.7 L423.8 217.0 L424.2 218.0 L424.6 218.8" stroke="#ff00ff" stroke-width="1.7" fill="none" stroke-dasharray="1.7 3.17"/>
<path d="M459.8 222.0 L461.2 88.0" stroke="#ff00ff" stroke-width="1.7" fill="none" stroke-dasharray="1.7 3.17"/>
<path d="M464.6 88.0 L465.6 222.0" stroke="#ff00ff" stroke-width="1.7" fill="none" stroke-dasharray="1.7 3.17"/>
<path d="M468.4 222.0 L469.0 88.0" stroke="#ff00ff" stroke-width="1.7" fill="none" stroke-dasharray="1.7 3.17"/>
<path d="M307.5 187.0 L307.8 186.1 L308.3 185.0 L308.8 183.7 L309.4 182.2 L310.1 180.7 L310.8 179.2 L311.5 177.8 L312.2 176.6 L312.9 175.5 L313.7 174.5 L314.5 173.6 L315.3 172.6 L316.1 171.8 L317.0 171.0 L317.8 170.3 L318.7 169.7 L319.6 169.2 L320.5 168.8 L321.4 168.4 L322.3 168.1 L323.3 167.9 L324.3 167.8 L325.2 167.6 L326.2 167.5 L327.3 167.5 L328.4 167.5 L329.6 167.6 L330.7 167.7 L331.8 167.9 L332.9 168.1 L334.0 168.2 L334.9 168.4 L335.7 168.6 L336.4 168.7 L337.0 168.9 L337.5 169.1 L338.1 169.3 L338.7 169.5 L339.3 169.8 L340.0 170.2 L340.8 170.7 L341.6 171.3 L342.5 171.9 L343.4 172.6 L344.3 173.3 L345.2 173.9 L346.1 174.5 L346.9 175.1 L347.8 175.5 L348.7 175.9 L349.5 176.3 L350.4 176.6 L351.3 176.9 L352.1 177.2 L353.0 177.5 L353.9 177.9 L354.7 178.2 L355.6 178.5 L356.5 178.9 L357.3 179.2 L358.2 179.6 L359.1 179.9 L359.9 180.3 L360.8 180.6 L361.7 181.0 L362.5 181.3 L363.4 181.6 L364.3 182.0 L365.1 182.3 L366.0 182.7 L366.9 183.0 L367.7 183.4 L368.6 183.8 L369.5 184.2 L370.3 184.6 L371.2 185.1 L372.1 185.5 L372.9 186.0 L373.8 186.4 L374.7 186.9 L375.5 187.3 L376.4 187.7 L377.3 188.1 L378.1 188.5 L379.0 188.9 L379.9 189.4 L380.7 189.8 L381.6 190.3 L382.5 190.9 L383.3 191.4 L384.2 192.0 L385.1 192.5 L385.9 193.2 L386.8 193.8 L387.7 194.5 L388.5 195.2 L389.4 195.9 L390.3 196.7 L391.1 197.6 L392.0 198.4 L392.9 199.3 L393.7 200.2 L394.6 201.2 L395.5 202.1 L396.4 203.1 L397.2 204.1 L398.1 205.2 L399.0 206.3 L399.9 207.4 L400.8 208.4 L401.6 209.5 L402.4 210.4 L403.2 211.4 L403.9 212.3 L404.7 213.1 L405.4 214.0 L406.0 214.8 L406.7 215.7 L407.3 216.5 L408.0 217.4 L408.6 218.3 L409.2 219.3 L409.8 220.3 L410.4 221.3 L410.9 222.2 L411.4 223.1 L411.8 223.8 L412.1 224.3" stroke="#990000" stroke-width="3.0" fill="none" stroke-dasharray="5.3 4.3"/>
<path d="M461.6 222.0 L461.8 220.3 L462.0 217.8 L462.3 214.9 L462.6 211.8 L462.9 208.6 L463.2 205.7 L463.4 203.2 L463.6 201.5 L463.7 200.4 L463.8 199.6 L463.9 199.1 L464.0 198.9 L464.0 199.1 L463.9 199.6 L463.9 200.4 L463.8 201.5 L463.6 203.2 L463.4 205.7 L463.1 208.6 L462.8 211.8 L462.5 214.9 L462.2 217.8 L462.0 220.3 L461.8 222.0" stroke="#990000" stroke-width="3.0" fill="none" stroke-dasharray="5.3 4.3"/>
<path d="M469.0 222.0 L469.0 216.4 L469.1 208.8 L469.2 199.8 L469.2 189.9 L469.3 179.4 L469.4 169.0 L469.5 159.0 L469.6 150.0 L469.7 141.3 L469.8 132.3 L470.0 123.3 L470.1 114.5 L470.3 106.3 L470.4 98.9 L470.5 92.7 L470.6 88.0" stroke="#990000" stroke-width="3.0" fill="none" stroke-dasharray="5.3 4.3"/>
<path d="M315.7 144.2 L315.7 193.9" stroke="#000" stroke-width="1.6" fill="none"/>
<path d="M311.1 146.8 L320.3 146.8" stroke="#000" stroke-width="1.5" fill="none"/>
<path d="M311.1 191.3 L320.3 191.3" stroke="#000" stroke-width="1.5" fill="none"/>
<circle cx="315.7" cy="168.6" r="3.9" fill="#000"/>
<path d="M336.6 122.2 L336.6 156.8" stroke="#000" stroke-width="1.6" fill="none"/>
<path d="M332.0 128.5 L341.2 128.5" stroke="#000" stroke-width="1.5" fill="none"/>
<path d="M332.0 150.7 L341.2 150.7" stroke="#000" stroke-width="1.5" fill="none"/>
<circle cx="336.6" cy="139.5" r="3.9" fill="#000"/>
<path d="M351.5 143.9 L351.5 172.3" stroke="#000" stroke-width="1.6" fill="none"/>
<path d="M346.9 146.6 L356.1 146.6" stroke="#000" stroke-width="1.5" fill="none"/>
<path d="M346.9 170.2 L356.1 170.2" stroke="#000" stroke-width="1.5" fill="none"/>
<circle cx="351.5" cy="158.2" r="3.9" fill="#000"/>
<path d="M374.7 159.1 L374.7 190.3" stroke="#000" stroke-width="1.6" fill="none"/>
<path d="M370.1 160.5 L379.3 160.5" stroke="#000" stroke-width="1.5" fill="none"/>
<path d="M370.1 188.9 L379.3 188.9" stroke="#000" stroke-width="1.5" fill="none"/>
<circle cx="374.7" cy="174.8" r="3.9" fill="#000"/>
</g>
<g clip-path="url(#cp02)">
<path d="M520.4 174.6 L520.4 172.1 L520.4 168.7 L520.4 164.6 L520.4 160.2 L520.4 155.7 L520.4 151.4 L520.4 147.6 L520.4 144.5 L520.4 142.3 L520.4 140.6 L520.4 139.2 L520.4 138.1 L520.4 137.2 L520.5 136.3 L520.5 135.4 L520.6 134.3 L520.7 133.1 L520.8 132.0 L520.9 131.0 L521.1 129.9 L521.2 128.9 L521.4 127.8 L521.7 126.7 L521.9 125.5 L522.2 124.3 L522.5 123.0 L522.8 121.7 L523.1 120.4 L523.5 119.0 L523.9 117.7 L524.4 116.5 L524.8 115.3 L525.4 114.1 L525.9 113.0 L526.5 111.9 L527.1 110.8 L527.8 109.8 L528.5 108.8 L529.2 108.0 L530.0 107.2 L530.8 106.6 L531.6 106.0 L532.5 105.6 L533.5 105.2 L534.4 104.8 L535.4 104.6 L536.3 104.4 L537.3 104.3 L538.2 104.3 L539.1 104.3 L540.0 104.4 L540.9 104.6 L541.8 104.9 L542.8 105.1 L543.7 105.4 L544.6 105.8 L545.5 106.1 L546.4 106.5 L547.3 106.9 L548.3 107.4 L549.2 107.9 L550.1 108.4 L551.0 108.9 L551.9 109.4 L552.8 109.9 L553.7 110.4 L554.7 111.0 L555.6 111.5 L556.5 112.1 L557.4 112.6 L558.3 113.2 L559.2 113.8 L560.1 114.4 L561.1 115.0 L562.0 115.6 L562.9 116.3 L563.8 116.9 L564.7 117.6 L565.6 118.3 L566.5 118.9 L567.5 119.6 L568.4 120.3 L569.3 121.0 L570.2 121.8 L571.1 122.5 L572.0 123.3 L573.0 124.0 L573.9 124.8 L574.8 125.6 L575.7 126.4 L576.6 127.2 L577.5 128.0 L578.4 128.8 L579.4 129.7 L580.3 130.5 L581.2 131.4 L582.2 132.3 L583.2 133.3 L584.3 134.4 L585.3 135.4 L586.3 136.5 L587.2 137.4 L588.0 138.1 L588.5 138.7 L588.8 139.0 L588.7 139.0 L588.5 138.9 L588.3 138.7 L588.0 138.5 L587.8 138.4 L587.7 138.4 L588.0 138.7 L588.5 139.3 L589.3 140.0 L590.2 140.9 L591.2 141.9 L592.2 142.9 L593.3 144.0 L594.4 145.0 L595.3 146.0 L596.2 146.9 L597.1 147.9 L598.1 148.8 L599.0 149.7 L599.9 150.6 L600.8 151.6 L601.7 152.5 L602.6 153.3 L603.6 154.2 L604.5 155.0 L605.4 155.9 L606.3 156.7 L607.2 157.5 L608.1 158.3 L609.0 159.1 L610.0 159.9 L610.9 160.7 L611.8 161.5 L612.7 162.2 L613.6 163.0 L614.5 163.7 L615.4 164.4 L616.4 165.1 L617.3 165.8 L618.2 166.4 L619.1 167.0 L620.0 167.6 L620.9 168.2 L621.8 168.7 L622.8 169.2 L623.7 169.7 L624.6 170.2 L625.5 170.6 L626.5 171.1 L627.4 171.5 L628.3 171.9 L629.3 172.2 L630.2 172.6 L631.1 172.9 L631.9 173.1 L632.7 173.3 L633.5 173.5 L634.2 173.6 L634.9 173.7 L635.6 173.8 L636.3 173.7 L637.0 173.7 L637.8 173.5 L638.5 173.3 L639.3 173.0 L640.0 172.7 L640.8 172.3 L641.5 171.8 L642.3 171.3 L643.0 170.8 L643.6 170.2 L644.2 169.5 L644.9 168.8 L645.4 168.0 L646.0 167.2 L646.5 166.3 L647.1 165.5 L647.5 164.5 L648.0 163.6 L648.5 162.6 L648.9 161.6 L649.2 160.5 L649.6 159.4 L650.0 158.3 L650.3 157.1 L650.6 156.0 L650.9 154.8 L651.2 153.6 L651.5 152.5 L651.8 151.4 L652.1 150.2 L652.3 149.0 L652.6 147.7 L652.9 146.2 L653.1 144.5 L653.4 142.7 L653.7 140.6 L654.0 138.4 L654.3 136.0 L654.6 133.7 L654.8 131.3 L655.1 129.1 L655.3 127.0 L655.6 125.0 L655.8 123.1 L655.9 121.2 L656.1 119.4 L656.3 117.6 L656.5 115.8 L656.6 114.1 L656.8 112.3 L657.0 110.6 L657.1 108.8 L657.3 107.1 L657.4 105.4 L657.6 103.7 L657.7 102.1 L657.8 100.6 L658.0 99.2 L658.1 97.8 L658.2 96.5 L658.3 95.2 L658.3 94.0 L658.4 92.8 L658.5 91.9 L658.5 91.0 L658.6 90.4 L658.5 90.4 L681.2 90.4 L681.2 224.2 L622.0 224.2 L623.2 219.7 L622.9 219.1 L622.5 218.4 L622.0 217.6 L621.4 216.6 L620.8 215.6 L620.1 214.5 L619.5 213.5 L618.9 212.5 L618.4 211.6 L617.8 210.7 L617.2 209.7 L616.6 208.8 L616.0 207.8 L615.4 206.9 L614.8 205.9 L614.2 204.9 L613.5 203.9 L612.8 202.8 L612.1 201.7 L611.4 200.7 L610.6 199.6 L609.9 198.5 L609.2 197.4 L608.4 196.3 L607.7 195.2 L607.0 194.1 L606.3 193.0 L605.6 191.9 L604.8 190.9 L604.1 189.8 L603.4 188.7 L602.7 187.7 L602.0 186.7 L601.3 185.7 L600.5 184.7 L599.8 183.8 L599.1 182.8 L598.4 181.9 L597.7 181.0 L597.0 180.1 L596.3 179.2 L595.6 178.3 L595.0 177.5 L594.4 176.7 L593.7 175.9 L593.0 175.0 L592.2 174.2 L591.2 173.4 L590.2 172.5 L589.0 171.6 L587.7 170.8 L586.3 169.9 L584.9 169.0 L583.6 168.2 L582.3 167.3 L581.2 166.5 L580.1 165.7 L579.2 165.0 L578.2 164.2 L577.4 163.5 L576.5 162.8 L575.6 162.1 L574.8 161.4 L573.9 160.6 L573.0 159.9 L572.0 159.2 L571.1 158.4 L570.2 157.7 L569.3 156.9 L568.4 156.2 L567.5 155.5 L566.5 154.8 L565.6 154.1 L564.7 153.4 L563.8 152.8 L562.9 152.1 L562.0 151.5 L561.1 150.8 L560.1 150.2 L559.2 149.7 L558.3 149.1 L557.4 148.6 L556.5 148.1 L555.6 147.6 L554.7 147.2 L553.7 146.7 L552.8 146.4 L551.9 146.0 L551.0 145.7 L550.0 145.4 L549.1 145.2 L548.2 145.0 L547.2 144.8 L546.3 144.7 L545.4 144.6 L544.6 144.5 L543.8 144.5 L543.0 144.5 L542.3 144.5 L541.6 144.6 L540.9 144.7 L540.2 144.8 L539.5 145.0 L538.7 145.3 L538.0 145.6 L537.3 145.9 L536.5 146.2 L535.8 146.6 L535.1 147.1 L534.3 147.6 L533.6 148.2 L532.9 148.9 L532.1 149.8 L531.4 150.7 L530.6 151.8 L529.9 152.9 L529.1 154.1 L528.4 155.3 L527.7 156.5 L527.0 157.7 L526.4 159.0 L525.8 160.3 L525.2 161.6 L524.6 163.0 L524.1 164.3 L523.5 165.6 L523.1 166.9 L522.6 168.0 L522.2 169.0 L521.9 170.0 L521.6 171.0 L521.3 171.9 L521.0 172.7 L520.8 173.5 L520.6 174.1 L520.4 174.6" stroke="#ff00ff" stroke-width="1.4" fill="none" stroke-linejoin="round"/>
<path d="M658.5 90.40 H681.2" stroke="#ff00ff" stroke-width="2.0" fill="none"/>
<path d="M520.9 150.4 L521.0 150.0 L521.2 149.4 L521.4 148.7 L521.6 147.9 L521.8 147.1 L522.1 146.3 L522.3 145.4 L522.6 144.5 L522.9 143.7 L523.3 142.8 L523.6 141.9 L523.9 140.9 L524.3 140.0 L524.7 139.0 L525.1 138.1 L525.6 137.2 L526.0 136.4 L526.5 135.5 L527.0 134.6 L527.6 133.8 L528.1 132.9 L528.7 132.1 L529.3 131.4 L530.0 130.6 L530.6 130.0 L531.3 129.3 L532.0 128.7 L532.7 128.1 L533.4 127.6 L534.2 127.1 L535.0 126.6 L535.8 126.3 L536.7 125.9 L537.5 125.7 L538.4 125.5 L539.4 125.4 L540.3 125.3 L541.3 125.2 L542.2 125.2 L543.1 125.2 L544.0 125.3 L544.9 125.4 L545.8 125.6 L546.7 125.8 L547.6 126.0 L548.5 126.3 L549.5 126.6 L550.4 127.0 L551.5 127.4 L552.6 127.9 L553.7 128.4 L554.8 129.0 L556.0 129.6 L557.1 130.2 L558.2 130.8 L559.2 131.4 L560.2 132.0 L561.2 132.6 L562.1 133.2 L563.0 133.8 L563.9 134.5 L564.8 135.1 L565.6 135.8 L566.5 136.5 L567.5 137.2 L568.4 137.9 L569.3 138.6 L570.2 139.3 L571.1 140.1 L572.0 140.8 L573.0 141.6 L573.9 142.4 L574.8 143.1 L575.7 143.9 L576.6 144.8 L577.6 145.6 L578.5 146.4 L579.4 147.3 L580.3 148.1 L581.2 148.9 L582.1 149.8 L582.9 150.6 L583.8 151.5 L584.6 152.3 L585.4 153.2 L586.3 154.1 L587.1 155.0 L588.0 155.9 L588.9 156.8 L589.8 157.8 L590.7 158.9 L591.6 159.9 L592.6 160.9 L593.5 161.9 L594.4 163.0 L595.3 163.9 L596.2 164.9 L597.1 165.8 L598.1 166.7 L599.0 167.6 L599.9 168.5 L600.8 169.4 L601.7 170.3 L602.6 171.3 L603.6 172.2 L604.5 173.2 L605.4 174.2 L606.3 175.2 L607.2 176.3 L608.1 177.3 L609.0 178.3 L610.0 179.3 L610.9 180.3 L611.8 181.3 L612.7 182.3 L613.6 183.3 L614.5 184.3 L615.4 185.3 L616.4 186.3 L617.3 187.4 L618.2 188.4 L619.1 189.3 L620.0 190.3 L620.9 191.3 L621.8 192.3 L622.8 193.3 L623.7 194.4 L624.6 195.4 L625.5 196.5 L626.4 197.5 L627.3 198.6 L628.3 199.7 L629.2 200.9 L630.1 202.0 L631.0 203.1 L631.9 204.2 L632.8 205.3 L633.8 206.4 L634.7 207.5 L635.7 208.7 L636.6 209.8 L637.5 210.9 L638.4 211.9 L639.2 213.0 L640.1 214.0 L640.9 215.1 L641.8 216.1 L642.6 217.2 L643.4 218.1 L644.1 219.0 L644.6 219.7 L645.1 220.3" stroke="#ff00ff" stroke-width="1.7" fill="none" stroke-dasharray="1.7 3.17"/>
<path d="M655.6 220.3 L655.7 220.1 L655.8 220.0 L655.9 219.8 L656.1 219.6 L656.2 219.2 L656.4 218.8 L656.6 218.2 L656.8 217.4 L657.0 216.3 L657.3 214.8 L657.5 213.2 L657.8 211.5 L658.1 209.8 L658.4 208.2 L658.7 206.8 L659.0 205.6 L659.3 204.9 L659.7 204.5 L660.0 204.4 L660.4 204.3 L660.8 204.2 L661.2 204.0 L661.5 203.5 L661.9 202.7 L662.3 201.7 L662.7 200.5 L663.1 199.2 L663.4 197.8 L663.8 196.1 L664.2 194.2 L664.5 192.0 L664.8 189.5 L665.1 186.6 L665.4 183.2 L665.7 179.5 L665.9 175.5 L666.1 171.5 L666.4 167.5 L666.6 163.7 L666.7 160.3 L666.9 157.1 L667.1 154.0 L667.2 151.1 L667.3 148.3 L667.4 145.5 L667.6 142.8 L667.7 140.0 L667.8 137.2 L667.9 134.3 L668.0 131.3 L668.1 128.3 L668.1 125.3 L668.2 122.4 L668.3 119.8 L668.4 117.3 L668.5 115.3 L668.6 113.5 L668.8 112.1 L668.9 110.9 L669.1 109.9 L669.2 109.0 L669.3 108.3 L669.4 107.7 L669.5 107.2" stroke="#ff00ff" stroke-width="1.7" fill="none" stroke-dasharray="1.7 3.17"/>
<path d="M669.5 107.2 L669.6 108.4 L669.8 109.9 L669.9 111.7 L670.1 113.7 L670.3 115.9 L670.5 118.1 L670.7 120.4 L670.8 122.6 L671.0 124.9 L671.2 127.3 L671.3 129.9 L671.5 132.5 L671.6 135.0 L671.8 137.4 L671.9 139.7 L672.0 141.6 L672.1 143.3 L672.2 144.9 L672.4 146.3 L672.5 147.6 L672.5 148.7 L672.6 149.6 L672.7 150.5 L672.7 151.1" stroke="#ff00ff" stroke-width="1.7" fill="none" stroke-dasharray="1.7 3.17"/>
<path d="M672.7 151.1 L672.9 148.9 L673.0 145.9 L673.3 142.2 L673.5 138.2 L673.7 134.1 L673.9 129.9 L674.2 126.0 L674.4 122.6 L674.5 119.5 L674.7 116.4 L674.9 113.4 L675.0 110.6 L675.2 107.8 L675.3 105.3 L675.4 102.8 L675.5 100.6 L675.6 98.6 L675.7 96.7 L675.8 95.0 L675.8 93.4 L675.9 92.0 L675.9 90.8 L675.9 89.8 L676.0 88.9" stroke="#ff00ff" stroke-width="1.7" fill="none" stroke-dasharray="1.7 3.17"/>
<path d="M521.2 191.0 L521.3 190.6 L521.5 190.0 L521.8 189.2 L522.0 188.5 L522.3 187.6 L522.7 186.8 L523.0 185.9 L523.4 185.2 L523.7 184.4 L524.1 183.6 L524.5 182.9 L525.0 182.1 L525.4 181.3 L525.9 180.6 L526.5 179.9 L527.0 179.3 L527.6 178.7 L528.3 178.2 L528.9 177.7 L529.6 177.2 L530.4 176.7 L531.2 176.3 L532.0 176.0 L532.9 175.6 L533.8 175.4 L534.9 175.1 L536.0 174.9 L537.1 174.7 L538.2 174.6 L539.4 174.5 L540.5 174.5 L541.7 174.5 L542.8 174.5 L543.9 174.6 L545.0 174.8 L546.1 175.0 L547.2 175.2 L548.3 175.5 L549.3 175.8 L550.4 176.1 L551.5 176.4 L552.6 176.8 L553.7 177.2 L554.7 177.6 L555.8 178.0 L556.9 178.4 L558.1 178.9 L559.2 179.3 L560.4 179.7 L561.7 180.2 L563.0 180.7 L564.3 181.1 L565.6 181.6 L566.9 182.1 L568.2 182.5 L569.5 183.0 L570.8 183.4 L572.1 183.8 L573.4 184.3 L574.7 184.7 L576.0 185.1 L577.3 185.5 L578.5 185.9 L579.7 186.3 L580.9 186.7 L582.0 187.1 L583.0 187.5 L584.0 187.9 L585.1 188.3 L586.0 188.7 L587.0 189.1 L588.0 189.5 L589.0 190.0 L589.9 190.4 L590.8 190.8 L591.7 191.3 L592.6 191.7 L593.5 192.2 L594.4 192.7 L595.3 193.2 L596.2 193.8 L597.1 194.4 L598.1 195.0 L599.0 195.6 L599.9 196.2 L600.8 196.9 L601.7 197.6 L602.6 198.3 L603.6 199.1 L604.5 199.8 L605.4 200.6 L606.3 201.4 L607.2 202.3 L608.1 203.1 L609.0 204.0 L610.0 204.9 L610.9 205.9 L611.8 206.8 L612.8 207.8 L613.7 208.9 L614.6 209.9 L615.5 210.9 L616.4 212.0 L617.3 213.0 L618.1 214.0 L619.0 215.2 L619.8 216.3 L620.7 217.5 L621.4 218.6 L622.1 219.6 L622.7 220.4 L623.1 221.0" stroke="#990000" stroke-width="3.0" fill="none" stroke-dasharray="5.3 4.3"/>
<path d="M666.0 221.0 L666.2 220.0 L666.4 218.7 L666.6 217.1 L666.8 215.3 L667.1 213.4 L667.4 211.4 L667.6 209.3 L667.8 207.1 L667.9 204.8 L668.0 202.2 L668.1 199.5 L668.2 196.7 L668.3 193.9 L668.3 191.2 L668.4 188.8 L668.5 186.6 L668.6 184.7 L668.8 182.9 L668.9 181.3 L669.1 179.9 L669.2 178.5 L669.3 177.4 L669.4 176.4 L669.5 175.6" stroke="#990000" stroke-width="3.0" fill="none" stroke-dasharray="5.3 4.3"/>
<path d="M669.5 175.6 L669.6 176.7 L669.7 178.0 L669.8 179.6 L669.9 181.5 L670.0 183.4 L670.1 185.4 L670.3 187.5 L670.4 189.5 L670.6 191.7 L670.7 194.2 L670.9 196.9 L671.1 199.6 L671.3 202.1 L671.5 204.5 L671.6 206.4 L671.7 207.8" stroke="#990000" stroke-width="3.0" fill="none" stroke-dasharray="5.3 4.3"/>
<path d="M671.7 207.8 L671.8 207.1 L671.9 206.1 L672.1 205.0 L672.2 203.7 L672.4 202.3 L672.5 200.6 L672.7 198.8 L672.9 196.9 L673.1 194.6 L673.3 192.1 L673.5 189.4 L673.8 186.6 L674.0 183.6 L674.3 180.7 L674.5 177.7 L674.7 174.9 L674.8 172.2 L674.9 169.4 L675.1 166.7 L675.2 164.0 L675.3 161.3 L675.4 158.5 L675.5 155.8 L675.5 153.0 L675.6 150.1 L675.6 147.2 L675.6 144.3 L675.7 141.4 L675.7 138.5 L675.7 135.6 L675.8 132.7 L675.8 129.9 L675.9 127.1 L676.0 124.3 L676.2 121.5 L676.3 118.7 L676.5 115.9 L676.6 113.2 L676.7 110.6 L676.8 108.0 L677.0 105.3 L677.1 102.5 L677.2 99.8 L677.3 97.1 L677.4 94.5 L677.5 92.3 L677.5 90.4 L677.6 88.9" stroke="#990000" stroke-width="3.0" fill="none" stroke-dasharray="5.3 4.3"/>
<path d="M535.4 119.4 L535.4 150.4" stroke="#000" stroke-width="1.6" fill="none"/>
<path d="M530.8 125.2 L540.0 125.2" stroke="#000" stroke-width="1.5" fill="none"/>
<path d="M530.8 144.8 L540.0 144.8" stroke="#000" stroke-width="1.5" fill="none"/>
<circle cx="535.4" cy="134.6" r="3.9" fill="#000"/>
<path d="M542.4 122.6 L542.4 162.1" stroke="#000" stroke-width="1.6" fill="none"/>
<path d="M537.8 127.0 L547.0 127.0" stroke="#000" stroke-width="1.5" fill="none"/>
<path d="M537.8 158.0 L547.0 158.0" stroke="#000" stroke-width="1.5" fill="none"/>
<circle cx="542.4" cy="142.1" r="3.9" fill="#000"/>
<path d="M553.8 134.0 L553.8 154.8" stroke="#000" stroke-width="1.6" fill="none"/>
<path d="M549.2 138.7 L558.4 138.7" stroke="#000" stroke-width="1.5" fill="none"/>
<path d="M549.2 150.1 L558.4 150.1" stroke="#000" stroke-width="1.5" fill="none"/>
<circle cx="553.8" cy="144.3" r="3.9" fill="#000"/>
<path d="M565.4 125.8 L565.4 146.7" stroke="#000" stroke-width="1.6" fill="none"/>
<path d="M560.8 130.6 L570.0 130.6" stroke="#000" stroke-width="1.5" fill="none"/>
<path d="M560.8 141.6 L570.0 141.6" stroke="#000" stroke-width="1.5" fill="none"/>
<circle cx="565.4" cy="136.2" r="3.9" fill="#000"/>
<path d="M575.8 151.9 L575.8 175.3" stroke="#000" stroke-width="1.6" fill="none"/>
<path d="M571.2 154.1 L580.4 154.1" stroke="#000" stroke-width="1.5" fill="none"/>
<path d="M571.2 173.4 L580.4 173.4" stroke="#000" stroke-width="1.5" fill="none"/>
<circle cx="575.8" cy="163.3" r="3.9" fill="#000"/>
<path d="M591.4 162.5 L591.4 184.4" stroke="#000" stroke-width="1.6" fill="none"/>
<path d="M586.8 165.7 L596.0 165.7" stroke="#000" stroke-width="1.5" fill="none"/>
<path d="M586.8 181.9 L596.0 181.9" stroke="#000" stroke-width="1.5" fill="none"/>
<circle cx="591.4" cy="173.4" r="3.9" fill="#000"/>
</g>
<g clip-path="url(#cp10)">
<path d="M121.7 300.4 L121.7 299.0 L121.7 297.0 L121.7 294.7 L121.7 292.1 L121.7 289.5 L121.7 286.9 L121.7 284.7 L121.7 282.9 L121.7 281.4 L121.7 280.2 L121.6 279.2 L121.6 278.4 L121.6 277.6 L121.7 276.9 L121.7 276.3 L121.8 275.5 L121.9 274.9 L122.1 274.2 L122.2 273.7 L122.4 273.1 L122.6 272.6 L122.8 272.1 L123.1 271.7 L123.4 271.2 L123.8 270.7 L124.2 270.1 L124.6 269.6 L125.0 269.2 L125.5 268.7 L126.0 268.3 L126.5 267.9 L127.1 267.5 L127.6 267.2 L128.2 266.9 L128.9 266.6 L129.5 266.3 L130.2 266.1 L130.8 266.0 L131.5 265.8 L132.2 265.7 L132.9 265.7 L133.6 265.7 L134.3 265.8 L135.1 265.9 L135.8 266.0 L136.6 266.2 L137.3 266.3 L138.1 266.5 L138.8 266.6 L139.5 266.8 L140.2 267.0 L140.9 267.2 L141.6 267.4 L142.3 267.7 L143.1 267.9 L143.9 268.2 L144.8 268.5 L145.7 268.9 L146.6 269.3 L147.6 269.7 L148.6 270.1 L149.5 270.4 L150.4 270.8 L151.2 271.2 L152.0 271.4 L152.6 271.7 L153.1 271.9 L153.7 272.1 L154.2 272.4 L154.9 272.6 L155.6 273.0 L156.5 273.4 L157.5 273.8 L158.7 274.3 L160.0 274.9 L161.3 275.5 L162.7 276.1 L164.1 276.8 L165.4 277.4 L166.7 278.1 L168.0 278.7 L169.3 279.4 L170.6 280.1 L171.9 280.8 L173.1 281.5 L174.4 282.2 L175.7 282.9 L177.0 283.6 L178.3 284.3 L179.5 284.9 L180.8 285.5 L182.1 286.2 L183.4 286.8 L184.7 287.5 L185.9 288.1 L187.2 288.7 L188.5 289.4 L189.8 290.0 L191.1 290.7 L192.4 291.4 L193.6 292.0 L194.9 292.7 L196.2 293.3 L197.5 293.8 L198.8 294.4 L200.0 294.8 L201.3 295.3 L202.6 295.7 L203.9 296.2 L205.2 296.6 L206.4 296.9 L207.7 297.3 L209.0 297.7 L210.4 298.1 L211.7 298.5 L213.1 298.8 L214.4 299.2 L215.7 299.5 L216.9 299.8 L218.0 300.0 L218.9 300.2 L219.8 300.4 L220.6 300.5 L221.3 300.6 L222.0 300.7 L222.7 300.7 L223.4 300.7 L224.1 300.6 L224.9 300.5 L225.7 300.4 L226.4 300.2 L227.2 300.0 L228.0 299.8 L228.7 299.5 L229.5 299.1 L230.3 298.6 L231.0 298.0 L231.8 297.3 L232.7 296.5 L233.5 295.6 L234.3 294.7 L235.0 293.8 L235.7 292.8 L236.4 291.8 L237.0 290.8 L237.6 289.7 L238.1 288.7 L238.7 287.5 L239.1 286.4 L239.6 285.2 L240.1 283.9 L240.5 282.6 L240.9 281.2 L241.3 279.8 L241.7 278.4 L242.1 276.9 L242.5 275.3 L242.8 273.7 L243.2 272.0 L243.6 270.3 L244.0 268.4 L244.4 266.5 L244.8 264.5 L245.2 262.5 L245.5 260.4 L245.9 258.2 L246.3 256.1 L246.7 253.9 L247.0 251.7 L247.3 249.4 L247.6 247.0 L247.9 244.6 L248.2 242.3 L248.5 239.9 L248.8 237.6 L249.1 235.4 L249.4 233.2 L249.7 230.9 L250.0 228.6 L250.3 226.3 L250.6 224.2 L250.8 222.3 L251.0 220.7 L251.2 219.5 L251.2 215.2 L270.1 215.2 L270.1 353.4 L227.2 353.4 L227.2 349.8 L226.5 349.0 L225.6 348.0 L224.5 346.8 L223.2 345.4 L221.9 344.0 L220.6 342.6 L219.2 341.2 L218.0 340.0 L216.7 338.8 L215.5 337.6 L214.2 336.4 L212.9 335.3 L211.6 334.2 L210.3 333.0 L209.0 331.9 L207.7 330.7 L206.4 329.6 L205.2 328.4 L203.9 327.3 L202.6 326.1 L201.3 325.0 L200.0 323.8 L198.8 322.7 L197.5 321.5 L196.2 320.3 L194.9 319.2 L193.6 318.0 L192.4 316.8 L191.1 315.7 L189.8 314.5 L188.5 313.4 L187.2 312.3 L185.9 311.2 L184.7 310.1 L183.4 309.0 L182.1 308.0 L180.8 307.0 L179.5 306.0 L178.3 305.0 L177.0 304.1 L175.7 303.2 L174.4 302.4 L173.1 301.5 L171.9 300.8 L170.6 300.0 L169.3 299.3 L168.0 298.6 L166.7 297.9 L165.4 297.3 L164.1 296.7 L162.7 296.1 L161.3 295.6 L160.0 295.1 L158.7 294.6 L157.5 294.2 L156.5 293.8 L155.6 293.5 L154.9 293.3 L154.2 293.1 L153.7 293.0 L153.1 292.9 L152.6 292.7 L152.0 292.6 L151.2 292.4 L150.4 292.1 L149.5 291.8 L148.6 291.5 L147.6 291.2 L146.6 290.9 L145.7 290.6 L144.8 290.4 L143.9 290.2 L143.1 290.0 L142.3 289.9 L141.6 289.7 L140.9 289.6 L140.2 289.6 L139.5 289.5 L138.8 289.5 L138.1 289.5 L137.3 289.5 L136.6 289.5 L135.8 289.6 L135.1 289.6 L134.3 289.7 L133.6 289.9 L132.9 290.0 L132.2 290.2 L131.5 290.4 L130.8 290.6 L130.2 290.8 L129.5 291.1 L128.9 291.3 L128.2 291.6 L127.6 292.0 L127.1 292.4 L126.5 292.8 L126.0 293.3 L125.5 293.9 L125.0 294.5 L124.6 295.1 L124.2 295.7 L123.8 296.2 L123.4 296.8 L123.1 297.3 L122.8 297.8 L122.5 298.4 L122.3 298.9 L122.1 299.4 L121.9 299.8 L121.8 300.2 L121.7 300.4" stroke="#ff00ff" stroke-width="1.4" fill="none" stroke-linejoin="round"/>
<path d="M270.15 215.2 V353.4" stroke="#ff00ff" stroke-width="1.9" fill="none"/>
<path d="M122.0 285.1 L122.1 284.9 L122.2 284.7 L122.3 284.5 L122.5 284.2 L122.6 283.9 L122.9 283.6 L123.1 283.2 L123.4 282.9 L123.8 282.5 L124.1 282.0 L124.6 281.5 L125.0 281.0 L125.5 280.5 L126.0 280.0 L126.5 279.6 L127.1 279.2 L127.6 278.9 L128.2 278.6 L128.9 278.3 L129.5 278.0 L130.2 277.8 L130.8 277.6 L131.5 277.5 L132.2 277.3 L132.9 277.2 L133.6 277.1 L134.3 277.0 L135.1 277.0 L135.8 276.9 L136.6 276.9 L137.3 277.0 L138.1 277.0 L138.8 277.1 L139.5 277.2 L140.2 277.3 L140.9 277.5 L141.6 277.6 L142.3 277.8 L143.1 278.0 L143.9 278.2 L144.8 278.4 L145.7 278.6 L146.6 278.8 L147.6 279.1 L148.6 279.3 L149.5 279.6 L150.4 279.9 L151.2 280.2 L152.0 280.6 L152.6 281.0 L153.1 281.4 L153.7 281.8 L154.2 282.2 L154.9 282.7 L155.6 283.1 L156.5 283.6 L157.5 284.1 L158.7 284.5 L160.0 285.0 L161.3 285.5 L162.7 286.1 L164.1 286.6 L165.4 287.1 L166.7 287.7 L168.0 288.3 L169.3 288.9 L170.6 289.5 L171.9 290.1 L173.1 290.8 L174.4 291.4 L175.7 292.1 L177.0 292.8 L178.3 293.5 L179.5 294.3 L180.8 295.0 L182.1 295.8 L183.4 296.5 L184.7 297.3 L185.9 298.1 L187.2 299.0 L188.5 299.8 L189.8 300.7 L191.1 301.6 L192.4 302.5 L193.6 303.4 L194.9 304.3 L196.2 305.2 L197.5 306.1 L198.8 307.0 L200.0 307.9 L201.3 308.8 L202.6 309.7 L203.9 310.6 L205.2 311.5 L206.4 312.4 L207.7 313.3 L209.0 314.2 L210.3 315.2 L211.7 316.1 L213.0 317.1 L214.3 318.0 L215.5 318.9 L216.8 319.7 L218.0 320.5 L219.1 321.2 L220.2 321.8 L221.2 322.3 L222.2 322.9 L223.2 323.3 L224.2 323.8 L225.2 324.2 L226.2 324.6 L227.2 325.0 L228.3 325.3 L229.3 325.7 L230.4 326.0 L231.4 326.2 L232.5 326.4 L233.4 326.6 L234.4 326.6 L235.2 326.6 L236.1 326.6 L236.9 326.5 L237.7 326.3 L238.4 326.1 L239.2 325.9 L239.9 325.6 L240.5 325.2 L241.1 324.8 L241.7 324.4 L242.2 323.9 L242.7 323.3 L243.2 322.7 L243.7 322.1 L244.2 321.3 L244.6 320.5 L245.0 319.6 L245.4 318.7 L245.8 317.7 L246.2 316.6 L246.6 315.4 L246.9 314.2 L247.3 312.8 L247.7 311.3 L248.1 309.6 L248.4 307.7 L248.8 305.6 L249.2 303.5 L249.6 301.3 L250.0 299.1 L250.4 297.0 L250.8 294.9 L251.1 292.8 L251.5 290.8 L251.9 288.7 L252.3 286.7 L252.7 284.6 L253.1 282.6 L253.4 280.5 L253.8 278.5 L254.2 276.4 L254.6 274.3 L255.0 272.2 L255.4 270.2 L255.8 268.1 L256.2 266.0 L256.6 264.0 L256.9 262.1 L257.2 260.2 L257.5 258.2 L257.7 256.3 L258.0 254.5 L258.2 252.7 L258.5 250.9 L258.7 249.3 L259.0 247.7 L259.2 246.3 L259.4 245.0 L259.7 243.7 L259.9 242.6 L260.2 241.5 L260.4 240.4 L260.7 239.5 L261.0 238.5 L261.3 237.6 L261.7 236.9 L262.0 236.1 L262.4 235.5 L262.8 234.8 L263.2 234.2 L263.6 233.6 L264.1 233.0 L264.6 232.3 L265.1 231.6 L265.7 230.9 L266.3 230.3 L266.9 229.7 L267.4 229.1 L267.8 228.6 L268.2 228.3" stroke="#ff00ff" stroke-width="1.7" fill="none" stroke-dasharray="1.7 3.17"/>
<path d="M121.2 311.4 L121.5 311.1 L121.8 310.7 L122.2 310.2 L122.7 309.7 L123.2 309.1 L123.7 308.6 L124.3 308.1 L124.9 307.7 L125.5 307.4 L126.2 307.1 L126.9 306.9 L127.6 306.7 L128.3 306.5 L129.1 306.3 L129.9 306.1 L130.7 306.0 L131.6 305.9 L132.5 305.8 L133.4 305.7 L134.3 305.6 L135.2 305.6 L136.2 305.6 L137.1 305.5 L138.1 305.6 L139.0 305.6 L140.0 305.6 L141.1 305.7 L142.1 305.8 L143.1 305.9 L144.0 306.0 L144.8 306.1 L145.4 306.3 L145.7 306.5 L145.8 306.7 L145.8 306.9 L145.6 307.2 L145.5 307.4 L145.5 307.7 L145.7 307.9 L146.2 308.2 L147.1 308.4 L148.1 308.7 L149.4 308.9 L150.8 309.2 L152.2 309.5 L153.7 309.7 L155.1 310.0 L156.5 310.2 L157.8 310.5 L159.1 310.7 L160.3 311.0 L161.6 311.2 L162.9 311.4 L164.2 311.7 L165.5 312.0 L166.7 312.3 L168.0 312.6 L169.3 313.0 L170.6 313.3 L171.9 313.7 L173.1 314.1 L174.4 314.5 L175.7 314.9 L177.0 315.4 L178.3 315.8 L179.5 316.3 L180.8 316.8 L182.1 317.3 L183.4 317.8 L184.7 318.3 L185.9 318.9 L187.2 319.5 L188.5 320.0 L189.8 320.6 L191.1 321.3 L192.4 321.9 L193.6 322.5 L194.9 323.2 L196.2 323.9 L197.5 324.6 L198.8 325.3 L200.0 326.0 L201.3 326.8 L202.6 327.5 L203.9 328.3 L205.2 329.1 L206.4 329.9 L207.7 330.7 L209.0 331.6 L210.3 332.5 L211.7 333.4 L213.0 334.3 L214.3 335.2 L215.5 336.2 L216.8 337.0 L218.0 337.9 L219.1 338.7 L220.2 339.5 L221.2 340.2 L222.3 341.0 L223.3 341.7 L224.2 342.5 L225.2 343.2 L226.2 344.0 L227.2 344.9 L228.2 345.9 L229.2 347.0 L230.3 348.0 L231.2 349.0 L232.1 349.9 L232.8 350.7 L233.3 351.2" stroke="#990000" stroke-width="3.0" fill="none" stroke-dasharray="5.3 4.3"/>
<path d="M241.5 351.2 L242.0 350.2 L242.7 348.9 L243.5 347.2 L244.4 345.5 L245.3 343.6 L246.1 341.6 L247.0 339.7 L247.7 337.9 L248.3 336.2 L248.9 334.4 L249.4 332.7 L249.9 330.9 L250.4 329.1 L250.9 327.3 L251.3 325.5 L251.8 323.6 L252.2 321.6 L252.6 319.6 L253.0 317.6 L253.4 315.5 L253.7 313.4 L254.1 311.3 L254.5 309.2 L254.9 307.2 L255.2 305.1 L255.6 303.0 L256.1 300.8 L256.5 298.7 L256.8 296.6 L257.2 294.6 L257.6 292.6 L257.9 290.8 L258.2 289.0 L258.5 287.3 L258.8 285.7 L259.0 284.1 L259.2 282.6 L259.5 281.1 L259.7 279.8 L260.0 278.5 L260.3 277.3 L260.6 276.2 L260.9 275.1 L261.2 274.2 L261.5 273.2 L261.8 272.4 L262.1 271.5 L262.4 270.7 L262.7 270.0 L263.0 269.4 L263.3 269.0 L263.5 268.5 L263.8 268.0 L264.1 267.3 L264.3 266.4 L264.5 265.2 L264.7 263.6 L264.8 261.8 L264.9 259.8 L265.0 257.6 L265.2 255.3 L265.3 252.9 L265.4 250.3 L265.5 247.7 L265.7 244.8 L265.8 241.5 L266.0 238.0 L266.2 234.4 L266.4 230.9 L266.5 227.7 L266.6 225.1 L266.7 223.1" stroke="#990000" stroke-width="3.0" fill="none" stroke-dasharray="5.3 4.3"/>
<path d="M135.4 239.0 L135.4 267.5" stroke="#000" stroke-width="1.6" fill="none"/>
<path d="M130.8 242.2 L140.0 242.2" stroke="#000" stroke-width="1.5" fill="none"/>
<path d="M130.8 263.8 L140.0 263.8" stroke="#000" stroke-width="1.5" fill="none"/>
<circle cx="135.4" cy="252.9" r="3.9" fill="#000"/>
<path d="M143.9 241.2 L143.9 267.5" stroke="#000" stroke-width="1.6" fill="none"/>
<path d="M139.3 248.2 L148.5 248.2" stroke="#000" stroke-width="1.5" fill="none"/>
<path d="M139.3 260.5 L148.5 260.5" stroke="#000" stroke-width="1.5" fill="none"/>
<circle cx="143.9" cy="254.0" r="3.9" fill="#000"/>
<path d="M153.7 258.7 L153.7 276.3" stroke="#000" stroke-width="1.6" fill="none"/>
<path d="M149.1 262.8 L158.3 262.8" stroke="#000" stroke-width="1.5" fill="none"/>
<path d="M149.1 272.3 L158.3 272.3" stroke="#000" stroke-width="1.5" fill="none"/>
<circle cx="153.7" cy="267.2" r="3.9" fill="#000"/>
<path d="M164.1 284.3 L164.1 299.7" stroke="#000" stroke-width="1.6" fill="none"/>
<path d="M159.5 288.0 L168.7 288.0" stroke="#000" stroke-width="1.5" fill="none"/>
<path d="M159.5 296.0 L168.7 296.0" stroke="#000" stroke-width="1.5" fill="none"/>
<circle cx="164.1" cy="291.6" r="3.9" fill="#000"/>
<path d="M178.0 283.6 L178.0 301.9" stroke="#000" stroke-width="1.6" fill="none"/>
<path d="M173.4 287.6 L182.6 287.6" stroke="#000" stroke-width="1.5" fill="none"/>
<path d="M173.4 297.2 L182.6 297.2" stroke="#000" stroke-width="1.5" fill="none"/>
<circle cx="178.0" cy="292.4" r="3.9" fill="#000"/>
<path d="M193.8 301.0 L193.8 321.5" stroke="#000" stroke-width="1.6" fill="none"/>
<path d="M189.2 304.1 L198.4 304.1" stroke="#000" stroke-width="1.5" fill="none"/>
<path d="M189.2 318.4 L198.4 318.4" stroke="#000" stroke-width="1.5" fill="none"/>
<circle cx="193.8" cy="311.3" r="3.9" fill="#000"/>
</g>
<g clip-path="url(#cp11)">
<path d="M336.0 298.2 L336.0 297.4 L336.0 296.2 L336.0 294.7 L336.0 293.2 L336.0 291.6 L336.0 290.0 L336.0 288.5 L336.0 287.3 L336.0 286.2 L336.0 285.1 L335.9 284.1 L335.9 283.2 L335.9 282.3 L336.0 281.5 L336.0 280.8 L336.1 280.2 L336.3 279.8 L336.4 279.4 L336.6 279.1 L336.8 278.9 L337.0 278.8 L337.3 278.7 L337.7 278.6 L338.2 278.5 L338.7 278.4 L339.3 278.3 L340.0 278.2 L340.8 278.2 L341.6 278.1 L342.4 278.1 L343.2 278.1 L344.0 278.2 L344.9 278.2 L345.8 278.3 L346.7 278.4 L347.6 278.6 L348.5 278.7 L349.5 278.9 L350.4 279.0 L351.3 279.2 L352.3 279.4 L353.2 279.6 L354.1 279.9 L355.0 280.1 L355.9 280.3 L356.8 280.6 L357.8 280.9 L358.7 281.1 L359.6 281.4 L360.5 281.6 L361.4 281.8 L362.3 282.1 L363.2 282.3 L364.2 282.6 L365.1 282.9 L366.0 283.2 L366.9 283.5 L367.8 283.8 L368.7 284.1 L369.6 284.4 L370.6 284.8 L371.5 285.1 L372.4 285.4 L373.3 285.8 L374.2 286.2 L375.2 286.6 L376.2 287.0 L377.1 287.4 L378.1 287.9 L379.0 288.2 L379.8 288.5 L380.6 288.7 L381.3 288.8 L381.9 288.8 L382.3 288.7 L382.8 288.5 L383.3 288.4 L383.8 288.3 L384.3 288.3 L385.0 288.4 L385.8 288.6 L386.6 288.9 L387.5 289.3 L388.5 289.8 L389.4 290.3 L390.4 290.7 L391.4 291.2 L392.3 291.6 L393.2 292.0 L394.1 292.3 L395.1 292.6 L396.0 293.0 L396.9 293.3 L397.8 293.6 L398.7 293.9 L399.6 294.2 L400.6 294.5 L401.5 294.8 L402.4 295.1 L403.3 295.4 L404.2 295.7 L405.1 295.9 L406.0 296.2 L407.0 296.4 L407.9 296.6 L408.8 296.9 L409.7 297.1 L410.6 297.2 L411.5 297.4 L412.4 297.6 L413.4 297.7 L414.3 297.9 L415.2 298.0 L416.1 298.1 L417.1 298.3 L418.0 298.4 L419.0 298.4 L419.9 298.5 L420.7 298.6 L421.6 298.6 L422.4 298.7 L423.2 298.7 L423.9 298.7 L424.6 298.7 L425.3 298.7 L426.0 298.6 L426.7 298.6 L427.4 298.5 L428.2 298.3 L428.9 298.2 L429.6 298.0 L430.4 297.9 L431.1 297.6 L431.8 297.4 L432.6 297.1 L433.3 296.7 L434.0 296.3 L434.8 295.8 L435.6 295.3 L436.3 294.8 L437.1 294.2 L437.8 293.6 L438.5 293.0 L439.2 292.3 L439.8 291.7 L440.4 291.0 L440.9 290.3 L441.5 289.6 L442.0 288.9 L442.5 288.1 L443.0 287.3 L443.5 286.5 L444.0 285.6 L444.5 284.8 L444.9 284.0 L445.3 283.1 L445.8 282.2 L446.2 281.1 L446.7 279.8 L447.2 278.4 L447.8 276.7 L448.5 274.8 L449.2 272.6 L449.9 270.4 L450.6 268.1 L451.3 265.8 L451.9 263.7 L452.4 261.8 L452.9 260.2 L453.2 258.6 L453.5 257.2 L453.8 255.8 L454.0 254.5 L454.2 253.1 L454.5 251.7 L454.8 250.1 L455.1 248.5 L455.4 246.7 L455.7 244.9 L456.0 243.0 L456.3 241.2 L456.6 239.4 L456.8 237.7 L457.1 236.1 L457.4 234.6 L457.6 233.1 L457.8 231.7 L458.1 230.3 L458.3 229.0 L458.5 227.8 L458.7 226.6 L458.9 225.5 L459.0 224.5 L459.2 223.6 L459.4 222.7 L459.6 221.8 L459.7 221.1 L459.8 220.4 L459.9 219.9 L460.0 219.4 L460.0 219.2 L475.8 219.2 L475.8 353.4 L448.0 353.4 L447.9 348.7 L447.4 348.2 L446.6 347.6 L445.7 346.9 L444.6 346.1 L443.6 345.3 L442.5 344.4 L441.5 343.6 L440.6 342.8 L439.8 342.1 L439.1 341.4 L438.3 340.6 L437.6 339.9 L436.9 339.2 L436.2 338.4 L435.5 337.7 L434.8 337.0 L434.0 336.2 L433.3 335.5 L432.6 334.7 L431.9 334.0 L431.2 333.3 L430.5 332.5 L429.7 331.8 L428.9 331.1 L428.1 330.4 L427.2 329.8 L426.3 329.1 L425.3 328.5 L424.4 327.9 L423.5 327.3 L422.5 326.6 L421.6 326.0 L420.7 325.3 L419.8 324.7 L418.8 324.1 L417.9 323.4 L417.0 322.8 L416.1 322.1 L415.2 321.5 L414.3 320.9 L413.4 320.2 L412.4 319.6 L411.5 318.9 L410.6 318.2 L409.7 317.6 L408.8 317.0 L407.9 316.3 L407.0 315.7 L406.0 315.2 L405.1 314.6 L404.2 314.1 L403.3 313.6 L402.4 313.1 L401.5 312.6 L400.6 312.1 L399.6 311.6 L398.7 311.2 L397.8 310.7 L396.9 310.3 L396.0 309.9 L395.1 309.4 L394.1 309.0 L393.2 308.7 L392.3 308.3 L391.4 307.9 L390.5 307.6 L389.6 307.3 L388.8 307.0 L387.9 306.7 L386.9 306.4 L386.0 306.1 L385.0 305.8 L384.0 305.4 L382.9 305.0 L381.8 304.6 L380.6 304.2 L379.5 303.8 L378.4 303.4 L377.3 303.0 L376.2 302.6 L375.2 302.3 L374.3 301.9 L373.4 301.6 L372.5 301.3 L371.6 301.0 L370.7 300.7 L369.8 300.4 L368.9 300.1 L368.0 299.9 L367.1 299.6 L366.2 299.4 L365.3 299.1 L364.3 298.9 L363.4 298.7 L362.5 298.4 L361.6 298.2 L360.7 298.0 L359.8 297.8 L358.8 297.6 L357.9 297.4 L357.0 297.2 L356.1 297.1 L355.2 296.9 L354.3 296.8 L353.4 296.6 L352.4 296.5 L351.5 296.4 L350.6 296.3 L349.7 296.2 L348.8 296.1 L347.9 296.1 L347.0 296.0 L346.0 296.1 L345.0 296.1 L344.1 296.2 L343.1 296.3 L342.1 296.4 L341.2 296.5 L340.4 296.6 L339.6 296.8 L339.0 296.9 L338.4 297.1 L337.8 297.3 L337.3 297.5 L336.9 297.8 L336.5 298.0 L336.2 298.1 L336.0 298.2" stroke="#ff00ff" stroke-width="1.4" fill="none" stroke-linejoin="round"/>
<path d="M460.0 219.25 H475.8" stroke="#ff00ff" stroke-width="2.0" fill="none"/>
<path d="M336.4 288.0 L336.9 287.9 L337.5 287.8 L338.2 287.6 L339.0 287.5 L339.9 287.3 L340.8 287.2 L341.7 287.0 L342.6 287.0 L343.4 286.9 L344.3 286.9 L345.2 286.9 L346.2 287.0 L347.1 287.0 L348.0 287.1 L349.0 287.2 L349.9 287.3 L350.8 287.4 L351.7 287.5 L352.6 287.7 L353.5 287.9 L354.5 288.1 L355.4 288.3 L356.3 288.5 L357.2 288.7 L358.1 288.9 L359.0 289.2 L359.9 289.4 L360.9 289.6 L361.8 289.8 L362.7 290.1 L363.6 290.4 L364.5 290.6 L365.4 290.9 L366.3 291.2 L367.3 291.5 L368.2 291.8 L369.1 292.1 L370.0 292.4 L370.9 292.8 L371.8 293.1 L372.8 293.5 L373.7 293.8 L374.6 294.2 L375.6 294.6 L376.5 295.0 L377.4 295.4 L378.3 295.7 L379.2 296.0 L379.9 296.3 L380.7 296.5 L381.4 296.6 L382.1 296.7 L382.8 296.9 L383.5 297.0 L384.2 297.2 L385.0 297.4 L385.8 297.7 L386.7 298.1 L387.6 298.4 L388.6 298.8 L389.5 299.2 L390.5 299.6 L391.4 300.0 L392.3 300.4 L393.2 300.8 L394.1 301.3 L395.1 301.7 L396.0 302.2 L396.9 302.7 L397.8 303.2 L398.7 303.6 L399.6 304.0 L400.6 304.4 L401.5 304.8 L402.4 305.2 L403.3 305.5 L404.2 305.9 L405.1 306.2 L406.0 306.6 L407.0 307.0 L407.9 307.3 L408.8 307.7 L409.7 308.1 L410.6 308.4 L411.5 308.8 L412.4 309.2 L413.4 309.5 L414.3 309.9 L415.2 310.3 L416.1 310.6 L417.0 311.0 L417.9 311.4 L418.8 311.8 L419.8 312.1 L420.7 312.5 L421.6 312.8 L422.5 313.1 L423.4 313.4 L424.3 313.7 L425.3 314.0 L426.2 314.3 L427.1 314.6 L428.0 314.8 L428.9 315.0 L429.8 315.2 L430.8 315.4 L431.7 315.6 L432.7 315.8 L433.6 315.9 L434.5 316.0 L435.4 316.1 L436.2 316.2 L437.0 316.2 L437.8 316.2 L438.6 316.2 L439.3 316.2 L440.1 316.1 L440.8 316.0 L441.4 315.9 L442.1 315.7 L442.7 315.6 L443.3 315.4 L443.9 315.2 L444.4 314.9 L444.9 314.7 L445.5 314.3 L446.0 314.0 L446.5 313.5 L447.0 313.1 L447.5 312.5 L447.9 311.9 L448.4 311.3 L448.8 310.6 L449.3 309.9 L449.7 309.2 L450.1 308.4 L450.5 307.7 L450.9 306.9 L451.3 306.1 L451.6 305.3 L452.0 304.4 L452.3 303.6 L452.7 302.7 L453.1 301.8 L453.4 301.0 L453.8 300.1 L454.2 299.2 L454.5 298.3 L454.9 297.4 L455.3 296.5 L455.6 295.5 L456.0 294.5 L456.3 293.6 L456.7 292.7 L457.0 291.8 L457.3 290.9 L457.7 289.9 L458.1 288.7 L458.5 287.3 L458.9 285.7 L459.4 283.8 L460.0 281.5 L460.7 279.0 L461.3 276.4 L461.9 273.7 L462.6 271.1 L463.1 268.7 L463.5 266.5 L463.9 264.6 L464.2 262.8 L464.4 261.1 L464.6 259.5 L464.8 258.0 L464.9 256.5 L465.1 255.1 L465.3 253.6 L465.5 252.2 L465.7 250.8 L465.9 249.4 L466.1 248.1 L466.4 246.8 L466.6 245.5 L466.8 244.3 L467.1 243.1 L467.3 242.0 L467.6 240.9 L467.9 239.9 L468.2 238.9 L468.5 237.9 L468.8 236.9 L469.1 235.9 L469.4 234.9 L469.7 233.9 L470.0 232.8 L470.3 231.7 L470.6 230.7 L470.9 229.6 L471.2 228.6 L471.5 227.6 L471.7 226.7 L472.0 225.8 L472.3 224.9 L472.5 224.1 L472.8 223.3 L473.0 222.5 L473.2 221.9 L473.4 221.3 L473.5 220.9" stroke="#ff00ff" stroke-width="1.7" fill="none" stroke-dasharray="1.7 3.17"/>
<path d="M336.7 306.3 L337.3 306.2 L338.0 306.1 L338.9 305.9 L339.9 305.8 L341.0 305.6 L342.0 305.4 L343.1 305.3 L344.0 305.3 L344.9 305.2 L345.9 305.2 L346.8 305.2 L347.7 305.3 L348.6 305.3 L349.5 305.4 L350.4 305.5 L351.3 305.6 L352.3 305.6 L353.2 305.7 L354.1 305.9 L355.0 306.0 L355.9 306.1 L356.8 306.3 L357.8 306.4 L358.7 306.6 L359.6 306.7 L360.5 306.9 L361.4 307.1 L362.3 307.3 L363.2 307.5 L364.2 307.7 L365.1 307.8 L366.0 308.0 L366.9 308.2 L367.7 308.4 L368.5 308.6 L369.4 308.8 L370.2 309.0 L371.2 309.2 L372.2 309.4 L373.3 309.7 L374.6 309.9 L376.0 310.2 L377.6 310.5 L379.2 310.8 L380.7 311.2 L382.3 311.5 L383.7 311.8 L385.0 312.1 L386.1 312.4 L387.1 312.6 L388.1 312.9 L388.9 313.2 L389.8 313.4 L390.6 313.7 L391.4 314.0 L392.3 314.3 L393.2 314.6 L394.1 315.0 L395.1 315.3 L396.0 315.7 L396.9 316.1 L397.8 316.5 L398.7 316.8 L399.6 317.2 L400.6 317.6 L401.5 317.9 L402.4 318.3 L403.3 318.7 L404.2 319.0 L405.1 319.4 L406.0 319.8 L407.0 320.1 L407.9 320.5 L408.8 320.8 L409.7 321.2 L410.6 321.6 L411.5 321.9 L412.4 322.3 L413.4 322.7 L414.3 323.1 L415.2 323.5 L416.1 323.9 L417.0 324.4 L417.9 324.8 L418.8 325.3 L419.8 325.8 L420.7 326.3 L421.6 326.7 L422.5 327.2 L423.5 327.7 L424.4 328.1 L425.3 328.6 L426.3 329.1 L427.2 329.5 L428.1 330.0 L428.9 330.4 L429.7 330.8 L430.5 331.2 L431.2 331.6 L431.9 332.0 L432.6 332.3 L433.3 332.7 L434.0 333.0 L434.8 333.3 L435.5 333.6 L436.2 333.9 L437.0 334.1 L437.7 334.4 L438.4 334.6 L439.2 334.7 L439.9 334.8 L440.6 334.8 L441.4 334.7 L442.1 334.6 L442.9 334.4 L443.6 334.1 L444.4 333.8 L445.1 333.5 L445.8 333.1 L446.5 332.6 L447.1 332.0 L447.7 331.4 L448.3 330.7 L448.8 330.0 L449.3 329.2 L449.9 328.4 L450.4 327.5 L450.9 326.7 L451.4 325.9 L451.8 325.0 L452.3 324.1 L452.8 323.2 L453.2 322.3 L453.7 321.4 L454.1 320.4 L454.5 319.4 L454.9 318.4 L455.3 317.3 L455.7 316.3 L456.0 315.2 L456.4 314.1 L456.7 313.0 L457.1 311.8 L457.5 310.6 L457.8 309.4 L458.2 308.2 L458.6 307.0 L458.9 305.8 L459.3 304.5 L459.6 303.2 L460.0 301.8 L460.4 300.4 L460.8 298.9 L461.1 297.2 L461.5 295.6 L461.9 293.9 L462.3 292.1 L462.6 290.4 L463.0 288.8 L463.3 287.2 L463.6 285.7 L463.9 284.3 L464.1 282.8 L464.3 281.5 L464.6 280.1 L464.8 278.7 L465.0 277.3 L465.3 275.9 L465.6 274.5 L465.9 273.0 L466.2 271.6 L466.5 270.1 L466.8 268.7 L467.1 267.2 L467.4 265.7 L467.6 264.2 L467.9 262.6 L468.2 261.0 L468.6 259.3 L468.9 257.7 L469.2 256.0 L469.4 254.4 L469.7 252.8 L470.0 251.3 L470.2 249.9 L470.5 248.5 L470.7 247.2 L470.9 245.9 L471.2 244.6 L471.4 243.3 L471.6 242.1 L471.7 240.8 L471.9 239.4 L472.1 238.1 L472.2 236.8 L472.4 235.5 L472.5 234.2 L472.6 232.9 L472.8 231.5 L472.9 230.2 L473.1 228.8 L473.3 227.3 L473.5 225.8 L473.7 224.3 L473.9 222.9 L474.1 221.6 L474.2 220.5 L474.3 219.7" stroke="#990000" stroke-width="3.0" fill="none" stroke-dasharray="5.3 4.3"/>
<path d="M351.6 263.5 L351.6 290.9" stroke="#000" stroke-width="1.6" fill="none"/>
<path d="M347.0 266.8 L356.2 266.8" stroke="#000" stroke-width="1.5" fill="none"/>
<path d="M347.0 288.0 L356.2 288.0" stroke="#000" stroke-width="1.5" fill="none"/>
<circle cx="351.6" cy="277.0" r="3.9" fill="#000"/>
<path d="M359.4 267.5 L359.4 290.9" stroke="#000" stroke-width="1.6" fill="none"/>
<path d="M354.8 274.1 L364.0 274.1" stroke="#000" stroke-width="1.5" fill="none"/>
<path d="M354.8 284.3 L364.0 284.3" stroke="#000" stroke-width="1.5" fill="none"/>
<circle cx="359.4" cy="279.2" r="3.9" fill="#000"/>
<path d="M369.9 270.4 L369.9 286.5" stroke="#000" stroke-width="1.6" fill="none"/>
<path d="M365.3 274.1 L374.5 274.1" stroke="#000" stroke-width="1.5" fill="none"/>
<path d="M365.3 282.4 L374.5 282.4" stroke="#000" stroke-width="1.5" fill="none"/>
<circle cx="369.9" cy="278.2" r="3.9" fill="#000"/>
<path d="M381.8 282.9 L381.8 296.8" stroke="#000" stroke-width="1.6" fill="none"/>
<circle cx="381.8" cy="289.5" r="3.9" fill="#000"/>
<path d="M395.4 281.1 L395.4 295.7" stroke="#000" stroke-width="1.6" fill="none"/>
<circle cx="395.4" cy="288.4" r="3.9" fill="#000"/>
<path d="M408.7 294.2 L408.7 317.9" stroke="#000" stroke-width="1.6" fill="none"/>
<path d="M404.1 296.7 L413.3 296.7" stroke="#000" stroke-width="1.5" fill="none"/>
<path d="M404.1 315.7 L413.3 315.7" stroke="#000" stroke-width="1.5" fill="none"/>
<circle cx="408.7" cy="305.9" r="3.9" fill="#000"/>
</g>
<g clip-path="url(#cp12)">
<path d="M554.9 298.1 L554.9 283.3 L555.1 283.5 L555.4 283.8 L555.8 284.1 L556.2 284.5 L556.7 284.8 L557.2 285.2 L557.7 285.6 L558.2 285.9 L558.7 286.2 L559.3 286.5 L559.9 286.8 L560.5 287.1 L561.1 287.3 L561.8 287.6 L562.5 287.9 L563.3 288.1 L564.1 288.4 L564.9 288.6 L565.7 288.8 L566.5 289.0 L567.4 289.2 L568.4 289.3 L569.4 289.6 L570.4 289.8 L571.6 290.0 L572.8 290.2 L574.0 290.5 L575.4 290.7 L576.7 291.0 L578.0 291.2 L579.4 291.5 L580.7 291.7 L582.0 291.9 L583.4 292.2 L584.8 292.4 L586.1 292.7 L587.5 292.9 L588.7 293.1 L589.9 293.3 L590.9 293.5 L591.7 293.7 L592.2 293.9 L592.7 294.1 L593.0 294.3 L593.4 294.4 L593.8 294.6 L594.3 294.8 L595.0 294.9 L595.9 295.1 L596.8 295.3 L597.9 295.5 L599.0 295.7 L600.1 295.9 L601.3 296.1 L602.5 296.2 L603.7 296.4 L604.9 296.5 L606.1 296.7 L607.4 296.8 L608.7 297.0 L610.0 297.1 L611.3 297.2 L612.6 297.3 L613.8 297.4 L615.1 297.5 L616.4 297.5 L617.7 297.5 L619.0 297.6 L620.3 297.5 L621.5 297.5 L622.8 297.5 L624.0 297.4 L625.1 297.3 L626.3 297.2 L627.4 297.0 L628.5 296.9 L629.6 296.7 L630.6 296.5 L631.7 296.2 L632.7 295.9 L633.6 295.6 L634.6 295.3 L635.5 294.9 L636.5 294.5 L637.4 294.1 L638.2 293.7 L639.1 293.2 L639.9 292.8 L640.7 292.3 L641.5 291.8 L642.2 291.3 L642.9 290.8 L643.6 290.2 L644.3 289.6 L645.0 289.0 L645.7 288.4 L646.4 287.8 L647.0 287.1 L647.7 286.4 L648.4 285.6 L649.0 284.9 L649.6 284.1 L650.2 283.4 L650.8 282.6 L651.3 281.9 L651.8 281.2 L652.3 280.5 L652.7 279.8 L653.1 279.1 L653.6 278.4 L654.0 277.6 L654.4 276.8 L654.8 276.0 L655.2 275.2 L655.5 274.4 L655.9 273.5 L656.2 272.6 L656.6 271.7 L656.9 270.7 L657.3 269.6 L657.6 268.4 L658.0 267.2 L658.4 265.8 L658.7 264.5 L659.1 263.0 L659.4 261.6 L659.8 260.1 L660.1 258.7 L660.5 257.2 L660.8 255.7 L661.2 254.1 L661.5 252.6 L661.8 251.0 L662.2 249.4 L662.5 247.9 L662.8 246.4 L663.1 244.9 L663.4 243.4 L663.7 241.9 L663.9 240.5 L664.2 239.0 L664.5 237.6 L664.7 236.3 L665.0 235.0 L665.2 233.7 L665.5 232.5 L665.7 231.4 L665.9 230.3 L666.1 229.2 L666.4 228.2 L666.6 227.2 L666.7 226.2 L666.9 225.2 L667.1 224.2 L667.3 223.2 L667.4 222.2 L667.6 221.3 L667.7 220.5 L667.8 219.8 L667.9 219.3 L667.9 219.2 L681.2 219.2 L681.2 353.4 L679.0 353.4 L681.5 350.7 L681.3 350.3 L681.0 349.7 L680.7 349.0 L680.4 348.3 L680.1 347.5 L679.7 346.8 L679.4 346.2 L679.0 345.6 L678.7 345.2 L678.3 344.9 L678.0 344.6 L677.6 344.4 L677.2 344.2 L676.8 344.0 L676.5 343.7 L676.1 343.5 L675.7 343.2 L675.4 342.9 L675.0 342.6 L674.6 342.2 L674.2 341.9 L673.9 341.5 L673.5 341.1 L673.2 340.6 L672.9 340.0 L672.6 339.3 L672.3 338.5 L672.1 337.8 L671.8 337.0 L671.6 336.2 L671.3 335.4 L671.0 334.8 L670.8 334.1 L670.5 333.5 L670.3 332.9 L670.0 332.3 L669.7 331.8 L669.5 331.3 L669.2 330.8 L668.9 330.4 L668.6 330.1 L668.2 329.8 L667.9 329.6 L667.6 329.5 L667.2 329.3 L666.8 329.2 L666.4 329.1 L666.0 329.0 L665.5 328.9 L665.0 328.8 L664.5 328.7 L664.0 328.6 L663.4 328.6 L662.9 328.6 L662.3 328.5 L661.6 328.5 L661.0 328.6 L660.3 328.6 L659.6 328.7 L658.8 328.8 L658.1 328.9 L657.3 328.9 L656.6 329.0 L655.8 329.0 L655.1 328.9 L654.4 328.9 L653.7 328.9 L652.9 328.8 L652.2 328.7 L651.5 328.6 L650.8 328.4 L650.0 328.2 L649.3 328.1 L648.6 327.8 L647.9 327.6 L647.1 327.3 L646.4 327.0 L645.7 326.7 L645.0 326.4 L644.2 326.1 L643.5 325.8 L642.9 325.4 L642.2 325.1 L641.5 324.8 L640.8 324.4 L640.1 324.0 L639.3 323.6 L638.5 323.2 L637.5 322.7 L636.5 322.2 L635.4 321.6 L634.3 321.1 L633.1 320.5 L632.0 319.9 L630.9 319.4 L629.8 318.8 L628.7 318.3 L627.6 317.9 L626.5 317.4 L625.4 317.0 L624.3 316.5 L623.2 316.1 L622.2 315.7 L621.1 315.2 L620.0 314.8 L618.9 314.3 L617.8 313.9 L616.7 313.4 L615.6 313.0 L614.6 312.5 L613.5 312.0 L612.4 311.6 L611.3 311.1 L610.2 310.7 L609.1 310.2 L608.0 309.7 L606.9 309.3 L605.9 308.8 L604.8 308.4 L603.7 308.0 L602.6 307.6 L601.4 307.1 L600.2 306.7 L599.1 306.3 L597.9 306.0 L596.9 305.6 L595.9 305.3 L595.0 305.1 L594.3 304.9 L593.8 304.7 L593.4 304.7 L593.0 304.6 L592.7 304.6 L592.2 304.5 L591.7 304.4 L590.9 304.3 L589.9 304.1 L588.7 303.9 L587.5 303.7 L586.1 303.5 L584.8 303.2 L583.4 303.0 L582.0 302.8 L580.7 302.5 L579.4 302.3 L578.1 302.1 L576.8 302.0 L575.5 301.8 L574.3 301.6 L573.0 301.4 L571.7 301.2 L570.4 301.0 L569.1 300.8 L567.8 300.5 L566.4 300.3 L565.0 300.1 L563.7 299.8 L562.4 299.6 L561.3 299.4 L560.2 299.2 L559.3 299.0 L558.4 298.8 L557.6 298.7 L556.9 298.5 L556.3 298.4 L555.7 298.3 L555.3 298.2 L554.9 298.1" stroke="#ff00ff" stroke-width="1.4" fill="none" stroke-linejoin="round"/>
<path d="M667.9 219.25 H681.2" stroke="#ff00ff" stroke-width="2.0" fill="none"/>
<path d="M556.1 291.7 L556.4 291.8 L556.7 291.9 L557.1 292.1 L557.5 292.2 L558.1 292.4 L558.7 292.6 L559.4 292.8 L560.2 293.0 L561.2 293.3 L562.3 293.6 L563.6 293.8 L564.9 294.2 L566.3 294.5 L567.7 294.8 L569.1 295.1 L570.4 295.4 L571.7 295.7 L573.0 296.0 L574.3 296.2 L575.5 296.5 L576.8 296.8 L578.1 297.1 L579.4 297.4 L580.7 297.6 L582.0 297.9 L583.4 298.2 L584.8 298.5 L586.1 298.8 L587.5 299.0 L588.7 299.3 L589.9 299.5 L590.9 299.7 L591.7 299.8 L592.2 299.8 L592.7 299.8 L593.0 299.8 L593.4 299.8 L593.8 299.8 L594.3 299.9 L595.0 300.0 L595.9 300.2 L596.9 300.6 L597.9 300.9 L599.1 301.3 L600.2 301.8 L601.4 302.2 L602.6 302.6 L603.7 302.9 L604.8 303.2 L605.9 303.5 L606.9 303.8 L608.0 304.1 L609.1 304.3 L610.2 304.6 L611.3 304.8 L612.4 305.1 L613.5 305.3 L614.6 305.6 L615.6 305.8 L616.7 306.1 L617.8 306.3 L618.9 306.5 L620.0 306.8 L621.1 307.0 L622.2 307.2 L623.2 307.3 L624.3 307.5 L625.4 307.7 L626.5 307.9 L627.6 308.0 L628.7 308.1 L629.8 308.3 L630.9 308.4 L632.0 308.5 L633.1 308.5 L634.2 308.6 L635.3 308.7 L636.4 308.7 L637.4 308.7 L638.5 308.7 L639.4 308.7 L640.4 308.6 L641.3 308.6 L642.3 308.5 L643.1 308.4 L644.0 308.3 L644.9 308.1 L645.7 308.0 L646.5 307.8 L647.3 307.6 L648.0 307.4 L648.8 307.1 L649.5 306.8 L650.2 306.5 L650.8 306.2 L651.5 305.8 L652.1 305.4 L652.7 304.9 L653.2 304.5 L653.8 303.9 L654.3 303.4 L654.8 302.8 L655.3 302.1 L655.8 301.5 L656.4 300.7 L656.9 299.9 L657.5 299.0 L658.1 298.1 L658.6 297.2 L659.1 296.2 L659.7 295.2 L660.2 294.2 L660.7 293.2 L661.2 292.1 L661.6 291.1 L662.1 290.0 L662.5 288.8 L663.0 287.7 L663.4 286.6 L663.8 285.5 L664.2 284.4 L664.6 283.3 L665.0 282.3 L665.3 281.2 L665.7 280.1 L666.0 279.0 L666.4 277.9 L666.7 276.8 L667.0 275.7 L667.3 274.6 L667.6 273.5 L667.9 272.4 L668.1 271.3 L668.4 270.2 L668.6 269.2 L668.9 268.1 L669.1 267.1 L669.4 266.2 L669.6 265.3 L669.8 264.4 L670.0 263.4 L670.3 262.5 L670.5 261.5 L670.7 260.5 L670.9 259.3 L671.1 258.1 L671.4 256.9 L671.6 255.6 L671.8 254.4 L672.0 253.1 L672.2 251.9 L672.5 250.8 L672.7 249.7 L672.9 248.7 L673.1 247.7 L673.3 246.7 L673.6 245.7 L673.8 244.8 L674.0 243.8 L674.2 242.9 L674.4 242.0 L674.6 241.0 L674.9 240.1 L675.1 239.3 L675.3 238.4 L675.5 237.5 L675.7 236.7 L676.0 235.8 L676.2 235.0 L676.4 234.2 L676.6 233.4 L676.8 232.7 L677.1 231.9 L677.3 231.2 L677.5 230.4 L677.7 229.7 L677.9 229.0 L678.2 228.3 L678.4 227.6 L678.6 226.9 L678.8 226.3 L679.1 225.7 L679.3 225.0 L679.5 224.4 L679.7 223.8 L679.9 223.2 L680.1 222.5 L680.3 221.9 L680.5 221.3 L680.6 220.8 L680.8 220.4 L680.9 220.0" stroke="#ff00ff" stroke-width="1.7" fill="none" stroke-dasharray="1.7 3.17"/>
<path d="M555.1 303.3 L555.9 303.4 L556.9 303.5 L558.2 303.6 L559.6 303.8 L561.0 304.0 L562.5 304.2 L564.0 304.4 L565.3 304.6 L566.6 304.8 L567.9 305.0 L569.2 305.2 L570.4 305.4 L571.7 305.7 L573.0 305.9 L574.3 306.1 L575.5 306.3 L576.8 306.5 L578.1 306.7 L579.4 306.9 L580.7 307.1 L582.0 307.3 L583.3 307.5 L584.5 307.7 L585.8 307.9 L587.0 308.0 L588.2 308.2 L589.3 308.4 L590.5 308.6 L591.6 308.8 L592.8 309.0 L593.9 309.2 L595.0 309.4 L596.1 309.7 L597.2 309.9 L598.3 310.2 L599.4 310.5 L600.5 310.8 L601.5 311.0 L602.6 311.3 L603.7 311.6 L604.8 311.9 L605.9 312.1 L606.9 312.4 L608.0 312.7 L609.1 312.9 L610.2 313.2 L611.3 313.5 L612.4 313.8 L613.5 314.1 L614.6 314.4 L615.6 314.7 L616.7 315.0 L617.8 315.3 L618.9 315.6 L620.0 315.9 L621.1 316.2 L622.2 316.6 L623.2 316.9 L624.3 317.2 L625.4 317.6 L626.5 317.9 L627.6 318.2 L628.7 318.5 L629.8 318.8 L630.9 319.1 L632.0 319.4 L633.1 319.6 L634.3 319.8 L635.4 320.0 L636.5 320.2 L637.5 320.4 L638.5 320.6 L639.3 320.7 L640.1 320.9 L640.8 321.0 L641.5 321.1 L642.2 321.2 L642.9 321.3 L643.5 321.3 L644.2 321.3 L645.0 321.3 L645.7 321.2 L646.4 321.2 L647.1 321.1 L647.9 321.0 L648.6 320.8 L649.3 320.6 L650.0 320.3 L650.8 319.9 L651.5 319.5 L652.3 319.0 L653.0 318.5 L653.8 317.9 L654.5 317.3 L655.2 316.6 L655.8 315.9 L656.5 315.2 L657.0 314.4 L657.6 313.5 L658.1 312.6 L658.7 311.6 L659.2 310.7 L659.7 309.7 L660.2 308.7 L660.7 307.7 L661.1 306.7 L661.6 305.7 L662.0 304.6 L662.5 303.5 L662.9 302.4 L663.4 301.2 L663.8 300.0 L664.3 298.7 L664.7 297.3 L665.2 295.9 L665.7 294.4 L666.1 292.9 L666.6 291.4 L667.0 289.9 L667.4 288.4 L667.8 287.0 L668.2 285.5 L668.6 284.0 L668.9 282.5 L669.3 281.0 L669.6 279.6 L670.0 278.2 L670.3 276.8 L670.7 275.6 L671.0 274.3 L671.3 273.1 L671.6 272.0 L672.0 270.8 L672.3 269.7 L672.6 268.6 L672.9 267.5 L673.2 266.4 L673.5 265.3 L673.7 264.2 L674.0 263.2 L674.3 262.1 L674.5 261.0 L674.8 259.9 L675.1 258.7 L675.4 257.5 L675.7 256.2 L675.9 254.8 L676.2 253.5 L676.5 252.1 L676.8 250.8 L677.0 249.4 L677.3 248.1 L677.5 246.9 L677.7 245.7 L677.9 244.4 L678.1 243.2 L678.3 242.0 L678.4 240.8 L678.6 239.6 L678.8 238.5 L678.9 237.3 L679.1 236.2 L679.3 235.2 L679.4 234.1 L679.5 233.0 L679.7 231.9 L679.8 230.8 L679.9 229.7 L680.0 228.5 L680.1 227.1 L680.2 225.7 L680.3 224.3 L680.4 223.0 L680.5 221.8 L680.6 220.8 L680.6 220.0" stroke="#990000" stroke-width="3.0" fill="none" stroke-dasharray="5.3 4.3"/>
<path d="M569.4 244.3 L569.4 292.2" stroke="#000" stroke-width="1.6" fill="none"/>
<path d="M564.8 245.4 L574.0 245.4" stroke="#000" stroke-width="1.5" fill="none"/>
<path d="M564.8 290.0 L574.0 290.0" stroke="#000" stroke-width="1.5" fill="none"/>
<circle cx="569.4" cy="268.3" r="3.9" fill="#000"/>
<path d="M576.2 252.7 L576.2 271.3" stroke="#000" stroke-width="1.6" fill="none"/>
<path d="M571.6 257.1 L580.8 257.1" stroke="#000" stroke-width="1.5" fill="none"/>
<path d="M571.6 266.3 L580.8 266.3" stroke="#000" stroke-width="1.5" fill="none"/>
<circle cx="576.2" cy="261.5" r="3.9" fill="#000"/>
<path d="M588.2 275.4 L588.2 288.5" stroke="#000" stroke-width="1.6" fill="none"/>
<path d="M583.6 278.0 L592.8 278.0" stroke="#000" stroke-width="1.5" fill="none"/>
<path d="M583.6 285.6 L592.8 285.6" stroke="#000" stroke-width="1.5" fill="none"/>
<circle cx="588.2" cy="282.0" r="3.9" fill="#000"/>
<path d="M600.3 283.4 L600.3 297.0" stroke="#000" stroke-width="1.6" fill="none"/>
<path d="M595.7 286.4 L604.9 286.4" stroke="#000" stroke-width="1.5" fill="none"/>
<path d="M595.7 294.4 L604.9 294.4" stroke="#000" stroke-width="1.5" fill="none"/>
<circle cx="600.3" cy="289.7" r="3.9" fill="#000"/>
<path d="M606.5 274.2 L606.5 295.9" stroke="#000" stroke-width="1.6" fill="none"/>
<path d="M601.9 278.3 L611.1 278.3" stroke="#000" stroke-width="1.5" fill="none"/>
<path d="M601.9 291.2 L611.1 291.2" stroke="#000" stroke-width="1.5" fill="none"/>
<circle cx="606.5" cy="284.9" r="3.9" fill="#000"/>
<path d="M618.9 278.0 L618.9 298.1" stroke="#000" stroke-width="1.6" fill="none"/>
<path d="M614.3 280.2 L623.5 280.2" stroke="#000" stroke-width="1.5" fill="none"/>
<path d="M614.3 296.6 L623.5 296.6" stroke="#000" stroke-width="1.5" fill="none"/>
<circle cx="618.9" cy="287.8" r="3.9" fill="#000"/>
<path d="M627.3 315.9 L627.3 343.5" stroke="#000" stroke-width="1.6" fill="none"/>
<path d="M622.7 317.7 L631.9 317.7" stroke="#000" stroke-width="1.5" fill="none"/>
<path d="M622.7 341.7 L631.9 341.7" stroke="#000" stroke-width="1.5" fill="none"/>
<circle cx="627.3" cy="330.4" r="3.9" fill="#000"/>
</g>
<g clip-path="url(#cp20)">
<path d="M157.3 428.5 L157.3 417.6 L157.6 417.8 L158.0 418.1 L158.4 418.5 L158.9 418.9 L159.4 419.3 L160.1 419.7 L160.9 420.1 L161.7 420.5 L162.7 420.8 L163.8 421.1 L164.9 421.4 L166.2 421.7 L167.5 421.9 L168.9 422.2 L170.4 422.4 L172.0 422.7 L173.6 422.9 L175.5 423.2 L177.4 423.5 L179.4 423.7 L181.4 423.9 L183.3 424.2 L185.0 424.3 L186.6 424.4 L187.9 424.5 L189.0 424.6 L190.0 424.6 L190.9 424.5 L191.8 424.5 L192.8 424.4 L193.8 424.4 L195.0 424.3 L196.4 424.3 L197.9 424.2 L199.5 424.2 L201.1 424.1 L202.8 424.0 L204.4 423.9 L206.0 423.8 L207.5 423.7 L208.9 423.6 L210.2 423.5 L211.5 423.3 L212.8 423.2 L214.0 423.0 L215.2 422.8 L216.4 422.7 L217.5 422.5 L218.5 422.3 L219.5 422.1 L220.5 421.9 L221.4 421.6 L222.3 421.4 L223.2 421.2 L224.1 420.9 L225.0 420.6 L225.8 420.3 L226.6 419.9 L227.4 419.6 L228.2 419.2 L229.0 418.8 L229.8 418.4 L230.5 417.9 L231.2 417.5 L231.9 417.0 L232.5 416.5 L233.2 416.0 L233.8 415.4 L234.4 414.9 L235.0 414.3 L235.6 413.7 L236.2 413.1 L236.8 412.4 L237.4 411.7 L238.0 410.9 L238.6 410.1 L239.2 409.3 L239.7 408.6 L240.2 408.0 L240.6 407.5 L240.8 407.2 L240.9 407.0 L240.9 406.9 L240.9 406.9 L240.9 406.9 L240.9 406.8 L241.0 406.6 L241.2 406.2 L241.5 405.5 L241.9 404.8 L242.4 403.9 L242.9 403.0 L243.4 401.9 L243.9 400.9 L244.4 399.8 L244.9 398.7 L245.4 397.5 L245.9 396.4 L246.4 395.2 L246.8 393.9 L247.3 392.6 L247.8 391.3 L248.2 390.0 L248.7 388.7 L249.1 387.3 L249.5 386.0 L249.9 384.6 L250.3 383.1 L250.7 381.7 L251.1 380.3 L251.4 378.9 L251.8 377.5 L252.1 376.0 L252.5 374.6 L252.8 373.2 L253.1 371.8 L253.4 370.3 L253.7 368.9 L254.0 367.6 L254.3 366.2 L254.6 364.9 L254.8 363.6 L255.1 362.3 L255.3 361.0 L255.5 359.7 L255.7 358.5 L256.0 357.3 L256.2 356.2 L256.4 355.1 L256.5 354.1 L256.7 353.0 L256.9 352.0 L257.1 351.1 L257.2 350.2 L257.3 349.5 L257.4 349.0 L257.4 344.4 L270.1 344.4 L270.1 456.5 L269.6 456.4 L268.6 449.9 L266.4 443.4 L263.4 448.7 L261.2 444.3 L258.7 441.2 L258.7 441.2 L258.4 441.2 L258.0 441.3 L257.6 441.3 L257.2 441.4 L256.7 441.5 L256.1 441.6 L255.5 441.7 L254.9 441.8 L254.2 442.0 L253.5 442.2 L252.8 442.4 L251.9 442.7 L251.1 443.0 L250.3 443.2 L249.5 443.5 L248.7 443.7 L247.9 443.9 L247.1 444.1 L246.4 444.4 L245.6 444.6 L244.9 444.8 L244.1 445.0 L243.3 445.1 L242.4 445.2 L241.6 445.2 L240.6 445.2 L239.7 445.2 L238.8 445.2 L237.8 445.1 L236.8 445.0 L235.9 444.8 L234.9 444.7 L234.0 444.5 L233.1 444.3 L232.1 444.0 L231.2 443.7 L230.3 443.4 L229.3 443.1 L228.4 442.7 L227.5 442.4 L226.5 442.1 L225.7 441.9 L224.9 441.6 L224.0 441.3 L223.1 441.0 L222.2 440.7 L221.1 440.3 L220.0 439.9 L218.6 439.5 L217.2 439.1 L215.6 438.6 L214.0 438.1 L212.4 437.6 L210.7 437.1 L209.1 436.6 L207.5 436.2 L205.8 435.8 L204.1 435.4 L202.3 435.0 L200.5 434.6 L198.8 434.3 L197.3 434.0 L196.0 433.8 L195.0 433.7 L194.4 433.7 L194.2 433.9 L194.4 434.1 L194.6 434.4 L194.8 434.7 L194.9 434.9 L194.6 435.1 L193.9 435.1 L192.7 435.0 L191.2 434.9 L189.4 434.6 L187.4 434.3 L185.4 434.0 L183.3 433.6 L181.2 433.3 L179.3 432.9 L177.4 432.6 L175.4 432.3 L173.5 431.9 L171.5 431.6 L169.6 431.2 L167.8 430.9 L166.1 430.6 L164.6 430.3 L163.3 430.0 L162.1 429.8 L161.0 429.5 L160.1 429.3 L159.2 429.0 L158.5 428.8 L157.8 428.7 L157.3 428.5" stroke="#ff00ff" stroke-width="1.4" fill="none" stroke-linejoin="round"/>
<path d="M270.15 344.4 V456.5" stroke="#ff00ff" stroke-width="1.9" fill="none"/>
<path d="M158.8 424.4 L159.8 424.6 L161.1 424.8 L162.7 425.0 L164.5 425.3 L166.3 425.6 L168.3 425.8 L170.1 426.1 L172.0 426.4 L173.8 426.6 L175.7 426.8 L177.6 427.1 L179.6 427.4 L181.5 427.6 L183.3 427.8 L185.1 428.1 L186.6 428.3 L187.9 428.4 L189.0 428.6 L190.0 428.7 L190.9 428.8 L191.8 429.0 L192.8 429.1 L193.8 429.2 L195.0 429.3 L196.4 429.5 L197.8 429.7 L199.4 429.8 L201.0 430.0 L202.6 430.2 L204.3 430.3 L205.9 430.5 L207.5 430.6 L209.1 430.7 L210.7 430.8 L212.3 430.8 L213.9 430.9 L215.5 430.9 L217.0 430.9 L218.5 430.9 L220.0 431.0 L221.4 431.0 L222.7 430.9 L224.1 430.9 L225.3 430.9 L226.6 430.9 L227.8 430.8 L228.9 430.7 L229.9 430.6 L230.9 430.4 L231.8 430.2 L232.6 430.0 L233.4 429.8 L234.1 429.6 L234.8 429.3 L235.5 429.0 L236.2 428.7 L236.9 428.4 L237.5 428.1 L238.2 427.7 L238.8 427.3 L239.4 426.9 L240.0 426.5 L240.6 426.1 L241.2 425.6 L241.8 425.1 L242.5 424.5 L243.1 423.9 L243.8 423.2 L244.4 422.6 L245.0 421.9 L245.6 421.3 L246.2 420.6 L246.7 419.9 L247.2 419.2 L247.7 418.6 L248.2 417.9 L248.6 417.2 L249.1 416.4 L249.5 415.7 L249.9 415.0 L250.3 414.2 L250.8 413.4 L251.2 412.7 L251.6 411.9 L251.9 411.1 L252.3 410.3 L252.7 409.5 L253.0 408.7 L253.4 408.0 L253.8 407.3 L254.2 406.6 L254.5 405.9 L254.9 405.2 L255.1 404.5 L255.4 403.8 L255.5 403.1 L255.6 402.4 L255.5 401.8 L255.4 401.2 L255.2 400.5 L255.0 399.9 L254.9 399.1 L254.8 398.3 L254.9 397.4 L255.1 396.4 L255.4 395.2 L255.8 393.9 L256.3 392.6 L256.7 391.3 L257.2 389.9 L257.6 388.7 L258.0 387.4 L258.4 386.3 L258.7 385.2 L259.0 384.1 L259.3 383.0 L259.6 381.9 L259.9 380.9 L260.2 379.8 L260.5 378.7 L260.8 377.6 L261.2 376.5 L261.5 375.3 L261.8 374.2 L262.1 373.1 L262.4 372.0 L262.7 370.9 L263.0 370.0 L263.3 369.1 L263.5 368.2 L263.8 367.4 L264.0 366.7 L264.2 366.0 L264.4 365.2 L264.7 364.5 L264.9 363.7 L265.1 362.9 L265.4 362.2 L265.6 361.4 L265.8 360.6 L266.1 359.8 L266.3 359.0 L266.5 358.3 L266.8 357.5 L267.0 356.7 L267.3 355.8 L267.6 354.9 L267.8 354.0 L268.1 353.1 L268.3 352.4 L268.5 351.7 L268.6 351.2" stroke="#ff00ff" stroke-width="1.7" fill="none" stroke-dasharray="1.7 3.17"/>
<path d="M157.3 431.5 L158.4 431.6 L159.9 431.9 L161.7 432.1 L163.7 432.4 L165.8 432.8 L168.0 433.1 L170.0 433.4 L172.0 433.7 L173.8 434.0 L175.8 434.3 L177.7 434.6 L179.7 434.9 L181.6 435.2 L183.4 435.4 L185.1 435.7 L186.6 435.9 L187.9 436.0 L189.0 436.0 L190.0 436.0 L190.9 436.0 L191.8 436.0 L192.8 436.0 L193.8 436.1 L195.0 436.2 L196.4 436.4 L197.8 436.7 L199.4 437.0 L201.0 437.3 L202.6 437.7 L204.3 438.1 L205.9 438.4 L207.5 438.7 L209.1 439.0 L210.7 439.2 L212.4 439.5 L214.0 439.7 L215.6 440.0 L217.2 440.2 L218.6 440.4 L220.0 440.6 L221.1 440.7 L222.2 440.9 L223.2 441.1 L224.1 441.2 L225.0 441.3 L225.8 441.4 L226.6 441.5 L227.5 441.6 L228.3 441.6 L229.1 441.6 L229.9 441.6 L230.7 441.6 L231.5 441.5 L232.2 441.4 L233.0 441.3 L233.7 441.2 L234.4 441.0 L235.0 440.9 L235.7 440.7 L236.3 440.5 L236.9 440.3 L237.5 440.0 L238.1 439.7 L238.7 439.3 L239.3 438.8 L240.0 438.3 L240.6 437.7 L241.3 437.1 L241.9 436.4 L242.5 435.7 L243.1 435.0 L243.7 434.3 L244.2 433.7 L244.7 433.0 L245.2 432.3 L245.6 431.6 L246.1 430.9 L246.5 430.2 L247.0 429.5 L247.4 428.7 L247.9 427.9 L248.4 427.1 L248.9 426.3 L249.3 425.4 L249.8 424.6 L250.3 423.7 L250.7 422.8 L251.2 421.8 L251.6 420.9 L252.0 419.9 L252.4 418.9 L252.8 417.8 L253.2 416.8 L253.6 415.7 L253.9 414.7 L254.3 413.7 L254.6 412.7 L255.0 411.7 L255.4 410.7 L255.7 409.6 L256.0 408.7 L256.3 407.8 L256.6 406.9 L256.8 406.2 L256.9 405.7 L257.0 405.4 L257.0 405.2 L257.1 405.1 L257.1 405.0 L257.1 404.7 L257.2 404.3 L257.4 403.7 L257.7 402.8 L258.0 401.7 L258.4 400.5 L258.8 399.1 L259.3 397.7 L259.7 396.3 L260.1 395.0 L260.5 393.7 L260.9 392.4 L261.2 391.2 L261.5 389.9 L261.8 388.7 L262.1 387.4 L262.4 386.2 L262.7 384.9 L263.0 383.7 L263.3 382.4 L263.7 381.2 L264.0 379.9 L264.3 378.7 L264.6 377.5 L264.9 376.2 L265.2 375.0 L265.5 373.7 L265.8 372.5 L266.0 371.2 L266.3 369.9 L266.5 368.6 L266.8 367.4 L267.0 366.1 L267.2 364.9 L267.4 363.7 L267.6 362.5 L267.8 361.4 L267.9 360.2 L268.1 359.0 L268.2 357.9 L268.4 356.9 L268.5 355.9 L268.6 355.0 L268.8 354.1 L268.9 353.4 L269.1 352.6 L269.2 351.9 L269.3 351.3 L269.5 350.8 L269.6 350.4 L269.6 350.0" stroke="#990000" stroke-width="3.0" fill="none" stroke-dasharray="5.3 4.3"/>
<path d="M176.6 416.1 L176.6 432.9" stroke="#000" stroke-width="1.6" fill="none"/>
<path d="M172.0 419.5 L181.2 419.5" stroke="#000" stroke-width="1.5" fill="none"/>
<path d="M172.0 429.7 L181.2 429.7" stroke="#000" stroke-width="1.5" fill="none"/>
<circle cx="176.6" cy="424.4" r="3.9" fill="#000"/>
<path d="M184.8 395.2 L184.8 411.0" stroke="#000" stroke-width="1.6" fill="none"/>
<path d="M180.2 398.2 L189.4 398.2" stroke="#000" stroke-width="1.5" fill="none"/>
<path d="M180.2 407.6 L189.4 407.6" stroke="#000" stroke-width="1.5" fill="none"/>
<circle cx="184.8" cy="402.9" r="3.9" fill="#000"/>
<path d="M195.1 405.1 L195.1 419.8" stroke="#000" stroke-width="1.6" fill="none"/>
<path d="M190.5 408.3 L199.7 408.3" stroke="#000" stroke-width="1.5" fill="none"/>
<path d="M190.5 416.5 L199.7 416.5" stroke="#000" stroke-width="1.5" fill="none"/>
<circle cx="195.1" cy="412.4" r="3.9" fill="#000"/>
<path d="M205.2 419.5 L205.2 433.2" stroke="#000" stroke-width="1.6" fill="none"/>
<path d="M200.6 422.7 L209.8 422.7" stroke="#000" stroke-width="1.5" fill="none"/>
<path d="M200.6 430.3 L209.8 430.3" stroke="#000" stroke-width="1.5" fill="none"/>
<circle cx="205.2" cy="426.4" r="3.9" fill="#000"/>
<path d="M215.7 407.8 L215.7 428.5" stroke="#000" stroke-width="1.6" fill="none"/>
<path d="M211.1 409.2 L220.3 409.2" stroke="#000" stroke-width="1.5" fill="none"/>
<path d="M211.1 426.8 L220.3 426.8" stroke="#000" stroke-width="1.5" fill="none"/>
<circle cx="215.7" cy="417.9" r="3.9" fill="#000"/>
<path d="M229.8 422.4 L229.8 453.4" stroke="#000" stroke-width="1.6" fill="none"/>
<path d="M225.2 423.9 L234.4 423.9" stroke="#000" stroke-width="1.5" fill="none"/>
<path d="M225.2 452.0 L234.4 452.0" stroke="#000" stroke-width="1.5" fill="none"/>
<circle cx="229.8" cy="437.6" r="3.9" fill="#000"/>
</g>
<g clip-path="url(#cp21)">
<path d="M378.1 429.9 L378.1 421.5 L378.8 421.6 L379.5 421.7 L380.4 421.9 L381.5 422.0 L382.6 422.2 L383.9 422.3 L385.2 422.5 L386.6 422.6 L388.2 422.7 L389.9 422.8 L391.8 422.8 L393.8 422.9 L395.7 423.0 L397.7 423.0 L399.5 423.0 L401.3 423.0 L402.9 422.9 L404.4 422.9 L405.9 422.7 L407.4 422.6 L408.8 422.4 L410.2 422.2 L411.6 422.0 L413.0 421.8 L414.4 421.6 L415.7 421.4 L417.1 421.1 L418.4 420.9 L419.7 420.6 L420.9 420.3 L422.1 420.0 L423.2 419.6 L424.3 419.3 L425.3 419.0 L426.3 418.6 L427.2 418.3 L428.0 417.9 L428.9 417.5 L429.7 417.1 L430.5 416.7 L431.3 416.3 L432.1 415.9 L432.9 415.5 L433.6 415.1 L434.3 414.6 L435.0 414.1 L435.7 413.6 L436.4 413.1 L437.1 412.4 L437.9 411.7 L438.7 411.0 L439.4 410.3 L440.2 409.5 L440.9 408.7 L441.6 407.9 L442.3 407.2 L442.9 406.4 L443.6 405.5 L444.2 404.6 L444.8 403.7 L445.4 402.9 L445.9 402.2 L446.3 401.7 L446.6 401.3 L446.9 401.3 L446.9 401.6 L446.9 402.1 L446.8 402.7 L446.8 403.3 L446.7 403.8 L446.8 404.0 L447.0 403.9 L447.3 403.5 L447.8 402.8 L448.3 402.0 L448.9 401.0 L449.5 400.0 L450.1 398.9 L450.6 397.8 L451.1 396.7 L451.6 395.6 L452.1 394.5 L452.6 393.4 L453.0 392.2 L453.5 391.0 L453.9 389.8 L454.3 388.6 L454.7 387.4 L455.1 386.2 L455.5 385.1 L455.8 383.9 L456.1 382.7 L456.4 381.6 L456.7 380.4 L457.0 379.3 L457.3 378.1 L457.6 376.9 L457.9 375.8 L458.1 374.7 L458.4 373.5 L458.6 372.4 L458.9 371.2 L459.1 370.0 L459.4 368.8 L459.7 367.6 L459.9 366.3 L460.2 365.0 L460.5 363.7 L460.7 362.4 L461.0 361.1 L461.2 359.8 L461.5 358.5 L461.7 357.2 L461.9 355.8 L462.1 354.3 L462.4 352.9 L462.6 351.6 L462.7 350.4 L462.9 349.4 L463.0 348.7 L463.0 348.4 L475.8 348.4 L475.8 431.5 L475.9 431.5 L474.3 429.3 L472.8 427.1 L471.4 428.5 L469.2 431.5 L467.0 430.0 L464.8 428.5 L464.8 428.5 L464.5 428.6 L464.2 428.8 L463.8 428.9 L463.3 429.1 L462.8 429.3 L462.3 429.5 L461.7 429.7 L461.1 430.0 L460.5 430.3 L459.8 430.6 L459.1 431.0 L458.3 431.4 L457.5 431.8 L456.8 432.2 L456.0 432.6 L455.3 432.9 L454.5 433.3 L453.8 433.7 L453.1 434.1 L452.3 434.6 L451.6 435.0 L450.9 435.3 L450.1 435.6 L449.4 435.9 L448.7 436.0 L448.0 436.1 L447.3 436.2 L446.7 436.2 L446.0 436.2 L445.3 436.2 L444.5 436.2 L443.7 436.2 L442.9 436.2 L442.0 436.2 L441.2 436.3 L440.3 436.3 L439.3 436.3 L438.4 436.3 L437.4 436.3 L436.4 436.2 L435.4 436.1 L434.4 435.9 L433.3 435.7 L432.3 435.5 L431.2 435.3 L430.1 435.1 L428.9 434.9 L427.6 434.7 L426.3 434.5 L425.0 434.4 L423.6 434.2 L422.1 434.0 L420.6 433.8 L419.1 433.6 L417.5 433.4 L415.9 433.3 L414.2 433.1 L412.5 432.9 L410.6 432.7 L408.8 432.5 L406.9 432.3 L405.0 432.1 L403.1 432.0 L401.3 431.8 L399.4 431.6 L397.5 431.5 L395.5 431.3 L393.6 431.2 L391.7 431.0 L389.9 430.9 L388.2 430.7 L386.6 430.6 L385.2 430.5 L383.9 430.4 L382.6 430.3 L381.5 430.2 L380.4 430.1 L379.5 430.0 L378.8 429.9 L378.1 429.9" stroke="#ff00ff" stroke-width="1.4" fill="none" stroke-linejoin="round"/>
<path d="M463.0 348.40 H475.8" stroke="#ff00ff" stroke-width="2.0" fill="none"/>
<path d="M380.8 426.5 L381.8 426.6 L383.1 426.6 L384.7 426.7 L386.5 426.7 L388.3 426.8 L390.3 426.9 L392.1 426.9 L394.0 427.0 L395.7 427.0 L397.6 427.1 L399.5 427.1 L401.4 427.2 L403.3 427.2 L405.1 427.2 L406.9 427.2 L408.6 427.3 L410.2 427.3 L411.8 427.2 L413.3 427.2 L414.7 427.2 L416.1 427.2 L417.5 427.1 L418.9 427.0 L420.3 427.0 L421.7 426.9 L423.0 426.8 L424.4 426.7 L425.7 426.5 L427.0 426.4 L428.2 426.3 L429.4 426.1 L430.5 425.9 L431.6 425.8 L432.6 425.6 L433.5 425.4 L434.4 425.2 L435.3 425.0 L436.1 424.7 L437.0 424.4 L437.9 424.0 L438.8 423.6 L439.7 423.2 L440.7 422.7 L441.6 422.1 L442.5 421.6 L443.5 421.0 L444.3 420.3 L445.2 419.6 L446.0 418.9 L446.8 418.2 L447.6 417.4 L448.3 416.5 L449.0 415.7 L449.7 414.8 L450.4 413.9 L451.0 413.1 L451.7 412.2 L452.3 411.2 L452.9 410.2 L453.4 409.2 L454.0 408.3 L454.5 407.3 L455.0 406.5 L455.4 405.7 L455.9 405.1 L456.3 404.6 L456.6 404.2 L457.0 403.9 L457.3 403.5 L457.7 403.0 L458.0 402.5 L458.4 401.8 L458.7 401.0 L459.1 400.1 L459.5 399.1 L459.9 398.0 L460.3 396.9 L460.7 395.8 L461.1 394.7 L461.5 393.6 L461.8 392.6 L462.1 391.5 L462.5 390.5 L462.8 389.5 L463.1 388.5 L463.4 387.5 L463.7 386.4 L464.0 385.3 L464.4 384.2 L464.7 383.0 L465.0 381.8 L465.4 380.6 L465.7 379.4 L466.0 378.2 L466.3 377.1 L466.6 376.0 L466.9 375.0 L467.2 374.1 L467.4 373.2 L467.7 372.3 L467.9 371.4 L468.2 370.6 L468.4 369.7 L468.7 368.8 L468.9 367.9 L469.2 367.0 L469.5 366.1 L469.7 365.1 L470.0 364.2 L470.2 363.3 L470.5 362.4 L470.8 361.6 L471.0 360.8 L471.3 360.0 L471.5 359.2 L471.8 358.4 L472.1 357.6 L472.3 356.9 L472.6 356.1 L472.8 355.4 L473.1 354.6 L473.3 353.8 L473.6 353.0 L473.8 352.2 L474.1 351.4 L474.3 350.7 L474.4 350.1 L474.6 349.7" stroke="#ff00ff" stroke-width="1.7" fill="none" stroke-dasharray="1.7 3.17"/>
<path d="M378.6 432.1 L379.8 432.1 L381.4 432.1 L383.3 432.1 L385.4 432.2 L387.6 432.2 L389.8 432.3 L392.0 432.3 L394.0 432.4 L395.8 432.5 L397.7 432.6 L399.5 432.7 L401.3 432.8 L403.1 432.9 L405.0 433.0 L406.8 433.1 L408.6 433.3 L410.5 433.4 L412.4 433.5 L414.3 433.7 L416.2 433.8 L418.1 434.0 L419.9 434.1 L421.6 434.2 L423.2 434.3 L424.7 434.3 L426.2 434.4 L427.5 434.4 L428.8 434.4 L430.0 434.4 L431.2 434.4 L432.4 434.4 L433.5 434.3 L434.5 434.2 L435.5 434.1 L436.5 433.9 L437.4 433.8 L438.3 433.6 L439.1 433.4 L440.0 433.1 L440.8 432.8 L441.6 432.5 L442.4 432.1 L443.1 431.8 L443.8 431.4 L444.5 430.9 L445.2 430.4 L445.9 429.8 L446.6 429.2 L447.4 428.4 L448.1 427.6 L448.9 426.7 L449.7 425.8 L450.4 424.9 L451.1 423.9 L451.8 422.8 L452.5 421.8 L453.1 420.8 L453.7 419.7 L454.3 418.6 L454.8 417.4 L455.4 416.3 L455.9 415.2 L456.4 414.1 L456.9 413.1 L457.4 412.1 L457.8 411.2 L458.3 410.4 L458.7 409.5 L459.2 408.7 L459.6 407.9 L460.0 407.0 L460.4 406.0 L460.8 404.9 L461.2 403.8 L461.6 402.7 L462.0 401.5 L462.4 400.3 L462.8 399.1 L463.1 397.9 L463.5 396.7 L463.9 395.4 L464.3 394.2 L464.7 392.8 L465.1 391.5 L465.5 390.2 L465.9 388.9 L466.3 387.6 L466.6 386.4 L467.0 385.2 L467.3 384.0 L467.6 382.8 L467.9 381.7 L468.3 380.5 L468.6 379.4 L468.9 378.2 L469.2 377.1 L469.5 375.9 L469.9 374.7 L470.2 373.6 L470.5 372.4 L470.9 371.3 L471.2 370.1 L471.5 368.9 L471.8 367.8 L472.1 366.6 L472.4 365.4 L472.6 364.2 L472.9 363.0 L473.2 361.9 L473.4 360.7 L473.6 359.6 L473.8 358.5 L474.1 357.4 L474.2 356.3 L474.4 355.1 L474.6 354.0 L474.7 353.0 L474.9 352.1 L475.0 351.3 L475.1 350.7" stroke="#990000" stroke-width="3.0" fill="none" stroke-dasharray="5.3 4.3"/>
<path d="M390.6 395.9 L390.6 418.2" stroke="#000" stroke-width="1.6" fill="none"/>
<path d="M386.0 400.2 L395.2 400.2" stroke="#000" stroke-width="1.5" fill="none"/>
<path d="M386.0 413.8 L395.2 413.8" stroke="#000" stroke-width="1.5" fill="none"/>
<circle cx="390.6" cy="406.8" r="3.9" fill="#000"/>
<path d="M400.8 431.4 L400.8 492.1" stroke="#000" stroke-width="1.6" fill="none"/>
<path d="M396.2 432.1 L405.4 432.1" stroke="#000" stroke-width="1.5" fill="none"/>
<circle cx="400.8" cy="455.9" r="3.9" fill="#000"/>
<path d="M413.1 418.9 L413.1 438.2" stroke="#000" stroke-width="1.6" fill="none"/>
<path d="M408.5 423.0 L417.7 423.0" stroke="#000" stroke-width="1.5" fill="none"/>
<path d="M408.5 434.3 L417.7 434.3" stroke="#000" stroke-width="1.5" fill="none"/>
<circle cx="413.1" cy="428.4" r="3.9" fill="#000"/>
<path d="M426.4 422.6 L426.4 442.0" stroke="#000" stroke-width="1.6" fill="none"/>
<path d="M421.8 426.5 L431.0 426.5" stroke="#000" stroke-width="1.5" fill="none"/>
<path d="M421.8 438.7 L431.0 438.7" stroke="#000" stroke-width="1.5" fill="none"/>
<circle cx="426.4" cy="432.1" r="3.9" fill="#000"/>
<path d="M446.9 421.2 L446.9 469.5" stroke="#000" stroke-width="1.6" fill="none"/>
<path d="M442.3 421.7 L451.5 421.7" stroke="#000" stroke-width="1.5" fill="none"/>
<path d="M442.3 469.1 L451.5 469.1" stroke="#000" stroke-width="1.5" fill="none"/>
<circle cx="446.9" cy="445.4" r="3.9" fill="#000"/>
</g>
<g clip-path="url(#cp22)">
<path d="M595.5 429.8 L595.5 422.4 L596.2 422.4 L597.0 422.4 L597.9 422.4 L599.0 422.4 L600.2 422.4 L601.4 422.3 L602.6 422.3 L603.9 422.2 L605.1 422.0 L606.4 421.9 L607.8 421.7 L609.2 421.5 L610.7 421.3 L612.1 421.0 L613.6 420.8 L615.0 420.5 L616.4 420.2 L617.8 419.9 L619.2 419.6 L620.6 419.2 L622.0 418.8 L623.4 418.5 L624.7 418.1 L626.1 417.7 L627.4 417.3 L628.6 417.0 L629.9 416.6 L631.1 416.2 L632.3 415.8 L633.5 415.4 L634.6 415.0 L635.8 414.5 L636.9 414.1 L638.0 413.6 L639.1 413.1 L640.2 412.6 L641.2 412.0 L642.2 411.5 L643.2 410.9 L644.1 410.4 L644.9 409.8 L645.7 409.2 L646.4 408.7 L647.1 408.1 L647.7 407.5 L648.4 406.8 L649.0 406.2 L649.6 405.5 L650.3 404.8 L650.9 404.1 L651.6 403.3 L652.2 402.5 L652.8 401.7 L653.4 400.9 L654.0 400.1 L654.5 399.3 L655.0 398.6 L655.4 397.9 L655.8 397.3 L656.2 396.7 L656.6 396.0 L657.0 395.2 L657.5 394.3 L658.0 393.0 L658.5 391.5 L659.1 389.7 L659.8 387.6 L660.5 385.5 L661.2 383.3 L661.8 381.2 L662.4 379.3 L662.9 377.5 L663.4 376.0 L663.8 374.7 L664.2 373.5 L664.5 372.3 L664.8 371.2 L665.1 370.1 L665.4 369.0 L665.7 367.9 L666.0 366.8 L666.3 365.7 L666.6 364.6 L666.8 363.5 L667.1 362.4 L667.3 361.4 L667.5 360.2 L667.8 359.1 L668.0 357.8 L668.2 356.4 L668.5 354.9 L668.7 353.4 L668.9 351.9 L669.1 350.7 L669.2 349.6 L669.4 348.8 L669.4 348.4 L681.2 348.4 L681.2 419.4 L681.3 419.4 L680.2 420.8 L678.8 420.1 L677.1 421.5 L676.0 424.2 L674.6 422.9 L672.5 422.2 L672.5 422.2 L672.3 422.2 L671.9 422.2 L671.6 422.3 L671.1 422.3 L670.7 422.4 L670.2 422.5 L669.6 422.7 L669.1 422.9 L668.5 423.1 L667.8 423.4 L667.1 423.7 L666.4 424.1 L665.7 424.5 L664.9 424.9 L664.2 425.3 L663.5 425.6 L662.8 426.0 L662.2 426.3 L661.5 426.7 L660.8 427.1 L660.1 427.4 L659.4 427.8 L658.7 428.1 L658.0 428.4 L657.2 428.7 L656.4 429.0 L655.5 429.3 L654.7 429.6 L653.8 429.8 L652.9 430.1 L652.0 430.3 L651.0 430.5 L650.1 430.6 L649.1 430.8 L648.1 430.9 L647.1 431.0 L646.1 431.0 L645.0 431.1 L643.9 431.1 L642.7 431.2 L641.5 431.2 L640.2 431.2 L638.9 431.1 L637.5 431.1 L636.1 431.1 L634.6 431.0 L633.1 430.9 L631.6 430.9 L630.0 430.8 L628.3 430.8 L626.6 430.7 L624.8 430.7 L623.1 430.6 L621.3 430.6 L619.5 430.5 L617.7 430.5 L616.0 430.4 L614.1 430.4 L612.3 430.4 L610.5 430.3 L608.7 430.3 L606.9 430.3 L605.3 430.2 L603.9 430.2 L602.5 430.2 L601.2 430.1 L600.0 430.0 L598.8 430.0 L597.8 429.9 L596.9 429.9 L596.2 429.8 L595.5 429.8" stroke="#ff00ff" stroke-width="1.4" fill="none" stroke-linejoin="round"/>
<path d="M669.4 348.40 H681.2" stroke="#ff00ff" stroke-width="2.0" fill="none"/>
<path d="M598.3 426.0 L599.3 426.0 L600.5 426.0 L602.0 426.0 L603.7 425.9 L605.5 425.9 L607.3 425.8 L609.1 425.7 L610.8 425.6 L612.5 425.5 L614.2 425.4 L616.0 425.2 L617.8 425.0 L619.6 424.9 L621.4 424.7 L623.1 424.5 L624.7 424.2 L626.2 424.0 L627.7 423.8 L629.1 423.5 L630.5 423.3 L631.8 423.0 L633.2 422.7 L634.5 422.5 L635.8 422.2 L637.1 421.8 L638.4 421.5 L639.6 421.2 L640.9 420.9 L642.1 420.5 L643.3 420.1 L644.4 419.8 L645.5 419.4 L646.5 419.0 L647.4 418.6 L648.3 418.2 L649.2 417.8 L650.0 417.3 L650.8 416.9 L651.6 416.4 L652.4 415.9 L653.2 415.4 L653.9 414.8 L654.7 414.3 L655.4 413.7 L656.0 413.0 L656.7 412.4 L657.3 411.7 L658.0 411.1 L658.6 410.4 L659.1 409.6 L659.7 408.9 L660.2 408.1 L660.7 407.3 L661.2 406.5 L661.6 405.6 L662.1 404.8 L662.6 404.1 L663.0 403.4 L663.4 402.8 L663.8 402.2 L664.2 401.4 L664.6 400.5 L665.1 399.4 L665.6 397.9 L666.2 396.0 L667.0 393.6 L667.8 390.9 L668.6 388.1 L669.4 385.3 L670.1 382.7 L670.8 380.3 L671.4 378.3 L671.8 376.8 L672.1 375.6 L672.4 374.7 L672.6 373.9 L672.8 373.2 L673.0 372.6 L673.2 371.9 L673.4 371.1 L673.6 370.3 L673.8 369.4 L674.0 368.6 L674.2 367.8 L674.4 367.1 L674.6 366.3 L674.8 365.5 L675.0 364.7 L675.2 363.9 L675.5 363.1 L675.7 362.2 L676.0 361.4 L676.2 360.6 L676.5 359.8 L676.8 359.0 L677.0 358.3 L677.2 357.5 L677.4 356.8 L677.6 356.0 L677.8 355.3 L678.0 354.6 L678.2 353.9 L678.4 353.2 L678.6 352.6 L678.8 352.1 L679.0 351.5 L679.2 351.0 L679.4 350.5 L679.6 350.0 L679.7 349.6 L679.9 349.3 L680.0 349.0" stroke="#ff00ff" stroke-width="1.7" fill="none" stroke-dasharray="1.7 3.17"/>
<path d="M595.8 431.6 L597.0 431.6 L598.5 431.5 L600.4 431.4 L602.4 431.4 L604.6 431.3 L606.8 431.3 L608.9 431.2 L610.8 431.2 L612.6 431.2 L614.4 431.2 L616.2 431.2 L618.0 431.2 L619.7 431.2 L621.4 431.2 L623.1 431.2 L624.7 431.2 L626.2 431.1 L627.7 431.1 L629.1 431.0 L630.5 431.0 L631.8 430.9 L633.2 430.8 L634.5 430.6 L635.8 430.5 L637.1 430.3 L638.4 430.1 L639.7 429.9 L641.0 429.6 L642.2 429.3 L643.4 429.0 L644.5 428.7 L645.5 428.4 L646.4 428.0 L647.2 427.7 L647.9 427.3 L648.5 426.9 L649.1 426.5 L649.7 426.0 L650.4 425.5 L651.0 424.9 L651.7 424.3 L652.4 423.6 L653.2 422.8 L653.9 422.0 L654.6 421.2 L655.3 420.4 L655.9 419.5 L656.6 418.7 L657.2 417.9 L657.7 417.1 L658.2 416.2 L658.7 415.4 L659.2 414.5 L659.7 413.7 L660.2 412.7 L660.7 411.8 L661.2 410.8 L661.7 409.9 L662.1 409.1 L662.5 408.1 L663.0 407.1 L663.6 405.9 L664.2 404.5 L664.9 402.7 L665.8 400.6 L666.8 398.0 L668.0 395.2 L669.2 392.2 L670.4 389.2 L671.6 386.4 L672.6 383.8 L673.4 381.6 L674.0 379.7 L674.5 378.2 L674.9 376.8 L675.2 375.6 L675.4 374.5 L675.6 373.4 L675.9 372.3 L676.2 371.1 L676.5 369.9 L676.8 368.6 L677.2 367.4 L677.5 366.2 L677.8 365.1 L678.1 363.9 L678.3 362.7 L678.6 361.5 L678.8 360.2 L679.1 358.9 L679.3 357.6 L679.5 356.2 L679.7 354.9 L679.9 353.8 L680.1 352.7 L680.2 351.8 L680.3 351.1 L680.4 350.6 L680.5 350.2 L680.6 349.8 L680.7 349.6 L680.8 349.4 L680.8 349.2 L680.8 349.0" stroke="#990000" stroke-width="3.0" fill="none" stroke-dasharray="5.3 4.3"/>
<path d="M616.6 427.7 L616.6 443.7" stroke="#000" stroke-width="1.6" fill="none"/>
<path d="M612.0 430.5 L621.2 430.5" stroke="#000" stroke-width="1.5" fill="none"/>
<path d="M612.0 440.5 L621.2 440.5" stroke="#000" stroke-width="1.5" fill="none"/>
<circle cx="616.6" cy="435.6" r="3.9" fill="#000"/>
<path d="M638.1 391.4 L638.1 413.6" stroke="#000" stroke-width="1.6" fill="none"/>
<path d="M633.5 395.5 L642.7 395.5" stroke="#000" stroke-width="1.5" fill="none"/>
<path d="M633.5 409.4 L642.7 409.4" stroke="#000" stroke-width="1.5" fill="none"/>
<circle cx="638.1" cy="402.5" r="3.9" fill="#000"/>
</g>
<g clip-path="url(#cp30)">
<path d="M196.6 558.5 L196.6 550.9 L197.2 550.7 L198.0 550.5 L199.0 550.3 L200.1 550.0 L201.3 549.7 L202.4 549.4 L203.6 549.1 L204.6 548.8 L205.7 548.5 L206.7 548.3 L207.7 548.0 L208.8 547.7 L209.8 547.4 L210.9 547.1 L211.9 546.8 L213.0 546.5 L214.0 546.1 L215.0 545.8 L216.1 545.4 L217.1 545.0 L218.2 544.6 L219.2 544.2 L220.2 543.8 L221.3 543.3 L222.3 542.8 L223.4 542.2 L224.5 541.6 L225.5 541.0 L226.6 540.4 L227.6 539.8 L228.6 539.1 L229.6 538.4 L230.6 537.7 L231.5 537.0 L232.4 536.2 L233.2 535.4 L234.1 534.6 L234.9 533.8 L235.8 533.0 L236.5 532.2 L237.3 531.3 L238.1 530.5 L238.8 529.7 L239.5 528.8 L240.2 527.9 L240.8 527.0 L241.5 526.1 L242.1 525.2 L242.7 524.3 L243.2 523.4 L243.8 522.5 L244.3 521.5 L244.8 520.6 L245.3 519.6 L245.8 518.6 L246.3 517.6 L246.7 516.6 L247.2 515.6 L247.6 514.5 L248.1 513.5 L248.5 512.4 L248.9 511.4 L249.3 510.3 L249.7 509.3 L250.1 508.2 L250.5 507.2 L250.8 506.2 L251.2 505.1 L251.5 504.1 L251.8 503.0 L252.2 502.0 L252.5 501.0 L252.8 499.9 L253.1 498.9 L253.4 497.8 L253.7 496.8 L254.0 495.8 L254.3 494.7 L254.6 493.7 L254.9 492.6 L255.1 491.6 L255.4 490.5 L255.6 489.4 L255.8 488.4 L256.1 487.3 L256.3 486.3 L256.5 485.3 L256.7 484.3 L256.8 483.4 L257.0 482.4 L257.2 481.4 L257.3 480.5 L257.5 479.6 L257.6 478.8 L257.7 478.2 L257.8 477.7 L257.8 473.6 L270.1 473.6 L270.1 541.9 L269.6 541.9 L266.4 542.3 L265.0 544.7 L263.6 546.0 L261.5 544.9 L261.5 544.9 L261.2 545.0 L260.8 545.0 L260.3 545.0 L259.7 545.0 L259.1 545.1 L258.5 545.1 L257.9 545.2 L257.3 545.3 L256.8 545.5 L256.2 545.7 L255.6 546.0 L255.0 546.2 L254.3 546.5 L253.7 546.8 L253.1 547.1 L252.5 547.4 L251.9 547.7 L251.3 548.1 L250.7 548.4 L250.1 548.8 L249.5 549.1 L248.9 549.5 L248.3 549.9 L247.6 550.2 L247.0 550.6 L246.3 550.9 L245.7 551.3 L245.0 551.6 L244.3 552.0 L243.6 552.3 L242.9 552.6 L242.1 553.0 L241.3 553.3 L240.5 553.6 L239.7 553.9 L238.8 554.3 L237.9 554.6 L237.0 554.8 L236.1 555.1 L235.2 555.3 L234.2 555.5 L233.2 555.7 L232.3 555.8 L231.3 556.0 L230.2 556.1 L229.1 556.2 L228.0 556.3 L226.8 556.4 L225.6 556.6 L224.3 556.7 L222.9 556.8 L221.5 557.0 L220.0 557.1 L218.6 557.2 L217.1 557.3 L215.7 557.4 L214.3 557.5 L212.9 557.6 L211.4 557.7 L210.0 557.8 L208.6 557.9 L207.2 558.0 L205.9 558.0 L204.6 558.1 L203.4 558.2 L202.2 558.2 L201.0 558.3 L199.9 558.4 L198.9 558.4 L198.0 558.5 L197.2 558.5 L196.6 558.5" stroke="#ff00ff" stroke-width="1.4" fill="none" stroke-linejoin="round"/>
<path d="M270.15 473.6 V541.9" stroke="#ff00ff" stroke-width="1.9" fill="none"/>
<path d="M198.4 554.8 L199.2 554.6 L200.3 554.5 L201.5 554.3 L202.9 554.1 L204.4 553.8 L205.9 553.5 L207.4 553.3 L208.8 553.0 L210.2 552.7 L211.6 552.4 L213.0 552.0 L214.4 551.7 L215.8 551.3 L217.2 551.0 L218.6 550.6 L219.9 550.2 L221.2 549.8 L222.5 549.4 L223.7 549.0 L224.9 548.6 L226.1 548.2 L227.3 547.7 L228.5 547.2 L229.6 546.7 L230.7 546.2 L231.8 545.7 L232.9 545.1 L233.9 544.5 L235.0 543.9 L236.0 543.3 L237.0 542.6 L237.9 541.9 L238.9 541.1 L239.8 540.3 L240.7 539.5 L241.6 538.6 L242.4 537.7 L243.3 536.8 L244.1 535.9 L244.9 534.9 L245.6 534.0 L246.4 533.0 L247.1 532.0 L247.8 530.9 L248.5 529.9 L249.2 528.8 L249.8 527.7 L250.4 526.6 L251.0 525.5 L251.6 524.4 L252.1 523.3 L252.6 522.2 L253.1 521.0 L253.6 519.9 L254.1 518.7 L254.6 517.6 L255.0 516.5 L255.5 515.4 L256.0 514.2 L256.4 513.1 L256.8 512.0 L257.2 510.8 L257.6 509.7 L258.0 508.6 L258.4 507.5 L258.8 506.3 L259.1 505.2 L259.5 504.0 L259.8 502.9 L260.1 501.8 L260.5 500.7 L260.8 499.6 L261.2 498.5 L261.5 497.4 L261.9 496.3 L262.2 495.3 L262.6 494.2 L262.9 493.2 L263.3 492.2 L263.6 491.3 L263.9 490.3 L264.2 489.4 L264.4 488.5 L264.7 487.6 L265.0 486.7 L265.2 485.9 L265.4 485.1 L265.7 484.3 L265.9 483.6 L266.2 482.8 L266.4 482.1 L266.6 481.5 L266.9 480.8 L267.0 480.3 L267.2 479.8 L267.3 479.5" stroke="#ff00ff" stroke-width="1.7" fill="none" stroke-dasharray="1.7 3.17"/>
<path d="M197.0 559.9 L197.7 559.8 L198.6 559.7 L199.7 559.6 L200.9 559.5 L202.2 559.4 L203.5 559.2 L204.8 559.1 L206.0 558.9 L207.2 558.8 L208.4 558.7 L209.6 558.5 L210.8 558.4 L212.1 558.3 L213.3 558.1 L214.5 558.0 L215.7 557.8 L217.0 557.7 L218.2 557.5 L219.4 557.4 L220.7 557.2 L221.9 557.0 L223.1 556.8 L224.3 556.7 L225.4 556.4 L226.6 556.2 L227.7 556.0 L228.7 555.8 L229.8 555.6 L230.8 555.3 L231.8 555.0 L232.8 554.7 L233.8 554.4 L234.7 554.0 L235.6 553.5 L236.5 553.0 L237.4 552.5 L238.3 552.0 L239.1 551.4 L239.9 550.8 L240.7 550.2 L241.5 549.5 L242.2 548.8 L242.9 548.1 L243.6 547.3 L244.3 546.5 L244.9 545.7 L245.6 544.9 L246.3 544.0 L246.9 543.0 L247.5 542.1 L248.2 541.1 L248.8 540.0 L249.4 539.0 L250.0 537.9 L250.5 536.8 L251.1 535.6 L251.7 534.5 L252.2 533.3 L252.7 532.1 L253.3 530.9 L253.8 529.6 L254.3 528.4 L254.8 527.2 L255.3 525.9 L255.7 524.7 L256.2 523.5 L256.6 522.3 L257.1 521.1 L257.5 519.9 L257.9 518.6 L258.3 517.4 L258.7 516.2 L259.1 515.0 L259.5 513.8 L259.9 512.6 L260.3 511.4 L260.7 510.2 L261.1 508.9 L261.4 507.7 L261.8 506.5 L262.2 505.3 L262.5 504.1 L262.9 502.8 L263.2 501.6 L263.6 500.3 L263.9 499.1 L264.2 498.0 L264.6 496.8 L264.9 495.7 L265.2 494.6 L265.5 493.5 L265.7 492.5 L266.0 491.4 L266.3 490.4 L266.5 489.4 L266.8 488.5 L267.0 487.5 L267.3 486.5 L267.5 485.5 L267.8 484.5 L268.0 483.6 L268.2 482.8 L268.3 482.1 L268.4 481.5" stroke="#990000" stroke-width="3.0" fill="none" stroke-dasharray="5.3 4.3"/>
<path d="M220.6 512.3 L220.6 543.3" stroke="#000" stroke-width="1.6" fill="none"/>
<path d="M216.0 517.3 L225.2 517.3" stroke="#000" stroke-width="1.5" fill="none"/>
<path d="M216.0 538.1 L225.2 538.1" stroke="#000" stroke-width="1.5" fill="none"/>
<circle cx="220.6" cy="527.7" r="3.9" fill="#000"/>
<path d="M241.0 519.7 L241.0 553.0" stroke="#000" stroke-width="1.6" fill="none"/>
<path d="M236.4 524.8 L245.6 524.8" stroke="#000" stroke-width="1.5" fill="none"/>
<path d="M236.4 547.4 L245.6 547.4" stroke="#000" stroke-width="1.5" fill="none"/>
<circle cx="241.0" cy="536.1" r="3.9" fill="#000"/>
</g>
<g clip-path="url(#cp31)">
<path d="M416.4 556.2 L416.4 545.3 L416.9 545.2 L417.6 544.9 L418.4 544.6 L419.3 544.3 L420.2 543.9 L421.2 543.6 L422.1 543.2 L423.0 542.9 L423.9 542.5 L424.7 542.2 L425.6 541.8 L426.5 541.4 L427.4 541.1 L428.2 540.7 L429.1 540.2 L430.0 539.8 L430.8 539.3 L431.7 538.9 L432.6 538.4 L433.5 537.8 L434.4 537.3 L435.3 536.8 L436.1 536.2 L436.9 535.6 L437.7 535.1 L438.4 534.5 L439.1 534.0 L439.8 533.4 L440.4 532.8 L441.1 532.2 L441.8 531.5 L442.4 530.8 L443.2 530.0 L443.9 529.2 L444.6 528.4 L445.3 527.5 L446.0 526.6 L446.7 525.7 L447.4 524.8 L448.0 523.9 L448.6 522.9 L449.1 522.0 L449.7 521.1 L450.2 520.1 L450.7 519.2 L451.2 518.2 L451.7 517.2 L452.2 516.2 L452.6 515.2 L453.1 514.2 L453.5 513.2 L454.0 512.1 L454.4 511.1 L454.8 510.0 L455.2 508.9 L455.6 507.9 L456.0 506.9 L456.4 505.8 L456.7 504.8 L457.1 503.7 L457.4 502.7 L457.8 501.7 L458.1 500.6 L458.4 499.6 L458.7 498.5 L459.0 497.5 L459.2 496.4 L459.5 495.3 L459.8 494.3 L460.0 493.2 L460.2 492.2 L460.5 491.3 L460.7 490.3 L460.9 489.4 L461.1 488.5 L461.4 487.7 L461.6 486.8 L461.8 486.0 L462.0 485.2 L462.1 484.3 L462.3 483.4 L462.5 482.5 L462.7 481.5 L462.9 480.6 L463.1 479.7 L463.3 478.9 L463.4 478.2 L463.5 477.7 L463.5 477.6 L475.8 477.6 L475.8 535.8 L475.5 535.6 L473.0 535.9 L470.9 537.0 L468.8 538.7 L468.8 538.7 L468.5 538.7 L468.1 538.7 L467.5 538.8 L467.0 538.8 L466.4 538.9 L465.8 538.9 L465.2 539.0 L464.6 539.1 L464.1 539.2 L463.6 539.4 L463.1 539.5 L462.6 539.7 L462.1 539.8 L461.6 540.0 L461.1 540.2 L460.5 540.5 L459.9 540.8 L459.2 541.1 L458.5 541.4 L457.8 541.8 L457.1 542.1 L456.4 542.5 L455.6 542.9 L454.9 543.3 L454.2 543.6 L453.5 544.0 L452.9 544.5 L452.2 544.9 L451.5 545.3 L450.8 545.7 L450.1 546.1 L449.4 546.5 L448.7 546.8 L448.0 547.2 L447.4 547.5 L446.7 547.9 L446.0 548.2 L445.3 548.6 L444.6 548.9 L443.8 549.2 L443.0 549.6 L442.2 549.9 L441.3 550.2 L440.5 550.5 L439.6 550.8 L438.7 551.0 L437.8 551.3 L436.9 551.6 L436.0 551.8 L435.2 552.1 L434.3 552.3 L433.4 552.5 L432.6 552.8 L431.7 553.0 L430.8 553.2 L430.0 553.4 L429.1 553.6 L428.2 553.8 L427.4 554.1 L426.5 554.3 L425.6 554.5 L424.7 554.7 L423.9 554.9 L423.0 555.1 L422.1 555.2 L421.2 555.4 L420.2 555.6 L419.3 555.7 L418.4 555.9 L417.6 556.0 L416.9 556.1 L416.4 556.2" stroke="#ff00ff" stroke-width="1.4" fill="none" stroke-linejoin="round"/>
<path d="M463.5 477.60 H475.8" stroke="#ff00ff" stroke-width="2.0" fill="none"/>
<path d="M418.2 550.2 L418.8 550.0 L419.6 549.8 L420.5 549.6 L421.6 549.3 L422.7 549.0 L423.8 548.7 L424.8 548.4 L425.8 548.1 L426.7 547.8 L427.6 547.5 L428.5 547.2 L429.3 546.9 L430.2 546.5 L431.0 546.2 L431.9 545.8 L432.7 545.3 L433.6 544.9 L434.5 544.4 L435.4 543.9 L436.3 543.4 L437.2 542.9 L438.0 542.3 L438.9 541.8 L439.7 541.2 L440.4 540.6 L441.2 540.1 L441.9 539.5 L442.5 538.9 L443.2 538.3 L443.9 537.7 L444.5 537.0 L445.2 536.3 L445.9 535.6 L446.6 534.8 L447.3 533.9 L448.0 533.1 L448.7 532.2 L449.4 531.3 L450.1 530.3 L450.8 529.4 L451.4 528.4 L452.0 527.4 L452.7 526.4 L453.3 525.4 L453.9 524.3 L454.5 523.2 L455.1 522.2 L455.6 521.1 L456.2 520.0 L456.7 518.9 L457.3 517.7 L457.8 516.6 L458.3 515.5 L458.8 514.3 L459.3 513.2 L459.8 512.1 L460.3 510.9 L460.7 509.8 L461.1 508.7 L461.6 507.6 L462.0 506.4 L462.4 505.3 L462.8 504.2 L463.3 503.0 L463.7 501.9 L464.1 500.8 L464.6 499.6 L465.0 498.5 L465.5 497.3 L465.9 496.2 L466.3 495.1 L466.7 494.0 L467.1 493.0 L467.5 492.0 L467.8 491.0 L468.2 490.0 L468.5 489.0 L468.9 488.1 L469.2 487.2 L469.5 486.4 L469.8 485.6 L470.1 484.7 L470.4 483.9 L470.7 483.2 L471.0 482.4 L471.2 481.8 L471.4 481.3 L471.6 480.9" stroke="#ff00ff" stroke-width="1.7" fill="none" stroke-dasharray="1.7 3.17"/>
<path d="M416.8 557.1 L417.3 557.0 L417.9 556.9 L418.6 556.7 L419.5 556.6 L420.4 556.4 L421.3 556.2 L422.2 556.0 L423.0 555.8 L423.9 555.5 L424.7 555.3 L425.6 555.0 L426.5 554.8 L427.3 554.5 L428.2 554.2 L429.1 553.9 L430.0 553.7 L430.8 553.4 L431.7 553.2 L432.6 553.0 L433.5 552.7 L434.4 552.5 L435.2 552.2 L436.1 551.9 L436.9 551.6 L437.7 551.2 L438.5 550.9 L439.3 550.5 L440.1 550.1 L440.9 549.6 L441.6 549.2 L442.4 548.7 L443.1 548.1 L443.9 547.5 L444.6 546.9 L445.3 546.3 L446.0 545.6 L446.7 544.8 L447.4 544.1 L448.0 543.3 L448.7 542.6 L449.3 541.8 L450.0 541.0 L450.6 540.2 L451.2 539.4 L451.8 538.5 L452.3 537.6 L452.9 536.6 L453.5 535.6 L454.2 534.6 L454.8 533.4 L455.4 532.2 L456.0 531.0 L456.6 529.7 L457.2 528.5 L457.8 527.2 L458.4 525.9 L459.0 524.7 L459.5 523.4 L460.0 522.1 L460.6 520.7 L461.1 519.4 L461.6 518.1 L462.1 516.8 L462.6 515.5 L463.0 514.3 L463.5 513.1 L463.9 511.9 L464.3 510.7 L464.8 509.5 L465.2 508.3 L465.6 507.1 L466.0 505.8 L466.5 504.5 L466.9 503.3 L467.4 501.9 L467.8 500.6 L468.2 499.3 L468.7 498.0 L469.1 496.7 L469.5 495.4 L469.9 494.1 L470.3 492.8 L470.6 491.5 L471.0 490.3 L471.4 489.0 L471.7 487.8 L472.0 486.7 L472.3 485.7 L472.5 484.8 L472.7 483.9 L473.0 483.1 L473.1 482.3 L473.3 481.7 L473.4 481.1 L473.6 480.6 L473.7 480.2" stroke="#990000" stroke-width="3.0" fill="none" stroke-dasharray="5.3 4.3"/>
<path d="M432.3 503.0 L432.3 543.3" stroke="#000" stroke-width="1.6" fill="none"/>
<path d="M427.7 511.4 L436.9 511.4" stroke="#000" stroke-width="1.5" fill="none"/>
<path d="M427.7 534.9 L436.9 534.9" stroke="#000" stroke-width="1.5" fill="none"/>
<circle cx="432.3" cy="522.9" r="3.9" fill="#000"/>
<path d="M452.4 511.4 L452.4 562.0" stroke="#000" stroke-width="1.6" fill="none"/>
<path d="M447.8 522.2 L457.0 522.2" stroke="#000" stroke-width="1.5" fill="none"/>
<path d="M447.8 550.9 L457.0 550.9" stroke="#000" stroke-width="1.5" fill="none"/>
<circle cx="452.4" cy="536.6" r="3.9" fill="#000"/>
</g>
<g clip-path="url(#cp32)">
<path d="M647.4 546.0 L647.4 523.2 L647.7 522.7 L648.2 522.1 L648.8 521.4 L649.5 520.6 L650.2 519.8 L650.9 518.9 L651.5 518.0 L652.1 517.2 L652.7 516.4 L653.2 515.6 L653.8 514.8 L654.3 513.9 L654.9 513.1 L655.4 512.2 L655.9 511.3 L656.4 510.4 L656.8 509.5 L657.3 508.6 L657.7 507.7 L658.1 506.7 L658.5 505.8 L659.0 504.8 L659.4 503.8 L659.7 502.8 L660.1 501.8 L660.5 500.8 L660.9 499.7 L661.2 498.6 L661.6 497.6 L661.9 496.5 L662.3 495.4 L662.6 494.3 L663.0 493.3 L663.3 492.2 L663.6 491.1 L663.9 490.1 L664.3 489.0 L664.6 488.0 L664.9 486.9 L665.2 485.9 L665.5 484.8 L665.8 483.6 L666.1 482.4 L666.4 481.3 L666.7 480.2 L667.0 479.2 L667.2 478.4 L667.4 477.7 L667.4 477.6 L681.2 477.6 L681.2 526.8 L681.3 526.7 L681.1 526.8 L680.8 527.0 L680.4 527.2 L680.0 527.4 L679.6 527.6 L679.2 527.8 L678.8 528.0 L678.4 528.2 L678.0 528.4 L677.6 528.7 L677.2 528.9 L676.8 529.1 L676.4 529.3 L675.9 529.5 L675.5 529.7 L675.0 529.9 L674.5 530.1 L674.0 530.3 L673.5 530.5 L672.9 530.6 L672.4 530.8 L671.8 530.9 L671.3 531.1 L670.8 531.3 L670.2 531.5 L669.7 531.7 L669.2 531.8 L668.6 532.0 L668.1 532.2 L667.6 532.5 L667.1 532.7 L666.5 533.0 L666.0 533.3 L665.5 533.6 L665.0 534.0 L664.5 534.3 L663.9 534.7 L663.4 535.1 L662.9 535.5 L662.3 535.9 L661.7 536.3 L661.1 536.7 L660.4 537.1 L659.8 537.5 L659.1 538.0 L658.5 538.4 L657.8 538.8 L657.2 539.3 L656.6 539.7 L655.9 540.1 L655.3 540.5 L654.6 540.9 L654.0 541.4 L653.4 541.8 L652.7 542.2 L652.1 542.6 L651.5 543.1 L650.8 543.6 L650.1 544.1 L649.4 544.6 L648.8 545.0 L648.2 545.4 L647.7 545.8 L647.4 546.0" stroke="#ff00ff" stroke-width="1.4" fill="none" stroke-linejoin="round"/>
<path d="M667.4 477.60 H681.2" stroke="#ff00ff" stroke-width="2.0" fill="none"/>
<path d="M648.7 532.5 L649.1 532.2 L649.5 531.7 L650.0 531.2 L650.6 530.7 L651.2 530.1 L651.8 529.5 L652.4 528.8 L653.0 528.2 L653.5 527.7 L654.0 527.1 L654.6 526.5 L655.1 525.9 L655.6 525.2 L656.1 524.6 L656.7 523.9 L657.2 523.2 L657.7 522.4 L658.3 521.6 L658.8 520.8 L659.3 519.9 L659.9 519.1 L660.4 518.2 L660.9 517.3 L661.4 516.4 L662.0 515.5 L662.5 514.5 L663.1 513.6 L663.6 512.7 L664.1 511.7 L664.7 510.7 L665.2 509.7 L665.7 508.7 L666.2 507.7 L666.6 506.7 L667.1 505.6 L667.6 504.6 L668.0 503.5 L668.5 502.4 L669.0 501.3 L669.4 500.3 L669.9 499.2 L670.3 498.1 L670.8 497.1 L671.2 496.0 L671.7 494.9 L672.1 493.9 L672.6 492.8 L673.0 491.8 L673.4 490.8 L673.8 489.8 L674.1 488.8 L674.5 487.8 L674.9 486.8 L675.2 485.9 L675.5 485.0 L675.8 484.2 L676.2 483.4 L676.5 482.6 L676.8 481.9 L677.0 481.2 L677.3 480.5 L677.5 479.9 L677.7 479.5 L677.9 479.1" stroke="#ff00ff" stroke-width="1.7" fill="none" stroke-dasharray="1.7 3.17"/>
<path d="M647.9 542.6 L648.2 542.3 L648.6 541.8 L649.2 541.1 L649.7 540.5 L650.3 539.8 L651.0 539.0 L651.6 538.3 L652.1 537.6 L652.6 536.9 L653.2 536.2 L653.7 535.4 L654.2 534.7 L654.8 534.0 L655.3 533.2 L655.8 532.4 L656.4 531.6 L656.9 530.8 L657.4 530.0 L657.9 529.2 L658.5 528.4 L659.0 527.6 L659.5 526.7 L660.1 525.8 L660.6 524.8 L661.1 523.9 L661.7 522.9 L662.2 521.8 L662.7 520.8 L663.2 519.7 L663.8 518.6 L664.3 517.5 L664.8 516.4 L665.4 515.2 L665.9 514.1 L666.4 512.9 L667.0 511.8 L667.5 510.6 L668.0 509.4 L668.6 508.2 L669.1 507.1 L669.6 505.9 L670.0 504.7 L670.5 503.6 L671.0 502.4 L671.4 501.2 L671.9 500.1 L672.4 498.9 L672.8 497.7 L673.2 496.6 L673.7 495.4 L674.1 494.2 L674.6 493.0 L675.0 491.8 L675.4 490.6 L675.8 489.5 L676.2 488.4 L676.6 487.3 L677.0 486.2 L677.4 485.1 L677.8 484.0 L678.1 483.0 L678.4 482.1 L678.7 481.4 L678.9 480.8" stroke="#990000" stroke-width="3.0" fill="none" stroke-dasharray="5.3 4.3"/>
<path d="M668.6 474.0 L668.6 579.9" stroke="#000" stroke-width="1.6" fill="none"/>
<path d="M664.0 491.5 L673.2 491.5" stroke="#000" stroke-width="1.5" fill="none"/>
<path d="M664.0 554.0 L673.2 554.0" stroke="#000" stroke-width="1.5" fill="none"/>
<circle cx="668.6" cy="523.2" r="3.9" fill="#000"/>
</g>
<path d="M271.90 332.42 h-4.10 M271.90 316.28 h-8.30 M271.90 300.14 h-4.10 M271.90 284.00 h-8.30 M271.90 267.86 h-4.10 M271.90 251.72 h-8.30 M271.90 235.58 h-4.10 M271.90 461.52 h-4.10 M271.90 445.38 h-8.30 M271.90 429.24 h-4.10 M271.90 413.10 h-8.30 M271.90 396.96 h-4.10 M271.90 380.82 h-8.30 M271.90 364.68 h-4.10 M271.90 590.77 h-3.10 M271.90 574.63 h-6.00 M271.90 558.49 h-3.10 M271.90 542.35 h-6.00 M271.90 526.21 h-3.10 M271.90 510.07 h-6.00 M271.90 493.93 h-3.10" stroke="#000" stroke-width="1.15" fill="none"/>
<text transform="translate(60.4,129.2) scale(0.918,1)" font-size="15.9" text-anchor="end">1.2</text>
<text transform="translate(60.4,161.5) scale(0.918,1)" font-size="15.9" text-anchor="end">1</text>
<text transform="translate(60.4,193.8) scale(0.918,1)" font-size="15.9" text-anchor="end">0.8</text>
<text transform="translate(60.4,258.4) scale(0.918,1)" font-size="15.9" text-anchor="end">1.2</text>
<text transform="translate(60.4,290.6) scale(0.918,1)" font-size="15.9" text-anchor="end">1</text>
<text transform="translate(60.4,322.9) scale(0.918,1)" font-size="15.9" text-anchor="end">0.8</text>
<text transform="translate(60.4,387.5) scale(0.918,1)" font-size="15.9" text-anchor="end">1.2</text>
<text transform="translate(60.4,419.8) scale(0.918,1)" font-size="15.9" text-anchor="end">1</text>
<text transform="translate(60.4,452.0) scale(0.918,1)" font-size="15.9" text-anchor="end">0.8</text>
<text transform="translate(60.4,516.3) scale(0.935,1)" font-size="15.6" text-anchor="end">1.2</text>
<text transform="translate(60.4,548.6) scale(0.935,1)" font-size="15.6" text-anchor="end">1</text>
<text transform="translate(60.4,580.8) scale(0.935,1)" font-size="15.6" text-anchor="end">0.8</text>
<text transform="translate(119.9,631.9) scale(0.925,1)" font-size="16.3" text-anchor="end">10</text>
<text x="119.5" y="625.0" font-size="10.6" text-anchor="start" textLength="9.0" lengthAdjust="spacingAndGlyphs">-4</text>
<text transform="translate(171.2,631.9) scale(0.925,1)" font-size="16.3" text-anchor="end">10</text>
<text x="170.8" y="625.0" font-size="10.6" text-anchor="start" textLength="9.0" lengthAdjust="spacingAndGlyphs">-3</text>
<text transform="translate(222.6,631.9) scale(0.925,1)" font-size="16.3" text-anchor="end">10</text>
<text x="222.2" y="625.0" font-size="10.6" text-anchor="start" textLength="9.0" lengthAdjust="spacingAndGlyphs">-2</text>
<text transform="translate(325.6,631.9) scale(0.925,1)" font-size="16.3" text-anchor="end">10</text>
<text x="325.2" y="625.0" font-size="10.6" text-anchor="start" textLength="9.0" lengthAdjust="spacingAndGlyphs">-4</text>
<text transform="translate(376.9,631.9) scale(0.925,1)" font-size="16.3" text-anchor="end">10</text>
<text x="376.6" y="625.0" font-size="10.6" text-anchor="start" textLength="9.0" lengthAdjust="spacingAndGlyphs">-3</text>
<text transform="translate(428.3,631.9) scale(0.925,1)" font-size="16.3" text-anchor="end">10</text>
<text x="427.9" y="625.0" font-size="10.6" text-anchor="start" textLength="9.0" lengthAdjust="spacingAndGlyphs">-2</text>
<text transform="translate(531.5,631.9) scale(0.925,1)" font-size="16.3" text-anchor="end">10</text>
<text x="531.1" y="625.0" font-size="10.6" text-anchor="start" textLength="9.0" lengthAdjust="spacingAndGlyphs">-4</text>
<text transform="translate(582.9,631.9) scale(0.925,1)" font-size="16.3" text-anchor="end">10</text>
<text x="582.5" y="625.0" font-size="10.6" text-anchor="start" textLength="9.0" lengthAdjust="spacingAndGlyphs">-3</text>
<text transform="translate(634.2,631.9) scale(0.925,1)" font-size="16.3" text-anchor="end">10</text>
<text x="633.9" y="625.0" font-size="10.6" text-anchor="start" textLength="9.0" lengthAdjust="spacingAndGlyphs">-2</text>
<text transform="translate(75.9,208.4) scale(0.942,1)" font-size="14.65">Q<tspan dy="-6.1" font-size="10.2">2</tspan><tspan dy="6.1" dx="0.8"> = 2.5 GeV</tspan><tspan dy="-6.7" dx="1.3" font-size="10.2">2</tspan></text>
<text transform="translate(281.4,208.4) scale(0.942,1)" font-size="14.65">Q<tspan dy="-6.1" font-size="10.2">2</tspan><tspan dy="6.1" dx="0.8"> = 5 GeV</tspan><tspan dy="-6.7" dx="1.3" font-size="10.2">2</tspan></text>
<text transform="translate(487.5,208.4) scale(0.942,1)" font-size="14.65">Q<tspan dy="-6.1" font-size="10.2">2</tspan><tspan dy="6.1" dx="0.8"> = 7 GeV</tspan><tspan dy="-6.7" dx="1.3" font-size="10.2">2</tspan></text>
<text transform="translate(75.9,240.4) scale(0.942,1)" font-size="14.65">Q<tspan dy="-6.1" font-size="10.2">2</tspan><tspan dy="6.1" dx="0.8"> = 12 GeV</tspan><tspan dy="-6.7" dx="1.3" font-size="10.2">2</tspan></text>
<text transform="translate(281.4,240.4) scale(0.942,1)" font-size="14.65">Q<tspan dy="-6.1" font-size="10.2">2</tspan><tspan dy="6.1" dx="0.8"> = 18 GeV</tspan><tspan dy="-6.7" dx="1.3" font-size="10.2">2</tspan></text>
<text transform="translate(487.5,240.4) scale(0.942,1)" font-size="14.65">Q<tspan dy="-6.1" font-size="10.2">2</tspan><tspan dy="6.1" dx="0.8"> = 32 GeV</tspan><tspan dy="-6.7" dx="1.3" font-size="10.2">2</tspan></text>
<text transform="translate(75.9,369.6) scale(0.942,1)" font-size="14.65">Q<tspan dy="-6.1" font-size="10.2">2</tspan><tspan dy="6.1" dx="0.8"> = 60 GeV</tspan><tspan dy="-6.7" dx="1.3" font-size="10.2">2</tspan></text>
<text transform="translate(281.4,369.6) scale(0.942,1)" font-size="14.65">Q<tspan dy="-6.1" font-size="10.2">2</tspan><tspan dy="6.1" dx="0.8"> = 120 GeV</tspan><tspan dy="-6.7" dx="1.3" font-size="10.2">2</tspan></text>
<text transform="translate(487.5,369.6) scale(0.942,1)" font-size="14.65">Q<tspan dy="-6.1" font-size="10.2">2</tspan><tspan dy="6.1" dx="0.8"> = 200 GeV</tspan><tspan dy="-6.7" dx="1.3" font-size="10.2">2</tspan></text>
<text transform="translate(76.3,501.8) scale(0.942,1)" font-size="14.65">Q<tspan dy="-6.1" font-size="10.2">2</tspan><tspan dy="6.1" dx="0.8"> = 350 GeV</tspan><tspan dy="-6.0" dx="-0.4" font-size="10.2">2</tspan></text>
<text transform="translate(281.0,501.8) scale(0.942,1)" font-size="14.65">Q<tspan dy="-6.1" font-size="10.2">2</tspan><tspan dy="6.1" dx="0.8"> = 650 GeV</tspan><tspan dy="-6.0" dx="0.7" font-size="10.2">2</tspan></text>
<text transform="translate(487.0,501.8) scale(0.942,1)" font-size="14.65">Q<tspan dy="-6.1" font-size="10.2">2</tspan><tspan dy="6.1" dx="0.8"> = 2000 GeV</tspan><tspan dy="-6.0" dx="1.7" font-size="10.2">2</tspan></text>
<text x="660.9" y="638.8" font-size="17.6">x</text>
<text x="672.2" y="643.4" font-size="12.3" dy="0.6">Bj</text>
<text x="681.7" y="77.6" font-size="21" text-anchor="end" textLength="126" lengthAdjust="spacingAndGlyphs">H1 and ZEUS</text>
<g transform="translate(17.1,185) rotate(-90)"><text x="0.8" y="0" font-size="17.9" style="font-weight:normal">σ</text><text x="15.6" y="-6.0" font-size="10.9">cc</text><path d="M20.6 -15.2 h4.9" stroke="#000" stroke-width="1.3"/><text x="12.8" y="5.6" font-size="11.7">red</text><text x="35.8" y="0" font-size="19">/</text><text x="41.0" y="0" font-size="17.9" style="font-weight:normal">σ</text><text x="55.6" y="-6.0" font-size="10.9">cc</text><text x="70.3" y="-6.0" font-size="11.7">nom</text><path d="M60.6 -15.2 h4.9" stroke="#000" stroke-width="1.3"/><text x="52.8" y="5.6" font-size="11.7">red</text></g>
<circle cx="97.7" cy="8.7" r="3.6" fill="#000"/>
<rect x="75.6" y="22.3" width="44.4" height="14.9" fill="#acbdc6"/>
<path d="M75.6 29.8 H120" stroke="#2727e6" stroke-width="1.7"/>
<rect x="75.75" y="43.45" width="44.2" height="14.9" fill="none" stroke="#ff00ff" stroke-width="1.3"/>
<path d="M75.5 51.2 H119" stroke="#ff00ff" stroke-width="1.7" stroke-dasharray="1.7 3.17"/>
<path d="M75.7 72.6 H120" stroke="#990000" stroke-width="3.0" stroke-dasharray="5.3 4.3"/>
<text transform="translate(128.6,14.2) scale(0.943,1)" font-size="15.65">HERA</text>
<text transform="translate(128.6,34.5) scale(0.943,1)" font-size="15.65">NLO HERAPDF2.0 FF3A</text>
<text transform="translate(128.6,55.6) scale(0.943,1)" font-size="15.65">NNPDF31sx NNLO FONLL-C</text>
<text transform="translate(128.6,76.5) scale(0.943,1)" font-size="15.65">NNPDF31sx NNLO+NLLX FONLL-C</text>
</svg></body></html>
